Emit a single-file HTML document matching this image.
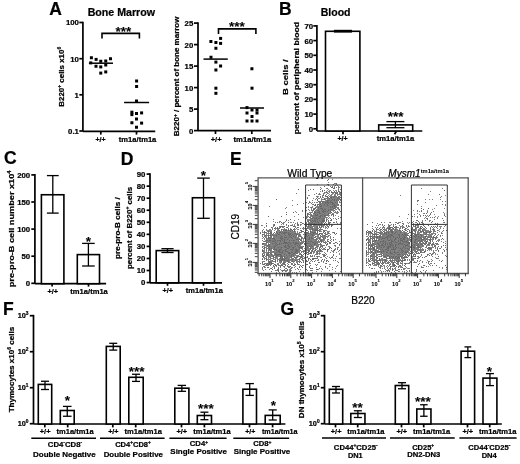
<!DOCTYPE html>
<html><head><meta charset="utf-8"><style>
html,body{margin:0;padding:0;background:#fff;}
svg{display:block;font-family:'Liberation Sans', Arial, sans-serif;}
text{stroke:#000;stroke-width:0.22px;}
</style></head><body>
<svg width="520" height="464" viewBox="0 0 520 464">
<rect width="520" height="464" fill="#fff"/>
<text x="49.20" y="14.75" font-size="17.5" font-weight="bold" text-anchor="start">A</text>
<text x="278.90" y="14.50" font-size="17.5" font-weight="bold" text-anchor="start">B</text>
<text x="4.00" y="164.40" font-size="17.5" font-weight="bold" text-anchor="start">C</text>
<text x="120.80" y="164.75" font-size="17.5" font-weight="bold" text-anchor="start">D</text>
<text x="230.10" y="164.75" font-size="17.5" font-weight="bold" text-anchor="start">E</text>
<text x="2.90" y="315.25" font-size="17.5" font-weight="bold" text-anchor="start">F</text>
<text x="280.50" y="315.00" font-size="17.5" font-weight="bold" text-anchor="start">G</text>
<text x="121.35" y="16.10" font-size="10.2" font-weight="bold" text-anchor="middle" textLength="67.40" lengthAdjust="spacingAndGlyphs">Bone Marrow</text>
<line x1="82.90" y1="21.65" x2="82.90" y2="131.30" stroke="#000" stroke-width="1.7"/>
<line x1="79.30" y1="22.50" x2="82.90" y2="22.50" stroke="#000" stroke-width="1.7"/>
<text x="78.90" y="25.40" font-size="7.8" font-weight="bold" text-anchor="end">100</text>
<line x1="79.30" y1="58.70" x2="82.90" y2="58.70" stroke="#000" stroke-width="1.7"/>
<text x="78.90" y="61.60" font-size="7.8" font-weight="bold" text-anchor="end">10</text>
<line x1="79.30" y1="94.80" x2="82.90" y2="94.80" stroke="#000" stroke-width="1.7"/>
<text x="78.90" y="97.70" font-size="7.8" font-weight="bold" text-anchor="end">1</text>
<line x1="79.30" y1="131.00" x2="82.90" y2="131.00" stroke="#000" stroke-width="1.7"/>
<text x="78.90" y="133.90" font-size="7.8" font-weight="bold" text-anchor="end">0.1</text>
<line x1="82.90" y1="131.30" x2="155.20" y2="131.30" stroke="#000" stroke-width="1.7"/>
<line x1="100.80" y1="131.30" x2="100.80" y2="134.60" stroke="#000" stroke-width="1.7"/>
<line x1="136.50" y1="131.30" x2="136.50" y2="134.60" stroke="#000" stroke-width="1.7"/>
<text x="100.55" y="141.50" font-size="7.3" font-weight="bold" text-anchor="middle" textLength="10.20" lengthAdjust="spacingAndGlyphs">+/+</text>
<text x="137.60" y="141.50" font-size="7.3" font-weight="bold" text-anchor="middle" textLength="37.50" lengthAdjust="spacingAndGlyphs">tm1a/tm1a</text>
<path d="M102,38.6 V33.4 H139.4 V38.6" stroke="#000" stroke-width="1.6" fill="none"/>
<text x="123.40" y="36.00" font-size="13.5" font-weight="bold" text-anchor="middle" style="stroke-width:0.1px">***</text>
<rect x="89.90" y="56.25" width="3.0" height="3.0" fill="#000"/>
<rect x="94.60" y="57.90" width="3.0" height="3.0" fill="#000"/>
<rect x="99.25" y="59.75" width="3.0" height="3.0" fill="#000"/>
<rect x="104.25" y="59.50" width="3.0" height="3.0" fill="#000"/>
<rect x="109.00" y="57.25" width="3.0" height="3.0" fill="#000"/>
<rect x="89.25" y="61.40" width="3.0" height="3.0" fill="#000"/>
<rect x="94.50" y="64.75" width="3.0" height="3.0" fill="#000"/>
<rect x="99.25" y="65.40" width="3.0" height="3.0" fill="#000"/>
<rect x="104.25" y="63.50" width="3.0" height="3.0" fill="#000"/>
<rect x="99.25" y="71.60" width="3.0" height="3.0" fill="#000"/>
<rect x="104.25" y="70.40" width="3.0" height="3.0" fill="#000"/>
<rect x="135.10" y="79.50" width="3.0" height="3.0" fill="#000"/>
<rect x="135.10" y="85.00" width="3.0" height="3.0" fill="#000"/>
<rect x="135.00" y="99.50" width="3.0" height="3.0" fill="#000"/>
<rect x="130.40" y="110.70" width="3.0" height="3.0" fill="#000"/>
<rect x="130.40" y="113.10" width="3.0" height="3.0" fill="#000"/>
<rect x="135.00" y="112.00" width="3.0" height="3.0" fill="#000"/>
<rect x="140.10" y="111.40" width="3.0" height="3.0" fill="#000"/>
<rect x="135.00" y="117.50" width="3.0" height="3.0" fill="#000"/>
<rect x="130.40" y="121.25" width="3.0" height="3.0" fill="#000"/>
<rect x="140.10" y="121.60" width="3.0" height="3.0" fill="#000"/>
<rect x="135.00" y="125.75" width="3.0" height="3.0" fill="#000"/>
<line x1="88.90" y1="63.20" x2="113.00" y2="63.20" stroke="#000" stroke-width="1.5"/>
<line x1="124.10" y1="102.50" x2="149.10" y2="102.50" stroke="#000" stroke-width="1.5"/>
<text x="64.00" y="76.75" font-size="8" font-weight="bold" text-anchor="middle" transform="rotate(-90 64.00 76.75)" textLength="59.80" lengthAdjust="spacingAndGlyphs">B220<tspan dy="-2.9" font-size="5">+</tspan><tspan dy="2.9"> cells x10</tspan><tspan dy="-2.9" font-size="5">6</tspan></text>
<line x1="198.00" y1="22.25" x2="198.00" y2="130.70" stroke="#000" stroke-width="1.7"/>
<line x1="194.00" y1="23.10" x2="198.00" y2="23.10" stroke="#000" stroke-width="1.7"/>
<text x="193.30" y="26.00" font-size="7.8" font-weight="bold" text-anchor="end">25</text>
<line x1="194.00" y1="44.60" x2="198.00" y2="44.60" stroke="#000" stroke-width="1.7"/>
<text x="193.30" y="47.50" font-size="7.8" font-weight="bold" text-anchor="end">20</text>
<line x1="194.00" y1="66.10" x2="198.00" y2="66.10" stroke="#000" stroke-width="1.7"/>
<text x="193.30" y="69.00" font-size="7.8" font-weight="bold" text-anchor="end">15</text>
<line x1="194.00" y1="87.60" x2="198.00" y2="87.60" stroke="#000" stroke-width="1.7"/>
<text x="193.30" y="90.50" font-size="7.8" font-weight="bold" text-anchor="end">10</text>
<line x1="194.00" y1="109.10" x2="198.00" y2="109.10" stroke="#000" stroke-width="1.7"/>
<text x="193.30" y="112.00" font-size="7.8" font-weight="bold" text-anchor="end">5</text>
<line x1="194.00" y1="130.60" x2="198.00" y2="130.60" stroke="#000" stroke-width="1.7"/>
<text x="193.30" y="133.50" font-size="7.8" font-weight="bold" text-anchor="end">0</text>
<line x1="198.00" y1="130.70" x2="271.00" y2="130.70" stroke="#000" stroke-width="1.7"/>
<line x1="215.50" y1="130.70" x2="215.50" y2="134.00" stroke="#000" stroke-width="1.7"/>
<line x1="251.80" y1="130.70" x2="251.80" y2="134.00" stroke="#000" stroke-width="1.7"/>
<text x="216.10" y="141.50" font-size="7.3" font-weight="bold" text-anchor="middle" textLength="10.90" lengthAdjust="spacingAndGlyphs">+/+</text>
<text x="252.45" y="141.50" font-size="7.3" font-weight="bold" text-anchor="middle" textLength="37.80" lengthAdjust="spacingAndGlyphs">tm1a/tm1a</text>
<path d="M218.5,33.9 V28.9 H255.9 V33.9" stroke="#000" stroke-width="1.6" fill="none"/>
<text x="236.90" y="31.10" font-size="13.5" font-weight="bold" text-anchor="middle" style="stroke-width:0.1px">***</text>
<rect x="209.40" y="40.00" width="3.0" height="3.0" fill="#000"/>
<rect x="214.40" y="41.00" width="3.0" height="3.0" fill="#000"/>
<rect x="219.10" y="36.90" width="3.0" height="3.0" fill="#000"/>
<rect x="219.10" y="41.90" width="3.0" height="3.0" fill="#000"/>
<rect x="214.40" y="46.75" width="3.0" height="3.0" fill="#000"/>
<rect x="209.50" y="55.75" width="3.0" height="3.0" fill="#000"/>
<rect x="214.40" y="60.60" width="3.0" height="3.0" fill="#000"/>
<rect x="219.10" y="64.50" width="3.0" height="3.0" fill="#000"/>
<rect x="214.40" y="68.50" width="3.0" height="3.0" fill="#000"/>
<rect x="214.40" y="86.70" width="3.0" height="3.0" fill="#000"/>
<rect x="214.40" y="91.80" width="3.0" height="3.0" fill="#000"/>
<rect x="250.40" y="67.25" width="3.0" height="3.0" fill="#000"/>
<rect x="250.50" y="86.70" width="3.0" height="3.0" fill="#000"/>
<rect x="245.50" y="106.10" width="3.0" height="3.0" fill="#000"/>
<rect x="245.50" y="111.50" width="3.0" height="3.0" fill="#000"/>
<rect x="250.50" y="108.50" width="3.0" height="3.0" fill="#000"/>
<rect x="255.50" y="108.50" width="3.0" height="3.0" fill="#000"/>
<rect x="255.50" y="111.50" width="3.0" height="3.0" fill="#000"/>
<rect x="250.50" y="115.00" width="3.0" height="3.0" fill="#000"/>
<rect x="245.50" y="119.50" width="3.0" height="3.0" fill="#000"/>
<rect x="250.50" y="119.50" width="3.0" height="3.0" fill="#000"/>
<rect x="255.50" y="119.50" width="3.0" height="3.0" fill="#000"/>
<line x1="203.50" y1="59.10" x2="227.80" y2="59.10" stroke="#000" stroke-width="1.5"/>
<line x1="240.00" y1="108.00" x2="264.00" y2="108.00" stroke="#000" stroke-width="1.5"/>
<text x="179.50" y="76.35" font-size="8" font-weight="bold" text-anchor="middle" transform="rotate(-90 179.50 76.35)" textLength="119.60" lengthAdjust="spacingAndGlyphs">B220<tspan dy="-2.9" font-size="5">+</tspan><tspan dy="2.9"> / percent of bone marrow</tspan></text>
<text x="335.60" y="15.90" font-size="10.6" font-weight="bold" text-anchor="middle" textLength="29.90" lengthAdjust="spacingAndGlyphs">Blood</text>
<line x1="316.90" y1="25.05" x2="316.90" y2="131.00" stroke="#000" stroke-width="1.7"/>
<line x1="313.30" y1="25.90" x2="316.90" y2="25.90" stroke="#000" stroke-width="1.7"/>
<text x="313.20" y="28.80" font-size="7.8" font-weight="bold" text-anchor="end">70</text>
<line x1="313.30" y1="40.60" x2="316.90" y2="40.60" stroke="#000" stroke-width="1.7"/>
<text x="313.20" y="43.50" font-size="7.8" font-weight="bold" text-anchor="end">60</text>
<line x1="313.30" y1="55.30" x2="316.90" y2="55.30" stroke="#000" stroke-width="1.7"/>
<text x="313.20" y="58.20" font-size="7.8" font-weight="bold" text-anchor="end">50</text>
<line x1="313.30" y1="70.00" x2="316.90" y2="70.00" stroke="#000" stroke-width="1.7"/>
<text x="313.20" y="72.90" font-size="7.8" font-weight="bold" text-anchor="end">40</text>
<line x1="313.30" y1="84.70" x2="316.90" y2="84.70" stroke="#000" stroke-width="1.7"/>
<text x="313.20" y="87.60" font-size="7.8" font-weight="bold" text-anchor="end">30</text>
<line x1="313.30" y1="99.40" x2="316.90" y2="99.40" stroke="#000" stroke-width="1.7"/>
<text x="313.20" y="102.30" font-size="7.8" font-weight="bold" text-anchor="end">20</text>
<line x1="313.30" y1="114.10" x2="316.90" y2="114.10" stroke="#000" stroke-width="1.7"/>
<text x="313.20" y="117.00" font-size="7.8" font-weight="bold" text-anchor="end">10</text>
<line x1="313.30" y1="128.80" x2="316.90" y2="128.80" stroke="#000" stroke-width="1.7"/>
<text x="313.20" y="131.70" font-size="7.8" font-weight="bold" text-anchor="end">0</text>
<line x1="316.90" y1="131.00" x2="422.30" y2="131.00" stroke="#000" stroke-width="1.7"/>
<rect x="325.50" y="31.30" width="34.40" height="99.70" fill="#fff" stroke="#000" stroke-width="1.6"/>
<line x1="333.90" y1="31.20" x2="352.00" y2="31.20" stroke="#000" stroke-width="2.8"/>
<rect x="378.70" y="124.90" width="34.00" height="6.10" fill="#fff" stroke="#000" stroke-width="1.6"/>
<line x1="395.40" y1="121.60" x2="395.40" y2="127.70" stroke="#000" stroke-width="1.3"/>
<line x1="386.40" y1="121.60" x2="404.40" y2="121.60" stroke="#000" stroke-width="1.3"/>
<line x1="386.40" y1="127.70" x2="404.40" y2="127.70" stroke="#000" stroke-width="1.3"/>
<text x="395.60" y="121.40" font-size="13.5" font-weight="bold" text-anchor="middle" style="stroke-width:0.1px">***</text>
<line x1="343.00" y1="131.00" x2="343.00" y2="134.30" stroke="#000" stroke-width="1.7"/>
<line x1="396.50" y1="131.00" x2="394.50" y2="134.30" stroke="#000" stroke-width="1.7"/>
<text x="342.55" y="141.30" font-size="7.3" font-weight="bold" text-anchor="middle" textLength="10.20" lengthAdjust="spacingAndGlyphs">+/+</text>
<text x="395.50" y="141.30" font-size="7.3" font-weight="bold" text-anchor="middle" textLength="37.70" lengthAdjust="spacingAndGlyphs">tm1a/tm1a</text>
<text x="287.90" y="77.20" font-size="8" font-weight="bold" text-anchor="middle" transform="rotate(-90 287.90 77.20)" textLength="35.70" lengthAdjust="spacingAndGlyphs">B cells /</text>
<text x="298.90" y="78.10" font-size="8" font-weight="bold" text-anchor="middle" transform="rotate(-90 298.90 78.10)" textLength="112.30" lengthAdjust="spacingAndGlyphs">percent of peripheral blood</text>
<line x1="34.90" y1="174.05" x2="34.90" y2="283.70" stroke="#000" stroke-width="1.7"/>
<line x1="31.30" y1="174.90" x2="34.90" y2="174.90" stroke="#000" stroke-width="1.7"/>
<text x="30.20" y="177.80" font-size="7.8" font-weight="bold" text-anchor="end">200</text>
<line x1="31.30" y1="202.00" x2="34.90" y2="202.00" stroke="#000" stroke-width="1.7"/>
<text x="30.20" y="204.90" font-size="7.8" font-weight="bold" text-anchor="end">150</text>
<line x1="31.30" y1="229.10" x2="34.90" y2="229.10" stroke="#000" stroke-width="1.7"/>
<text x="30.20" y="232.00" font-size="7.8" font-weight="bold" text-anchor="end">100</text>
<line x1="31.30" y1="256.20" x2="34.90" y2="256.20" stroke="#000" stroke-width="1.7"/>
<text x="30.20" y="259.10" font-size="7.8" font-weight="bold" text-anchor="end">50</text>
<line x1="31.30" y1="283.30" x2="34.90" y2="283.30" stroke="#000" stroke-width="1.7"/>
<text x="30.20" y="286.20" font-size="7.8" font-weight="bold" text-anchor="end">0</text>
<line x1="34.90" y1="283.70" x2="106.10" y2="283.70" stroke="#000" stroke-width="1.7"/>
<rect x="41.40" y="194.75" width="22.50" height="88.95" fill="#fff" stroke="#000" stroke-width="1.6"/>
<line x1="52.80" y1="175.60" x2="52.80" y2="213.10" stroke="#000" stroke-width="1.3"/>
<line x1="46.90" y1="175.60" x2="58.70" y2="175.60" stroke="#000" stroke-width="1.3"/>
<line x1="46.90" y1="213.10" x2="58.70" y2="213.10" stroke="#000" stroke-width="1.3"/>
<rect x="77.30" y="254.60" width="22.20" height="29.10" fill="#fff" stroke="#000" stroke-width="1.6"/>
<line x1="88.40" y1="243.40" x2="88.40" y2="266.00" stroke="#000" stroke-width="1.3"/>
<line x1="82.10" y1="243.40" x2="94.70" y2="243.40" stroke="#000" stroke-width="1.3"/>
<line x1="82.10" y1="266.00" x2="94.70" y2="266.00" stroke="#000" stroke-width="1.3"/>
<text x="88.30" y="246.20" font-size="13.5" font-weight="bold" text-anchor="middle" style="stroke-width:0.1px">*</text>
<line x1="52.10" y1="283.70" x2="52.10" y2="286.60" stroke="#000" stroke-width="1.7"/>
<line x1="88.50" y1="283.70" x2="88.50" y2="286.60" stroke="#000" stroke-width="1.7"/>
<text x="52.75" y="293.80" font-size="7.3" font-weight="bold" text-anchor="middle" textLength="10.60" lengthAdjust="spacingAndGlyphs">+/+</text>
<text x="89.10" y="293.80" font-size="7.3" font-weight="bold" text-anchor="middle" textLength="37.50" lengthAdjust="spacingAndGlyphs">tm1a/tm1a</text>
<text x="14.00" y="228.90" font-size="8" font-weight="bold" text-anchor="middle" transform="rotate(-90 14.00 228.90)" textLength="116.70" lengthAdjust="spacingAndGlyphs">pre-pro-B cell number x10<tspan dy="-2.9" font-size="5">4</tspan></text>
<line x1="150.00" y1="173.25" x2="150.00" y2="282.80" stroke="#000" stroke-width="1.7"/>
<line x1="146.60" y1="174.10" x2="150.00" y2="174.10" stroke="#000" stroke-width="1.7"/>
<text x="145.40" y="177.00" font-size="7.8" font-weight="bold" text-anchor="end">90</text>
<line x1="146.60" y1="186.15" x2="150.00" y2="186.15" stroke="#000" stroke-width="1.7"/>
<text x="145.40" y="189.05" font-size="7.8" font-weight="bold" text-anchor="end">80</text>
<line x1="146.60" y1="198.20" x2="150.00" y2="198.20" stroke="#000" stroke-width="1.7"/>
<text x="145.40" y="201.10" font-size="7.8" font-weight="bold" text-anchor="end">70</text>
<line x1="146.60" y1="210.25" x2="150.00" y2="210.25" stroke="#000" stroke-width="1.7"/>
<text x="145.40" y="213.15" font-size="7.8" font-weight="bold" text-anchor="end">60</text>
<line x1="146.60" y1="222.30" x2="150.00" y2="222.30" stroke="#000" stroke-width="1.7"/>
<text x="145.40" y="225.20" font-size="7.8" font-weight="bold" text-anchor="end">50</text>
<line x1="146.60" y1="234.35" x2="150.00" y2="234.35" stroke="#000" stroke-width="1.7"/>
<text x="145.40" y="237.25" font-size="7.8" font-weight="bold" text-anchor="end">40</text>
<line x1="146.60" y1="246.40" x2="150.00" y2="246.40" stroke="#000" stroke-width="1.7"/>
<text x="145.40" y="249.30" font-size="7.8" font-weight="bold" text-anchor="end">30</text>
<line x1="146.60" y1="258.45" x2="150.00" y2="258.45" stroke="#000" stroke-width="1.7"/>
<text x="145.40" y="261.35" font-size="7.8" font-weight="bold" text-anchor="end">20</text>
<line x1="146.60" y1="270.50" x2="150.00" y2="270.50" stroke="#000" stroke-width="1.7"/>
<text x="145.40" y="273.40" font-size="7.8" font-weight="bold" text-anchor="end">10</text>
<line x1="146.60" y1="282.55" x2="150.00" y2="282.55" stroke="#000" stroke-width="1.7"/>
<text x="145.40" y="285.45" font-size="7.8" font-weight="bold" text-anchor="end">0</text>
<line x1="150.00" y1="282.80" x2="222.00" y2="282.80" stroke="#000" stroke-width="1.7"/>
<rect x="156.20" y="250.60" width="22.50" height="32.20" fill="#fff" stroke="#000" stroke-width="1.6"/>
<line x1="167.50" y1="248.70" x2="167.50" y2="252.50" stroke="#000" stroke-width="1.3"/>
<line x1="161.40" y1="248.70" x2="173.60" y2="248.70" stroke="#000" stroke-width="1.3"/>
<line x1="161.40" y1="252.50" x2="173.60" y2="252.50" stroke="#000" stroke-width="1.3"/>
<rect x="192.40" y="197.75" width="22.10" height="85.05" fill="#fff" stroke="#000" stroke-width="1.6"/>
<line x1="203.50" y1="178.10" x2="203.50" y2="218.30" stroke="#000" stroke-width="1.3"/>
<line x1="197.20" y1="178.10" x2="209.80" y2="178.10" stroke="#000" stroke-width="1.3"/>
<line x1="197.20" y1="218.30" x2="209.80" y2="218.30" stroke="#000" stroke-width="1.3"/>
<text x="203.50" y="180.10" font-size="13.5" font-weight="bold" text-anchor="middle" style="stroke-width:0.1px">*</text>
<line x1="167.50" y1="282.80" x2="167.50" y2="285.80" stroke="#000" stroke-width="1.7"/>
<line x1="203.50" y1="282.80" x2="203.50" y2="285.80" stroke="#000" stroke-width="1.7"/>
<text x="167.75" y="293.00" font-size="7.3" font-weight="bold" text-anchor="middle" textLength="10.60" lengthAdjust="spacingAndGlyphs">+/+</text>
<text x="204.35" y="293.00" font-size="7.3" font-weight="bold" text-anchor="middle" textLength="37.00" lengthAdjust="spacingAndGlyphs">tm1a/tm1a</text>
<text x="120.20" y="228.15" font-size="8" font-weight="bold" text-anchor="middle" transform="rotate(-90 120.20 228.15)" textLength="61.60" lengthAdjust="spacingAndGlyphs">pre-pro-B cells /</text>
<text x="132.00" y="227.95" font-size="8" font-weight="bold" text-anchor="middle" transform="rotate(-90 132.00 227.95)" textLength="82.20" lengthAdjust="spacingAndGlyphs">percent of B220<tspan dy="-2.9" font-size="5">+</tspan><tspan dy="2.9"> cells</tspan></text>
<line x1="33.50" y1="314.85" x2="33.50" y2="424.00" stroke="#000" stroke-width="1.7"/>
<line x1="29.80" y1="315.70" x2="33.50" y2="315.70" stroke="#000" stroke-width="1.7"/>
<text x="28.50" y="317.60" font-size="7.3" font-weight="bold" text-anchor="end">10<tspan dy="-3.0" font-size="4.8">3</tspan></text>
<line x1="29.80" y1="351.70" x2="33.50" y2="351.70" stroke="#000" stroke-width="1.7"/>
<text x="28.50" y="353.60" font-size="7.3" font-weight="bold" text-anchor="end">10<tspan dy="-3.0" font-size="4.8">2</tspan></text>
<line x1="29.80" y1="387.70" x2="33.50" y2="387.70" stroke="#000" stroke-width="1.7"/>
<text x="28.50" y="389.60" font-size="7.3" font-weight="bold" text-anchor="end">10<tspan dy="-3.0" font-size="4.8">1</tspan></text>
<line x1="29.80" y1="423.70" x2="33.50" y2="423.70" stroke="#000" stroke-width="1.7"/>
<text x="28.50" y="425.60" font-size="7.3" font-weight="bold" text-anchor="end">10<tspan dy="-3.0" font-size="4.8">0</tspan></text>
<line x1="33.50" y1="424.00" x2="285.40" y2="424.00" stroke="#000" stroke-width="1.7"/>
<rect x="38.30" y="384.40" width="13.40" height="39.60" fill="#fff" stroke="#000" stroke-width="1.6"/>
<line x1="45.00" y1="381.25" x2="45.00" y2="389.50" stroke="#000" stroke-width="1.3"/>
<line x1="41.00" y1="381.25" x2="49.00" y2="381.25" stroke="#000" stroke-width="1.3"/>
<line x1="41.00" y1="389.50" x2="49.00" y2="389.50" stroke="#000" stroke-width="1.3"/>
<rect x="60.30" y="410.50" width="13.90" height="13.50" fill="#fff" stroke="#000" stroke-width="1.6"/>
<line x1="67.25" y1="406.40" x2="67.25" y2="416.25" stroke="#000" stroke-width="1.3"/>
<line x1="62.95" y1="406.40" x2="71.55" y2="406.40" stroke="#000" stroke-width="1.3"/>
<line x1="62.95" y1="416.25" x2="71.55" y2="416.25" stroke="#000" stroke-width="1.3"/>
<rect x="106.30" y="346.40" width="13.90" height="77.60" fill="#fff" stroke="#000" stroke-width="1.6"/>
<line x1="113.25" y1="343.30" x2="113.25" y2="350.10" stroke="#000" stroke-width="1.3"/>
<line x1="109.25" y1="343.30" x2="117.25" y2="343.30" stroke="#000" stroke-width="1.3"/>
<line x1="109.25" y1="350.10" x2="117.25" y2="350.10" stroke="#000" stroke-width="1.3"/>
<rect x="128.80" y="377.30" width="14.40" height="46.70" fill="#fff" stroke="#000" stroke-width="1.6"/>
<line x1="136.00" y1="374.25" x2="136.00" y2="381.40" stroke="#000" stroke-width="1.3"/>
<line x1="132.00" y1="374.25" x2="140.00" y2="374.25" stroke="#000" stroke-width="1.3"/>
<line x1="132.00" y1="381.40" x2="140.00" y2="381.40" stroke="#000" stroke-width="1.3"/>
<rect x="174.80" y="388.20" width="14.10" height="35.80" fill="#fff" stroke="#000" stroke-width="1.6"/>
<line x1="181.85" y1="385.40" x2="181.85" y2="391.30" stroke="#000" stroke-width="1.3"/>
<line x1="177.65" y1="385.40" x2="186.05" y2="385.40" stroke="#000" stroke-width="1.3"/>
<line x1="177.65" y1="391.30" x2="186.05" y2="391.30" stroke="#000" stroke-width="1.3"/>
<rect x="197.30" y="415.50" width="14.20" height="8.50" fill="#fff" stroke="#000" stroke-width="1.6"/>
<line x1="204.40" y1="412.20" x2="204.40" y2="419.70" stroke="#000" stroke-width="1.3"/>
<line x1="200.40" y1="412.20" x2="208.40" y2="412.20" stroke="#000" stroke-width="1.3"/>
<line x1="200.40" y1="419.70" x2="208.40" y2="419.70" stroke="#000" stroke-width="1.3"/>
<rect x="242.90" y="389.20" width="13.60" height="34.80" fill="#fff" stroke="#000" stroke-width="1.6"/>
<line x1="249.70" y1="383.60" x2="249.70" y2="395.40" stroke="#000" stroke-width="1.3"/>
<line x1="245.50" y1="383.60" x2="253.90" y2="383.60" stroke="#000" stroke-width="1.3"/>
<line x1="245.50" y1="395.40" x2="253.90" y2="395.40" stroke="#000" stroke-width="1.3"/>
<rect x="265.20" y="415.40" width="15.00" height="8.60" fill="#fff" stroke="#000" stroke-width="1.6"/>
<line x1="272.70" y1="409.90" x2="272.70" y2="420.00" stroke="#000" stroke-width="1.3"/>
<line x1="268.65" y1="409.90" x2="276.75" y2="409.90" stroke="#000" stroke-width="1.3"/>
<line x1="268.65" y1="420.00" x2="276.75" y2="420.00" stroke="#000" stroke-width="1.3"/>
<line x1="44.80" y1="424.00" x2="44.80" y2="427.40" stroke="#000" stroke-width="1.7"/>
<line x1="67.70" y1="424.00" x2="67.70" y2="427.40" stroke="#000" stroke-width="1.7"/>
<line x1="112.80" y1="424.00" x2="112.80" y2="427.40" stroke="#000" stroke-width="1.7"/>
<line x1="135.70" y1="424.00" x2="135.70" y2="427.40" stroke="#000" stroke-width="1.7"/>
<line x1="181.50" y1="424.00" x2="181.50" y2="427.40" stroke="#000" stroke-width="1.7"/>
<line x1="204.40" y1="424.00" x2="204.40" y2="427.40" stroke="#000" stroke-width="1.7"/>
<line x1="249.50" y1="424.00" x2="249.50" y2="427.40" stroke="#000" stroke-width="1.7"/>
<line x1="272.60" y1="424.00" x2="272.60" y2="427.40" stroke="#000" stroke-width="1.7"/>
<text x="67.50" y="405.30" font-size="13.5" font-weight="bold" text-anchor="middle" style="stroke-width:0.1px">*</text>
<text x="136.75" y="375.75" font-size="13.5" font-weight="bold" text-anchor="middle" style="stroke-width:0.1px">***</text>
<text x="205.90" y="413.40" font-size="13.5" font-weight="bold" text-anchor="middle" style="stroke-width:0.1px">***</text>
<text x="273.30" y="409.50" font-size="13.5" font-weight="bold" text-anchor="middle" style="stroke-width:0.1px">*</text>
<text x="45.15" y="434.30" font-size="7.3" font-weight="bold" text-anchor="middle" textLength="10.80" lengthAdjust="spacingAndGlyphs">+/+</text>
<text x="113.35" y="434.30" font-size="7.3" font-weight="bold" text-anchor="middle" textLength="10.40" lengthAdjust="spacingAndGlyphs">+/+</text>
<text x="181.85" y="434.30" font-size="7.3" font-weight="bold" text-anchor="middle" textLength="10.80" lengthAdjust="spacingAndGlyphs">+/+</text>
<text x="250.20" y="434.30" font-size="7.3" font-weight="bold" text-anchor="middle" textLength="10.10" lengthAdjust="spacingAndGlyphs">+/+</text>
<text x="75.10" y="434.30" font-size="7.3" font-weight="bold" text-anchor="middle" textLength="37.10" lengthAdjust="spacingAndGlyphs">tm1a/tm1a</text>
<text x="143.20" y="434.30" font-size="7.3" font-weight="bold" text-anchor="middle" textLength="37.30" lengthAdjust="spacingAndGlyphs">tm1a/tm1a</text>
<text x="211.95" y="434.30" font-size="7.3" font-weight="bold" text-anchor="middle" textLength="37.40" lengthAdjust="spacingAndGlyphs">tm1a/tm1a</text>
<text x="279.80" y="434.30" font-size="7.3" font-weight="bold" text-anchor="middle" textLength="35.70" lengthAdjust="spacingAndGlyphs">tm1a/tm1a</text>
<line x1="31.30" y1="438.30" x2="96.00" y2="438.30" stroke="#000" stroke-width="1.6"/>
<line x1="100.00" y1="438.30" x2="164.60" y2="438.30" stroke="#000" stroke-width="1.6"/>
<line x1="169.40" y1="438.30" x2="226.60" y2="438.30" stroke="#000" stroke-width="1.6"/>
<line x1="233.30" y1="438.30" x2="289.20" y2="438.30" stroke="#000" stroke-width="1.6"/>
<text x="65.00" y="447.00" font-size="7.8" font-weight="bold" text-anchor="middle" textLength="34.30" lengthAdjust="spacingAndGlyphs">CD4<tspan dy="-2.9" font-size="5">-</tspan><tspan dy="2.9">CD8</tspan><tspan dy="-2.9" font-size="5">-</tspan></text>
<text x="64.35" y="457.00" font-size="7.8" font-weight="bold" text-anchor="middle" textLength="62.60" lengthAdjust="spacingAndGlyphs">Double Negative</text>
<text x="133.00" y="447.00" font-size="7.8" font-weight="bold" text-anchor="middle" textLength="35.70" lengthAdjust="spacingAndGlyphs">CD4<tspan dy="-2.9" font-size="5">+</tspan><tspan dy="2.9">CD8</tspan><tspan dy="-2.9" font-size="5">+</tspan></text>
<text x="133.30" y="457.00" font-size="7.8" font-weight="bold" text-anchor="middle" textLength="59.30" lengthAdjust="spacingAndGlyphs">Double Positive</text>
<text x="198.95" y="446.40" font-size="7.8" font-weight="bold" text-anchor="middle" textLength="18.20" lengthAdjust="spacingAndGlyphs">CD4<tspan dy="-2.9" font-size="5">+</tspan></text>
<text x="198.65" y="454.40" font-size="7.8" font-weight="bold" text-anchor="middle" textLength="56.60" lengthAdjust="spacingAndGlyphs">Single Positive</text>
<text x="262.25" y="446.40" font-size="7.8" font-weight="bold" text-anchor="middle" textLength="18.20" lengthAdjust="spacingAndGlyphs">CD8<tspan dy="-2.9" font-size="5">+</tspan></text>
<text x="261.95" y="454.40" font-size="7.8" font-weight="bold" text-anchor="middle" textLength="56.60" lengthAdjust="spacingAndGlyphs">Single Positive</text>
<text x="14.00" y="369.60" font-size="8" font-weight="bold" text-anchor="middle" transform="rotate(-90 14.00 369.60)" textLength="85.50" lengthAdjust="spacingAndGlyphs">Thymocytes x10<tspan dy="-2.9" font-size="5">6</tspan><tspan dy="2.9"> cells</tspan></text>
<line x1="324.50" y1="314.85" x2="324.50" y2="424.00" stroke="#000" stroke-width="1.7"/>
<line x1="320.80" y1="315.70" x2="324.50" y2="315.70" stroke="#000" stroke-width="1.7"/>
<text x="319.60" y="317.60" font-size="7.3" font-weight="bold" text-anchor="end">10<tspan dy="-3.0" font-size="4.8">3</tspan></text>
<line x1="320.80" y1="351.70" x2="324.50" y2="351.70" stroke="#000" stroke-width="1.7"/>
<text x="319.60" y="353.60" font-size="7.3" font-weight="bold" text-anchor="end">10<tspan dy="-3.0" font-size="4.8">2</tspan></text>
<line x1="320.80" y1="387.70" x2="324.50" y2="387.70" stroke="#000" stroke-width="1.7"/>
<text x="319.60" y="389.60" font-size="7.3" font-weight="bold" text-anchor="end">10<tspan dy="-3.0" font-size="4.8">1</tspan></text>
<line x1="320.80" y1="423.70" x2="324.50" y2="423.70" stroke="#000" stroke-width="1.7"/>
<text x="319.60" y="425.60" font-size="7.3" font-weight="bold" text-anchor="end">10<tspan dy="-3.0" font-size="4.8">0</tspan></text>
<line x1="324.50" y1="424.00" x2="501.80" y2="424.00" stroke="#000" stroke-width="1.7"/>
<rect x="329.30" y="389.30" width="13.40" height="34.70" fill="#fff" stroke="#000" stroke-width="1.6"/>
<line x1="336.00" y1="386.50" x2="336.00" y2="393.00" stroke="#000" stroke-width="1.3"/>
<line x1="332.00" y1="386.50" x2="340.00" y2="386.50" stroke="#000" stroke-width="1.3"/>
<line x1="332.00" y1="393.00" x2="340.00" y2="393.00" stroke="#000" stroke-width="1.3"/>
<rect x="350.80" y="413.50" width="14.15" height="10.50" fill="#fff" stroke="#000" stroke-width="1.6"/>
<line x1="357.88" y1="410.75" x2="357.88" y2="417.50" stroke="#000" stroke-width="1.3"/>
<line x1="353.88" y1="410.75" x2="361.88" y2="410.75" stroke="#000" stroke-width="1.3"/>
<line x1="353.88" y1="417.50" x2="361.88" y2="417.50" stroke="#000" stroke-width="1.3"/>
<rect x="395.30" y="385.50" width="13.40" height="38.50" fill="#fff" stroke="#000" stroke-width="1.6"/>
<line x1="402.00" y1="382.70" x2="402.00" y2="388.75" stroke="#000" stroke-width="1.3"/>
<line x1="398.00" y1="382.70" x2="406.00" y2="382.70" stroke="#000" stroke-width="1.3"/>
<line x1="398.00" y1="388.75" x2="406.00" y2="388.75" stroke="#000" stroke-width="1.3"/>
<rect x="416.80" y="409.00" width="14.15" height="15.00" fill="#fff" stroke="#000" stroke-width="1.6"/>
<line x1="423.88" y1="404.75" x2="423.88" y2="416.25" stroke="#000" stroke-width="1.3"/>
<line x1="420.12" y1="404.75" x2="427.62" y2="404.75" stroke="#000" stroke-width="1.3"/>
<line x1="420.12" y1="416.25" x2="427.62" y2="416.25" stroke="#000" stroke-width="1.3"/>
<rect x="461.10" y="351.20" width="13.50" height="72.80" fill="#fff" stroke="#000" stroke-width="1.6"/>
<line x1="467.85" y1="346.90" x2="467.85" y2="357.60" stroke="#000" stroke-width="1.3"/>
<line x1="464.45" y1="346.90" x2="471.25" y2="346.90" stroke="#000" stroke-width="1.3"/>
<line x1="464.45" y1="357.60" x2="471.25" y2="357.60" stroke="#000" stroke-width="1.3"/>
<rect x="483.00" y="378.10" width="13.90" height="45.90" fill="#fff" stroke="#000" stroke-width="1.6"/>
<line x1="489.95" y1="373.60" x2="489.95" y2="385.60" stroke="#000" stroke-width="1.3"/>
<line x1="485.95" y1="373.60" x2="493.95" y2="373.60" stroke="#000" stroke-width="1.3"/>
<line x1="485.95" y1="385.60" x2="493.95" y2="385.60" stroke="#000" stroke-width="1.3"/>
<line x1="335.50" y1="424.00" x2="335.50" y2="427.40" stroke="#000" stroke-width="1.7"/>
<line x1="357.70" y1="424.00" x2="357.70" y2="427.40" stroke="#000" stroke-width="1.7"/>
<line x1="401.50" y1="424.00" x2="401.50" y2="427.40" stroke="#000" stroke-width="1.7"/>
<line x1="423.70" y1="424.00" x2="423.70" y2="427.40" stroke="#000" stroke-width="1.7"/>
<line x1="467.50" y1="424.00" x2="467.50" y2="427.40" stroke="#000" stroke-width="1.7"/>
<line x1="489.70" y1="424.00" x2="489.70" y2="427.40" stroke="#000" stroke-width="1.7"/>
<text x="357.40" y="412.00" font-size="13.5" font-weight="bold" text-anchor="middle" style="stroke-width:0.1px">**</text>
<text x="423.00" y="406.00" font-size="13.5" font-weight="bold" text-anchor="middle" style="stroke-width:0.1px">***</text>
<text x="489.50" y="375.50" font-size="13.5" font-weight="bold" text-anchor="middle" style="stroke-width:0.1px">*</text>
<text x="336.15" y="434.30" font-size="7.3" font-weight="bold" text-anchor="middle" textLength="10.60" lengthAdjust="spacingAndGlyphs">+/+</text>
<text x="401.85" y="434.30" font-size="7.3" font-weight="bold" text-anchor="middle" textLength="10.80" lengthAdjust="spacingAndGlyphs">+/+</text>
<text x="467.85" y="434.30" font-size="7.3" font-weight="bold" text-anchor="middle" textLength="10.80" lengthAdjust="spacingAndGlyphs">+/+</text>
<text x="365.90" y="434.30" font-size="7.3" font-weight="bold" text-anchor="middle" textLength="37.30" lengthAdjust="spacingAndGlyphs">tm1a/tm1a</text>
<text x="431.60" y="434.30" font-size="7.3" font-weight="bold" text-anchor="middle" textLength="37.30" lengthAdjust="spacingAndGlyphs">tm1a/tm1a</text>
<text x="497.75" y="434.30" font-size="7.3" font-weight="bold" text-anchor="middle" textLength="37.60" lengthAdjust="spacingAndGlyphs">tm1a/tm1a</text>
<line x1="322.00" y1="438.00" x2="386.00" y2="438.00" stroke="#000" stroke-width="1.6"/>
<line x1="390.00" y1="438.00" x2="454.70" y2="438.00" stroke="#000" stroke-width="1.6"/>
<line x1="459.40" y1="438.00" x2="516.60" y2="438.00" stroke="#000" stroke-width="1.6"/>
<text x="355.70" y="449.60" font-size="7.8" font-weight="bold" text-anchor="middle" textLength="43.70" lengthAdjust="spacingAndGlyphs">CD44<tspan dy="-2.9" font-size="5">+</tspan><tspan dy="2.9">CD25</tspan><tspan dy="-2.9" font-size="5">-</tspan></text>
<text x="355.35" y="458.40" font-size="7.8" font-weight="bold" text-anchor="middle" textLength="14.80" lengthAdjust="spacingAndGlyphs">DN1</text>
<text x="423.15" y="449.90" font-size="7.8" font-weight="bold" text-anchor="middle" textLength="22.00" lengthAdjust="spacingAndGlyphs">CD25<tspan dy="-2.9" font-size="5">+</tspan></text>
<text x="423.75" y="457.00" font-size="7.8" font-weight="bold" text-anchor="middle" textLength="33.00" lengthAdjust="spacingAndGlyphs">DN2-DN3</text>
<text x="489.25" y="449.60" font-size="7.8" font-weight="bold" text-anchor="middle" textLength="42.00" lengthAdjust="spacingAndGlyphs">CD44<tspan dy="-2.9" font-size="5">-</tspan><tspan dy="2.9">CD25</tspan><tspan dy="-2.9" font-size="5">-</tspan></text>
<text x="489.20" y="458.40" font-size="7.8" font-weight="bold" text-anchor="middle" textLength="15.10" lengthAdjust="spacingAndGlyphs">DN4</text>
<text x="304.00" y="369.75" font-size="8" font-weight="bold" text-anchor="middle" transform="rotate(-90 304.00 369.75)" textLength="96.80" lengthAdjust="spacingAndGlyphs">DN thymocytes x10<tspan dy="-2.9" font-size="5">5</tspan><tspan dy="2.9"> cells</tspan></text>
<g>
<path d="M328 179h1v1h-1zM336 183h1v1h-1zM328 184h1v1h-1zM333 184h1v1h-1zM335 185h1v1h-1zM324 186h1v1h-1zM332 186h1v1h-1zM338 186h1v1h-1zM331 187h1v1h-1zM332 187h1v1h-1zM334 187h1v1h-1zM327 188h1v1h-1zM333 188h1v1h-1zM334 188h1v1h-1zM298 189h1v1h-1zM313 189h1v1h-1zM320 189h1v1h-1zM338 189h1v1h-1zM322 190h1v1h-1zM324 190h1v1h-1zM322 191h1v1h-1zM334 191h1v1h-1zM338 191h1v1h-1zM305 192h1v1h-1zM326 192h1v1h-1zM331 192h1v1h-1zM332 192h1v1h-1zM335 192h1v1h-1zM337 192h1v1h-1zM340 192h1v1h-1zM316 193h1v1h-1zM319 193h1v1h-1zM335 193h1v1h-1zM336 193h1v1h-1zM337 194h1v1h-1zM323 195h1v1h-1zM325 195h1v1h-1zM320 196h1v1h-1zM326 196h1v1h-1zM327 196h1v1h-1zM334 196h1v1h-1zM339 196h1v1h-1zM317 197h1v1h-1zM327 197h1v1h-1zM330 197h1v1h-1zM331 197h1v1h-1zM333 197h1v1h-1zM338 197h1v1h-1zM340 197h1v1h-1zM307 198h1v1h-1zM316 198h1v1h-1zM324 198h1v1h-1zM329 198h1v1h-1zM331 198h1v1h-1zM337 198h1v1h-1zM339 198h1v1h-1zM276 199h1v1h-1zM317 199h1v1h-1zM324 199h1v1h-1zM332 199h1v1h-1zM334 199h1v1h-1zM337 199h1v1h-1zM340 199h1v1h-1zM317 200h1v1h-1zM327 200h1v1h-1zM328 200h1v1h-1zM331 200h1v1h-1zM334 200h1v1h-1zM336 200h1v1h-1zM338 200h1v1h-1zM318 201h1v1h-1zM322 201h1v1h-1zM323 201h1v1h-1zM327 201h1v1h-1zM330 201h1v1h-1zM309 202h1v1h-1zM319 202h1v1h-1zM320 202h1v1h-1zM322 202h1v1h-1zM325 202h1v1h-1zM326 202h1v1h-1zM327 202h1v1h-1zM328 202h1v1h-1zM330 202h1v1h-1zM331 202h1v1h-1zM332 202h1v1h-1zM335 202h1v1h-1zM337 202h1v1h-1zM325 203h1v1h-1zM328 203h1v1h-1zM332 203h1v1h-1zM333 203h1v1h-1zM297 204h1v1h-1zM313 204h1v1h-1zM315 204h1v1h-1zM317 204h1v1h-1zM318 204h1v1h-1zM320 204h1v1h-1zM324 204h1v1h-1zM327 204h1v1h-1zM332 204h1v1h-1zM334 204h1v1h-1zM338 204h1v1h-1zM314 205h1v1h-1zM315 205h1v1h-1zM319 205h1v1h-1zM321 205h1v1h-1zM324 205h1v1h-1zM327 205h1v1h-1zM333 205h1v1h-1zM334 205h1v1h-1zM335 205h1v1h-1zM320 206h1v1h-1zM321 206h1v1h-1zM332 206h1v1h-1zM334 206h1v1h-1zM306 207h1v1h-1zM311 207h1v1h-1zM315 207h1v1h-1zM318 207h1v1h-1zM330 207h1v1h-1zM332 207h1v1h-1zM335 207h1v1h-1zM314 208h1v1h-1zM315 208h1v1h-1zM320 208h1v1h-1zM321 208h1v1h-1zM322 208h1v1h-1zM333 208h1v1h-1zM334 208h1v1h-1zM313 209h1v1h-1zM314 209h1v1h-1zM322 209h1v1h-1zM324 209h1v1h-1zM325 209h1v1h-1zM328 209h1v1h-1zM330 209h1v1h-1zM331 209h1v1h-1zM339 209h1v1h-1zM305 210h1v1h-1zM313 210h1v1h-1zM317 210h1v1h-1zM318 210h1v1h-1zM323 210h1v1h-1zM328 210h1v1h-1zM334 210h1v1h-1zM314 211h1v1h-1zM319 211h1v1h-1zM322 211h1v1h-1zM323 211h1v1h-1zM324 211h1v1h-1zM325 211h1v1h-1zM327 211h1v1h-1zM330 211h1v1h-1zM340 211h1v1h-1zM286 212h1v1h-1zM293 212h1v1h-1zM314 212h1v1h-1zM315 212h1v1h-1zM317 212h1v1h-1zM318 212h1v1h-1zM319 212h1v1h-1zM323 212h1v1h-1zM331 212h1v1h-1zM307 213h1v1h-1zM314 213h1v1h-1zM319 213h1v1h-1zM320 213h1v1h-1zM324 213h1v1h-1zM328 213h1v1h-1zM286 214h1v1h-1zM307 214h1v1h-1zM315 214h1v1h-1zM317 214h1v1h-1zM322 214h1v1h-1zM328 214h1v1h-1zM332 214h1v1h-1zM333 214h1v1h-1zM307 215h1v1h-1zM311 215h1v1h-1zM315 215h1v1h-1zM316 215h1v1h-1zM317 215h1v1h-1zM320 215h1v1h-1zM321 215h1v1h-1zM324 215h1v1h-1zM325 215h1v1h-1zM327 215h1v1h-1zM333 215h1v1h-1zM268 216h1v1h-1zM281 216h1v1h-1zM319 216h1v1h-1zM320 216h1v1h-1zM322 216h1v1h-1zM324 216h1v1h-1zM306 217h1v1h-1zM309 217h1v1h-1zM310 217h1v1h-1zM313 217h1v1h-1zM316 217h1v1h-1zM320 217h1v1h-1zM311 218h1v1h-1zM312 218h1v1h-1zM314 218h1v1h-1zM315 218h1v1h-1zM316 218h1v1h-1zM318 218h1v1h-1zM319 218h1v1h-1zM323 218h1v1h-1zM324 218h1v1h-1zM330 218h1v1h-1zM338 218h1v1h-1zM290 219h1v1h-1zM307 219h1v1h-1zM317 219h1v1h-1zM322 219h1v1h-1zM331 219h1v1h-1zM336 219h1v1h-1zM286 220h1v1h-1zM310 220h1v1h-1zM312 220h1v1h-1zM314 220h1v1h-1zM315 220h1v1h-1zM319 220h1v1h-1zM322 220h1v1h-1zM323 220h1v1h-1zM324 220h1v1h-1zM326 220h1v1h-1zM328 220h1v1h-1zM331 220h1v1h-1zM308 221h1v1h-1zM311 221h1v1h-1zM313 221h1v1h-1zM315 221h1v1h-1zM317 221h1v1h-1zM322 221h1v1h-1zM323 221h1v1h-1zM277 222h1v1h-1zM281 222h1v1h-1zM288 222h1v1h-1zM312 222h1v1h-1zM318 222h1v1h-1zM321 222h1v1h-1zM325 222h1v1h-1zM328 222h1v1h-1zM329 222h1v1h-1zM330 222h1v1h-1zM333 222h1v1h-1zM266 223h1v1h-1zM297 223h1v1h-1zM302 223h1v1h-1zM309 223h1v1h-1zM311 223h1v1h-1zM314 223h1v1h-1zM321 223h1v1h-1zM324 223h1v1h-1zM328 223h1v1h-1zM329 223h1v1h-1zM274 224h1v1h-1zM286 224h1v1h-1zM297 224h1v1h-1zM304 224h1v1h-1zM308 224h1v1h-1zM313 224h1v1h-1zM314 224h1v1h-1zM315 224h1v1h-1zM319 224h1v1h-1zM324 224h1v1h-1zM266 225h1v1h-1zM274 225h1v1h-1zM288 225h1v1h-1zM291 225h1v1h-1zM298 225h1v1h-1zM306 225h1v1h-1zM310 225h1v1h-1zM321 225h1v1h-1zM331 225h1v1h-1zM280 226h1v1h-1zM281 226h1v1h-1zM282 226h1v1h-1zM284 226h1v1h-1zM293 226h1v1h-1zM294 226h1v1h-1zM308 226h1v1h-1zM317 226h1v1h-1zM319 226h1v1h-1zM321 226h1v1h-1zM328 226h1v1h-1zM331 226h1v1h-1zM271 227h1v1h-1zM275 227h1v1h-1zM277 227h1v1h-1zM280 227h1v1h-1zM287 227h1v1h-1zM297 227h1v1h-1zM303 227h1v1h-1zM310 227h1v1h-1zM317 227h1v1h-1zM319 227h1v1h-1zM321 227h1v1h-1zM274 228h1v1h-1zM277 228h1v1h-1zM279 228h1v1h-1zM306 228h1v1h-1zM307 228h1v1h-1zM312 228h1v1h-1zM317 228h1v1h-1zM281 229h1v1h-1zM286 229h1v1h-1zM288 229h1v1h-1zM290 229h1v1h-1zM291 229h1v1h-1zM293 229h1v1h-1zM312 229h1v1h-1zM315 229h1v1h-1zM317 229h1v1h-1zM319 229h1v1h-1zM321 229h1v1h-1zM279 230h1v1h-1zM283 230h1v1h-1zM285 230h1v1h-1zM286 230h1v1h-1zM288 230h1v1h-1zM292 230h1v1h-1zM294 230h1v1h-1zM301 230h1v1h-1zM306 230h1v1h-1zM314 230h1v1h-1zM315 230h1v1h-1zM316 230h1v1h-1zM317 230h1v1h-1zM318 230h1v1h-1zM323 230h1v1h-1zM264 231h1v1h-1zM268 231h1v1h-1zM276 231h1v1h-1zM290 231h1v1h-1zM294 231h1v1h-1zM301 231h1v1h-1zM302 231h1v1h-1zM303 231h1v1h-1zM310 231h1v1h-1zM317 231h1v1h-1zM319 231h1v1h-1zM324 231h1v1h-1zM264 232h1v1h-1zM265 232h1v1h-1zM270 232h1v1h-1zM271 232h1v1h-1zM274 232h1v1h-1zM276 232h1v1h-1zM279 232h1v1h-1zM280 232h1v1h-1zM282 232h1v1h-1zM284 232h1v1h-1zM285 232h1v1h-1zM286 232h1v1h-1zM288 232h1v1h-1zM299 232h1v1h-1zM304 232h1v1h-1zM306 232h1v1h-1zM307 232h1v1h-1zM310 232h1v1h-1zM312 232h1v1h-1zM313 232h1v1h-1zM314 232h1v1h-1zM315 232h1v1h-1zM317 232h1v1h-1zM323 232h1v1h-1zM333 232h1v1h-1zM260 233h1v1h-1zM270 233h1v1h-1zM271 233h1v1h-1zM277 233h1v1h-1zM281 233h1v1h-1zM283 233h1v1h-1zM284 233h1v1h-1zM288 233h1v1h-1zM290 233h1v1h-1zM294 233h1v1h-1zM295 233h1v1h-1zM306 233h1v1h-1zM308 233h1v1h-1zM310 233h1v1h-1zM313 233h1v1h-1zM316 233h1v1h-1zM319 233h1v1h-1zM320 233h1v1h-1zM328 233h1v1h-1zM334 233h1v1h-1zM336 233h1v1h-1zM262 234h1v1h-1zM272 234h1v1h-1zM278 234h1v1h-1zM279 234h1v1h-1zM284 234h1v1h-1zM288 234h1v1h-1zM289 234h1v1h-1zM290 234h1v1h-1zM292 234h1v1h-1zM296 234h1v1h-1zM297 234h1v1h-1zM299 234h1v1h-1zM305 234h1v1h-1zM306 234h1v1h-1zM311 234h1v1h-1zM312 234h1v1h-1zM318 234h1v1h-1zM319 234h1v1h-1zM326 234h1v1h-1zM265 235h1v1h-1zM268 235h1v1h-1zM270 235h1v1h-1zM273 235h1v1h-1zM276 235h1v1h-1zM280 235h1v1h-1zM285 235h1v1h-1zM289 235h1v1h-1zM291 235h1v1h-1zM294 235h1v1h-1zM296 235h1v1h-1zM299 235h1v1h-1zM306 235h1v1h-1zM308 235h1v1h-1zM312 235h1v1h-1zM320 235h1v1h-1zM324 235h1v1h-1zM268 236h1v1h-1zM271 236h1v1h-1zM276 236h1v1h-1zM281 236h1v1h-1zM282 236h1v1h-1zM290 236h1v1h-1zM293 236h1v1h-1zM298 236h1v1h-1zM300 236h1v1h-1zM307 236h1v1h-1zM315 236h1v1h-1zM321 236h1v1h-1zM263 237h1v1h-1zM268 237h1v1h-1zM270 237h1v1h-1zM280 237h1v1h-1zM284 237h1v1h-1zM285 237h1v1h-1zM286 237h1v1h-1zM289 237h1v1h-1zM291 237h1v1h-1zM295 237h1v1h-1zM301 237h1v1h-1zM304 237h1v1h-1zM309 237h1v1h-1zM311 237h1v1h-1zM314 237h1v1h-1zM333 237h1v1h-1zM266 238h1v1h-1zM268 238h1v1h-1zM270 238h1v1h-1zM272 238h1v1h-1zM273 238h1v1h-1zM274 238h1v1h-1zM280 238h1v1h-1zM281 238h1v1h-1zM282 238h1v1h-1zM292 238h1v1h-1zM301 238h1v1h-1zM304 238h1v1h-1zM305 238h1v1h-1zM309 238h1v1h-1zM311 238h1v1h-1zM312 238h1v1h-1zM316 238h1v1h-1zM319 238h1v1h-1zM323 238h1v1h-1zM274 239h1v1h-1zM281 239h1v1h-1zM284 239h1v1h-1zM287 239h1v1h-1zM296 239h1v1h-1zM297 239h1v1h-1zM299 239h1v1h-1zM308 239h1v1h-1zM309 239h1v1h-1zM316 239h1v1h-1zM266 240h1v1h-1zM267 240h1v1h-1zM269 240h1v1h-1zM270 240h1v1h-1zM275 240h1v1h-1zM277 240h1v1h-1zM279 240h1v1h-1zM280 240h1v1h-1zM282 240h1v1h-1zM284 240h1v1h-1zM289 240h1v1h-1zM291 240h1v1h-1zM293 240h1v1h-1zM294 240h1v1h-1zM298 240h1v1h-1zM300 240h1v1h-1zM301 240h1v1h-1zM318 240h1v1h-1zM320 240h1v1h-1zM321 240h1v1h-1zM330 240h1v1h-1zM333 240h1v1h-1zM264 241h1v1h-1zM272 241h1v1h-1zM273 241h1v1h-1zM274 241h1v1h-1zM280 241h1v1h-1zM284 241h1v1h-1zM306 241h1v1h-1zM308 241h1v1h-1zM310 241h1v1h-1zM311 241h1v1h-1zM315 241h1v1h-1zM321 241h1v1h-1zM327 241h1v1h-1zM328 241h1v1h-1zM266 242h1v1h-1zM275 242h1v1h-1zM284 242h1v1h-1zM285 242h1v1h-1zM286 242h1v1h-1zM288 242h1v1h-1zM289 242h1v1h-1zM293 242h1v1h-1zM295 242h1v1h-1zM296 242h1v1h-1zM312 242h1v1h-1zM313 242h1v1h-1zM324 242h1v1h-1zM329 242h1v1h-1zM330 242h1v1h-1zM335 242h1v1h-1zM262 243h1v1h-1zM263 243h1v1h-1zM272 243h1v1h-1zM274 243h1v1h-1zM276 243h1v1h-1zM279 243h1v1h-1zM281 243h1v1h-1zM283 243h1v1h-1zM285 243h1v1h-1zM286 243h1v1h-1zM287 243h1v1h-1zM290 243h1v1h-1zM295 243h1v1h-1zM296 243h1v1h-1zM297 243h1v1h-1zM298 243h1v1h-1zM300 243h1v1h-1zM302 243h1v1h-1zM304 243h1v1h-1zM306 243h1v1h-1zM307 243h1v1h-1zM308 243h1v1h-1zM314 243h1v1h-1zM315 243h1v1h-1zM317 243h1v1h-1zM320 243h1v1h-1zM325 243h1v1h-1zM327 243h1v1h-1zM337 243h1v1h-1zM340 243h1v1h-1zM262 244h1v1h-1zM268 244h1v1h-1zM269 244h1v1h-1zM275 244h1v1h-1zM277 244h1v1h-1zM279 244h1v1h-1zM288 244h1v1h-1zM294 244h1v1h-1zM295 244h1v1h-1zM305 244h1v1h-1zM310 244h1v1h-1zM314 244h1v1h-1zM318 244h1v1h-1zM320 244h1v1h-1zM327 244h1v1h-1zM339 244h1v1h-1zM267 245h1v1h-1zM268 245h1v1h-1zM276 245h1v1h-1zM285 245h1v1h-1zM287 245h1v1h-1zM288 245h1v1h-1zM291 245h1v1h-1zM297 245h1v1h-1zM299 245h1v1h-1zM306 245h1v1h-1zM309 245h1v1h-1zM311 245h1v1h-1zM323 245h1v1h-1zM334 245h1v1h-1zM269 246h1v1h-1zM274 246h1v1h-1zM275 246h1v1h-1zM284 246h1v1h-1zM285 246h1v1h-1zM288 246h1v1h-1zM289 246h1v1h-1zM295 246h1v1h-1zM298 246h1v1h-1zM303 246h1v1h-1zM307 246h1v1h-1zM309 246h1v1h-1zM310 246h1v1h-1zM312 246h1v1h-1zM317 246h1v1h-1zM320 246h1v1h-1zM322 246h1v1h-1zM262 247h1v1h-1zM264 247h1v1h-1zM268 247h1v1h-1zM274 247h1v1h-1zM278 247h1v1h-1zM281 247h1v1h-1zM285 247h1v1h-1zM286 247h1v1h-1zM289 247h1v1h-1zM292 247h1v1h-1zM293 247h1v1h-1zM299 247h1v1h-1zM300 247h1v1h-1zM301 247h1v1h-1zM302 247h1v1h-1zM307 247h1v1h-1zM315 247h1v1h-1zM330 247h1v1h-1zM264 248h1v1h-1zM269 248h1v1h-1zM271 248h1v1h-1zM274 248h1v1h-1zM287 248h1v1h-1zM288 248h1v1h-1zM293 248h1v1h-1zM299 248h1v1h-1zM301 248h1v1h-1zM310 248h1v1h-1zM313 248h1v1h-1zM319 248h1v1h-1zM329 248h1v1h-1zM331 248h1v1h-1zM269 249h1v1h-1zM273 249h1v1h-1zM274 249h1v1h-1zM275 249h1v1h-1zM276 249h1v1h-1zM279 249h1v1h-1zM280 249h1v1h-1zM281 249h1v1h-1zM285 249h1v1h-1zM286 249h1v1h-1zM290 249h1v1h-1zM291 249h1v1h-1zM292 249h1v1h-1zM295 249h1v1h-1zM296 249h1v1h-1zM305 249h1v1h-1zM306 249h1v1h-1zM312 249h1v1h-1zM319 249h1v1h-1zM320 249h1v1h-1zM325 249h1v1h-1zM327 249h1v1h-1zM328 249h1v1h-1zM337 249h1v1h-1zM262 250h1v1h-1zM266 250h1v1h-1zM268 250h1v1h-1zM270 250h1v1h-1zM276 250h1v1h-1zM278 250h1v1h-1zM279 250h1v1h-1zM283 250h1v1h-1zM285 250h1v1h-1zM292 250h1v1h-1zM296 250h1v1h-1zM297 250h1v1h-1zM300 250h1v1h-1zM308 250h1v1h-1zM309 250h1v1h-1zM312 250h1v1h-1zM315 250h1v1h-1zM320 250h1v1h-1zM327 250h1v1h-1zM334 250h1v1h-1zM339 250h1v1h-1zM262 251h1v1h-1zM273 251h1v1h-1zM278 251h1v1h-1zM279 251h1v1h-1zM282 251h1v1h-1zM285 251h1v1h-1zM286 251h1v1h-1zM287 251h1v1h-1zM295 251h1v1h-1zM296 251h1v1h-1zM297 251h1v1h-1zM303 251h1v1h-1zM308 251h1v1h-1zM309 251h1v1h-1zM320 251h1v1h-1zM322 251h1v1h-1zM327 251h1v1h-1zM268 252h1v1h-1zM269 252h1v1h-1zM276 252h1v1h-1zM279 252h1v1h-1zM280 252h1v1h-1zM282 252h1v1h-1zM288 252h1v1h-1zM289 252h1v1h-1zM291 252h1v1h-1zM292 252h1v1h-1zM295 252h1v1h-1zM301 252h1v1h-1zM307 252h1v1h-1zM308 252h1v1h-1zM310 252h1v1h-1zM311 252h1v1h-1zM317 252h1v1h-1zM268 253h1v1h-1zM270 253h1v1h-1zM274 253h1v1h-1zM275 253h1v1h-1zM281 253h1v1h-1zM288 253h1v1h-1zM289 253h1v1h-1zM290 253h1v1h-1zM293 253h1v1h-1zM294 253h1v1h-1zM296 253h1v1h-1zM297 253h1v1h-1zM304 253h1v1h-1zM305 253h1v1h-1zM306 253h1v1h-1zM309 253h1v1h-1zM311 253h1v1h-1zM262 254h1v1h-1zM266 254h1v1h-1zM267 254h1v1h-1zM271 254h1v1h-1zM275 254h1v1h-1zM276 254h1v1h-1zM277 254h1v1h-1zM278 254h1v1h-1zM279 254h1v1h-1zM280 254h1v1h-1zM284 254h1v1h-1zM292 254h1v1h-1zM299 254h1v1h-1zM301 254h1v1h-1zM303 254h1v1h-1zM307 254h1v1h-1zM263 255h1v1h-1zM266 255h1v1h-1zM267 255h1v1h-1zM268 255h1v1h-1zM273 255h1v1h-1zM276 255h1v1h-1zM277 255h1v1h-1zM280 255h1v1h-1zM281 255h1v1h-1zM286 255h1v1h-1zM289 255h1v1h-1zM291 255h1v1h-1zM293 255h1v1h-1zM298 255h1v1h-1zM301 255h1v1h-1zM302 255h1v1h-1zM310 255h1v1h-1zM324 255h1v1h-1zM333 255h1v1h-1zM262 256h1v1h-1zM263 256h1v1h-1zM273 256h1v1h-1zM276 256h1v1h-1zM280 256h1v1h-1zM281 256h1v1h-1zM282 256h1v1h-1zM284 256h1v1h-1zM291 256h1v1h-1zM297 256h1v1h-1zM299 256h1v1h-1zM301 256h1v1h-1zM307 256h1v1h-1zM317 256h1v1h-1zM324 256h1v1h-1zM270 257h1v1h-1zM273 257h1v1h-1zM280 257h1v1h-1zM282 257h1v1h-1zM284 257h1v1h-1zM287 257h1v1h-1zM291 257h1v1h-1zM294 257h1v1h-1zM295 257h1v1h-1zM296 257h1v1h-1zM300 257h1v1h-1zM301 257h1v1h-1zM307 257h1v1h-1zM331 257h1v1h-1zM332 257h1v1h-1zM266 258h1v1h-1zM280 258h1v1h-1zM282 258h1v1h-1zM285 258h1v1h-1zM286 258h1v1h-1zM293 258h1v1h-1zM302 258h1v1h-1zM308 258h1v1h-1zM312 258h1v1h-1zM313 258h1v1h-1zM314 258h1v1h-1zM315 258h1v1h-1zM316 258h1v1h-1zM326 258h1v1h-1zM262 259h1v1h-1zM266 259h1v1h-1zM281 259h1v1h-1zM282 259h1v1h-1zM283 259h1v1h-1zM284 259h1v1h-1zM288 259h1v1h-1zM292 259h1v1h-1zM299 259h1v1h-1zM301 259h1v1h-1zM305 259h1v1h-1zM310 259h1v1h-1zM312 259h1v1h-1zM322 259h1v1h-1zM272 260h1v1h-1zM275 260h1v1h-1zM279 260h1v1h-1zM280 260h1v1h-1zM281 260h1v1h-1zM284 260h1v1h-1zM285 260h1v1h-1zM287 260h1v1h-1zM295 260h1v1h-1zM306 260h1v1h-1zM311 260h1v1h-1zM321 260h1v1h-1zM327 260h1v1h-1zM335 260h1v1h-1zM268 261h1v1h-1zM269 261h1v1h-1zM275 261h1v1h-1zM277 261h1v1h-1zM281 261h1v1h-1zM287 261h1v1h-1zM288 261h1v1h-1zM292 261h1v1h-1zM300 261h1v1h-1zM306 261h1v1h-1zM307 261h1v1h-1zM314 261h1v1h-1zM323 261h1v1h-1zM326 261h1v1h-1zM328 261h1v1h-1zM262 262h1v1h-1zM269 262h1v1h-1zM270 262h1v1h-1zM271 262h1v1h-1zM283 262h1v1h-1zM284 262h1v1h-1zM288 262h1v1h-1zM299 262h1v1h-1zM301 262h1v1h-1zM303 262h1v1h-1zM309 262h1v1h-1zM318 262h1v1h-1zM338 262h1v1h-1zM267 263h1v1h-1zM269 263h1v1h-1zM271 263h1v1h-1zM272 263h1v1h-1zM283 263h1v1h-1zM291 263h1v1h-1zM297 263h1v1h-1zM309 263h1v1h-1zM326 263h1v1h-1zM263 264h1v1h-1zM264 264h1v1h-1zM266 264h1v1h-1zM268 264h1v1h-1zM269 264h1v1h-1zM274 264h1v1h-1zM284 264h1v1h-1zM288 264h1v1h-1zM295 264h1v1h-1zM298 264h1v1h-1zM306 264h1v1h-1zM307 264h1v1h-1zM317 264h1v1h-1zM273 265h1v1h-1zM275 265h1v1h-1zM276 265h1v1h-1zM281 265h1v1h-1zM282 265h1v1h-1zM285 265h1v1h-1zM293 265h1v1h-1zM294 265h1v1h-1zM316 265h1v1h-1zM264 266h1v1h-1zM280 266h1v1h-1zM284 266h1v1h-1zM290 266h1v1h-1zM301 266h1v1h-1zM325 266h1v1h-1zM267 267h1v1h-1zM268 267h1v1h-1zM289 267h1v1h-1zM299 267h1v1h-1zM302 267h1v1h-1zM309 267h1v1h-1zM271 268h1v1h-1zM274 268h1v1h-1zM278 268h1v1h-1zM286 268h1v1h-1zM297 268h1v1h-1zM310 268h1v1h-1zM312 268h1v1h-1zM319 268h1v1h-1zM327 268h1v1h-1zM272 269h1v1h-1zM287 269h1v1h-1zM298 269h1v1h-1zM306 269h1v1h-1zM316 269h1v1h-1zM317 269h1v1h-1zM275 270h1v1h-1zM278 270h1v1h-1zM283 270h1v1h-1zM311 270h1v1h-1zM271 271h1v1h-1zM278 271h1v1h-1zM282 271h1v1h-1zM290 271h1v1h-1zM296 272h1v1h-1zM444 190h1v1h-1zM439 194h1v1h-1zM418 200h1v1h-1zM421 208h1v1h-1zM428 208h1v1h-1zM423 209h1v1h-1zM421 211h1v1h-1zM433 211h1v1h-1zM431 212h1v1h-1zM426 213h1v1h-1zM408 214h1v1h-1zM430 214h1v1h-1zM423 215h1v1h-1zM425 215h1v1h-1zM429 215h1v1h-1zM444 215h1v1h-1zM412 216h1v1h-1zM426 216h1v1h-1zM434 217h1v1h-1zM427 218h1v1h-1zM416 220h1v1h-1zM417 220h1v1h-1zM425 220h1v1h-1zM443 220h1v1h-1zM418 221h1v1h-1zM432 221h1v1h-1zM372 222h1v1h-1zM381 222h1v1h-1zM390 222h1v1h-1zM421 222h1v1h-1zM422 222h1v1h-1zM431 222h1v1h-1zM444 222h1v1h-1zM397 223h1v1h-1zM417 223h1v1h-1zM419 223h1v1h-1zM435 223h1v1h-1zM437 223h1v1h-1zM367 224h1v1h-1zM382 224h1v1h-1zM393 224h1v1h-1zM395 224h1v1h-1zM413 224h1v1h-1zM418 224h1v1h-1zM422 224h1v1h-1zM430 224h1v1h-1zM434 224h1v1h-1zM436 224h1v1h-1zM378 225h1v1h-1zM384 225h1v1h-1zM389 225h1v1h-1zM402 225h1v1h-1zM406 225h1v1h-1zM413 225h1v1h-1zM415 225h1v1h-1zM423 225h1v1h-1zM428 225h1v1h-1zM445 225h1v1h-1zM372 226h1v1h-1zM383 226h1v1h-1zM389 226h1v1h-1zM393 226h1v1h-1zM408 226h1v1h-1zM415 226h1v1h-1zM421 226h1v1h-1zM424 226h1v1h-1zM431 226h1v1h-1zM433 226h1v1h-1zM437 226h1v1h-1zM389 227h1v1h-1zM390 227h1v1h-1zM391 227h1v1h-1zM394 227h1v1h-1zM396 227h1v1h-1zM402 227h1v1h-1zM412 227h1v1h-1zM417 227h1v1h-1zM420 227h1v1h-1zM422 227h1v1h-1zM425 227h1v1h-1zM436 227h1v1h-1zM379 228h1v1h-1zM388 228h1v1h-1zM389 228h1v1h-1zM393 228h1v1h-1zM405 228h1v1h-1zM412 228h1v1h-1zM415 228h1v1h-1zM420 228h1v1h-1zM421 228h1v1h-1zM430 228h1v1h-1zM437 228h1v1h-1zM373 229h1v1h-1zM376 229h1v1h-1zM380 229h1v1h-1zM381 229h1v1h-1zM383 229h1v1h-1zM389 229h1v1h-1zM391 229h1v1h-1zM395 229h1v1h-1zM404 229h1v1h-1zM408 229h1v1h-1zM412 229h1v1h-1zM414 229h1v1h-1zM422 229h1v1h-1zM433 229h1v1h-1zM386 230h1v1h-1zM388 230h1v1h-1zM390 230h1v1h-1zM391 230h1v1h-1zM399 230h1v1h-1zM400 230h1v1h-1zM402 230h1v1h-1zM405 230h1v1h-1zM409 230h1v1h-1zM413 230h1v1h-1zM414 230h1v1h-1zM418 230h1v1h-1zM422 230h1v1h-1zM437 230h1v1h-1zM443 230h1v1h-1zM446 230h1v1h-1zM366 231h1v1h-1zM368 231h1v1h-1zM369 231h1v1h-1zM370 231h1v1h-1zM372 231h1v1h-1zM375 231h1v1h-1zM383 231h1v1h-1zM391 231h1v1h-1zM392 231h1v1h-1zM396 231h1v1h-1zM407 231h1v1h-1zM412 231h1v1h-1zM415 231h1v1h-1zM420 231h1v1h-1zM421 231h1v1h-1zM423 231h1v1h-1zM429 231h1v1h-1zM367 232h1v1h-1zM370 232h1v1h-1zM371 232h1v1h-1zM374 232h1v1h-1zM378 232h1v1h-1zM382 232h1v1h-1zM384 232h1v1h-1zM386 232h1v1h-1zM388 232h1v1h-1zM391 232h1v1h-1zM392 232h1v1h-1zM395 232h1v1h-1zM400 232h1v1h-1zM409 232h1v1h-1zM410 232h1v1h-1zM412 232h1v1h-1zM415 232h1v1h-1zM423 232h1v1h-1zM424 232h1v1h-1zM426 232h1v1h-1zM429 232h1v1h-1zM430 232h1v1h-1zM372 233h1v1h-1zM380 233h1v1h-1zM384 233h1v1h-1zM386 233h1v1h-1zM388 233h1v1h-1zM392 233h1v1h-1zM394 233h1v1h-1zM404 233h1v1h-1zM408 233h1v1h-1zM412 233h1v1h-1zM413 233h1v1h-1zM426 233h1v1h-1zM441 233h1v1h-1zM366 234h1v1h-1zM368 234h1v1h-1zM373 234h1v1h-1zM374 234h1v1h-1zM376 234h1v1h-1zM377 234h1v1h-1zM383 234h1v1h-1zM386 234h1v1h-1zM390 234h1v1h-1zM391 234h1v1h-1zM398 234h1v1h-1zM399 234h1v1h-1zM402 234h1v1h-1zM404 234h1v1h-1zM405 234h1v1h-1zM406 234h1v1h-1zM412 234h1v1h-1zM414 234h1v1h-1zM415 234h1v1h-1zM417 234h1v1h-1zM418 234h1v1h-1zM420 234h1v1h-1zM425 234h1v1h-1zM435 234h1v1h-1zM374 235h1v1h-1zM380 235h1v1h-1zM388 235h1v1h-1zM389 235h1v1h-1zM391 235h1v1h-1zM392 235h1v1h-1zM399 235h1v1h-1zM403 235h1v1h-1zM405 235h1v1h-1zM407 235h1v1h-1zM408 235h1v1h-1zM410 235h1v1h-1zM415 235h1v1h-1zM416 235h1v1h-1zM421 235h1v1h-1zM440 235h1v1h-1zM370 236h1v1h-1zM371 236h1v1h-1zM374 236h1v1h-1zM376 236h1v1h-1zM377 236h1v1h-1zM379 236h1v1h-1zM387 236h1v1h-1zM388 236h1v1h-1zM390 236h1v1h-1zM393 236h1v1h-1zM399 236h1v1h-1zM404 236h1v1h-1zM409 236h1v1h-1zM414 236h1v1h-1zM416 236h1v1h-1zM418 236h1v1h-1zM421 236h1v1h-1zM425 236h1v1h-1zM426 236h1v1h-1zM431 236h1v1h-1zM433 236h1v1h-1zM436 236h1v1h-1zM370 237h1v1h-1zM372 237h1v1h-1zM376 237h1v1h-1zM377 237h1v1h-1zM379 237h1v1h-1zM380 237h1v1h-1zM385 237h1v1h-1zM386 237h1v1h-1zM387 237h1v1h-1zM390 237h1v1h-1zM393 237h1v1h-1zM395 237h1v1h-1zM397 237h1v1h-1zM399 237h1v1h-1zM402 237h1v1h-1zM404 237h1v1h-1zM405 237h1v1h-1zM410 237h1v1h-1zM415 237h1v1h-1zM418 237h1v1h-1zM420 237h1v1h-1zM423 237h1v1h-1zM425 237h1v1h-1zM428 237h1v1h-1zM433 237h1v1h-1zM434 237h1v1h-1zM370 238h1v1h-1zM373 238h1v1h-1zM374 238h1v1h-1zM382 238h1v1h-1zM383 238h1v1h-1zM384 238h1v1h-1zM387 238h1v1h-1zM395 238h1v1h-1zM398 238h1v1h-1zM400 238h1v1h-1zM401 238h1v1h-1zM403 238h1v1h-1zM404 238h1v1h-1zM407 238h1v1h-1zM411 238h1v1h-1zM412 238h1v1h-1zM417 238h1v1h-1zM420 238h1v1h-1zM421 238h1v1h-1zM424 238h1v1h-1zM430 238h1v1h-1zM435 238h1v1h-1zM442 238h1v1h-1zM366 239h1v1h-1zM367 239h1v1h-1zM372 239h1v1h-1zM374 239h1v1h-1zM379 239h1v1h-1zM381 239h1v1h-1zM387 239h1v1h-1zM390 239h1v1h-1zM394 239h1v1h-1zM395 239h1v1h-1zM400 239h1v1h-1zM403 239h1v1h-1zM404 239h1v1h-1zM410 239h1v1h-1zM411 239h1v1h-1zM415 239h1v1h-1zM416 239h1v1h-1zM421 239h1v1h-1zM422 239h1v1h-1zM423 239h1v1h-1zM426 239h1v1h-1zM429 239h1v1h-1zM430 239h1v1h-1zM366 240h1v1h-1zM368 240h1v1h-1zM374 240h1v1h-1zM375 240h1v1h-1zM376 240h1v1h-1zM378 240h1v1h-1zM383 240h1v1h-1zM388 240h1v1h-1zM389 240h1v1h-1zM391 240h1v1h-1zM394 240h1v1h-1zM398 240h1v1h-1zM400 240h1v1h-1zM401 240h1v1h-1zM402 240h1v1h-1zM407 240h1v1h-1zM415 240h1v1h-1zM418 240h1v1h-1zM419 240h1v1h-1zM421 240h1v1h-1zM425 240h1v1h-1zM429 240h1v1h-1zM430 240h1v1h-1zM372 241h1v1h-1zM373 241h1v1h-1zM375 241h1v1h-1zM380 241h1v1h-1zM382 241h1v1h-1zM383 241h1v1h-1zM385 241h1v1h-1zM391 241h1v1h-1zM392 241h1v1h-1zM393 241h1v1h-1zM398 241h1v1h-1zM402 241h1v1h-1zM404 241h1v1h-1zM405 241h1v1h-1zM406 241h1v1h-1zM414 241h1v1h-1zM417 241h1v1h-1zM420 241h1v1h-1zM421 241h1v1h-1zM422 241h1v1h-1zM426 241h1v1h-1zM427 241h1v1h-1zM430 241h1v1h-1zM436 241h1v1h-1zM368 242h1v1h-1zM370 242h1v1h-1zM380 242h1v1h-1zM385 242h1v1h-1zM390 242h1v1h-1zM391 242h1v1h-1zM395 242h1v1h-1zM396 242h1v1h-1zM400 242h1v1h-1zM403 242h1v1h-1zM406 242h1v1h-1zM407 242h1v1h-1zM408 242h1v1h-1zM409 242h1v1h-1zM414 242h1v1h-1zM415 242h1v1h-1zM419 242h1v1h-1zM425 242h1v1h-1zM426 242h1v1h-1zM433 242h1v1h-1zM368 243h1v1h-1zM370 243h1v1h-1zM372 243h1v1h-1zM373 243h1v1h-1zM377 243h1v1h-1zM378 243h1v1h-1zM383 243h1v1h-1zM385 243h1v1h-1zM387 243h1v1h-1zM389 243h1v1h-1zM391 243h1v1h-1zM398 243h1v1h-1zM399 243h1v1h-1zM400 243h1v1h-1zM402 243h1v1h-1zM408 243h1v1h-1zM409 243h1v1h-1zM411 243h1v1h-1zM416 243h1v1h-1zM421 243h1v1h-1zM423 243h1v1h-1zM424 243h1v1h-1zM426 243h1v1h-1zM429 243h1v1h-1zM430 243h1v1h-1zM435 243h1v1h-1zM437 243h1v1h-1zM445 243h1v1h-1zM371 244h1v1h-1zM375 244h1v1h-1zM378 244h1v1h-1zM382 244h1v1h-1zM385 244h1v1h-1zM387 244h1v1h-1zM389 244h1v1h-1zM390 244h1v1h-1zM392 244h1v1h-1zM395 244h1v1h-1zM398 244h1v1h-1zM401 244h1v1h-1zM402 244h1v1h-1zM404 244h1v1h-1zM407 244h1v1h-1zM411 244h1v1h-1zM414 244h1v1h-1zM418 244h1v1h-1zM420 244h1v1h-1zM421 244h1v1h-1zM425 244h1v1h-1zM428 244h1v1h-1zM432 244h1v1h-1zM433 244h1v1h-1zM368 245h1v1h-1zM369 245h1v1h-1zM371 245h1v1h-1zM372 245h1v1h-1zM379 245h1v1h-1zM381 245h1v1h-1zM382 245h1v1h-1zM383 245h1v1h-1zM385 245h1v1h-1zM390 245h1v1h-1zM391 245h1v1h-1zM393 245h1v1h-1zM395 245h1v1h-1zM405 245h1v1h-1zM406 245h1v1h-1zM407 245h1v1h-1zM411 245h1v1h-1zM412 245h1v1h-1zM414 245h1v1h-1zM416 245h1v1h-1zM417 245h1v1h-1zM422 245h1v1h-1zM435 245h1v1h-1zM443 245h1v1h-1zM445 245h1v1h-1zM368 246h1v1h-1zM370 246h1v1h-1zM372 246h1v1h-1zM376 246h1v1h-1zM379 246h1v1h-1zM384 246h1v1h-1zM387 246h1v1h-1zM388 246h1v1h-1zM389 246h1v1h-1zM390 246h1v1h-1zM392 246h1v1h-1zM395 246h1v1h-1zM403 246h1v1h-1zM405 246h1v1h-1zM408 246h1v1h-1zM413 246h1v1h-1zM417 246h1v1h-1zM418 246h1v1h-1zM426 246h1v1h-1zM434 246h1v1h-1zM438 246h1v1h-1zM441 246h1v1h-1zM368 247h1v1h-1zM370 247h1v1h-1zM372 247h1v1h-1zM373 247h1v1h-1zM374 247h1v1h-1zM377 247h1v1h-1zM381 247h1v1h-1zM383 247h1v1h-1zM387 247h1v1h-1zM388 247h1v1h-1zM390 247h1v1h-1zM393 247h1v1h-1zM396 247h1v1h-1zM398 247h1v1h-1zM403 247h1v1h-1zM410 247h1v1h-1zM413 247h1v1h-1zM414 247h1v1h-1zM418 247h1v1h-1zM419 247h1v1h-1zM428 247h1v1h-1zM429 247h1v1h-1zM368 248h1v1h-1zM369 248h1v1h-1zM373 248h1v1h-1zM374 248h1v1h-1zM377 248h1v1h-1zM387 248h1v1h-1zM388 248h1v1h-1zM393 248h1v1h-1zM395 248h1v1h-1zM400 248h1v1h-1zM402 248h1v1h-1zM405 248h1v1h-1zM407 248h1v1h-1zM409 248h1v1h-1zM414 248h1v1h-1zM427 248h1v1h-1zM429 248h1v1h-1zM430 248h1v1h-1zM431 248h1v1h-1zM437 248h1v1h-1zM370 249h1v1h-1zM373 249h1v1h-1zM374 249h1v1h-1zM380 249h1v1h-1zM382 249h1v1h-1zM385 249h1v1h-1zM386 249h1v1h-1zM391 249h1v1h-1zM392 249h1v1h-1zM393 249h1v1h-1zM394 249h1v1h-1zM395 249h1v1h-1zM401 249h1v1h-1zM408 249h1v1h-1zM411 249h1v1h-1zM419 249h1v1h-1zM437 249h1v1h-1zM370 250h1v1h-1zM376 250h1v1h-1zM383 250h1v1h-1zM387 250h1v1h-1zM388 250h1v1h-1zM399 250h1v1h-1zM402 250h1v1h-1zM411 250h1v1h-1zM438 250h1v1h-1zM444 250h1v1h-1zM366 251h1v1h-1zM371 251h1v1h-1zM375 251h1v1h-1zM377 251h1v1h-1zM378 251h1v1h-1zM379 251h1v1h-1zM380 251h1v1h-1zM381 251h1v1h-1zM383 251h1v1h-1zM390 251h1v1h-1zM394 251h1v1h-1zM401 251h1v1h-1zM403 251h1v1h-1zM405 251h1v1h-1zM407 251h1v1h-1zM416 251h1v1h-1zM420 251h1v1h-1zM424 251h1v1h-1zM425 251h1v1h-1zM366 252h1v1h-1zM371 252h1v1h-1zM373 252h1v1h-1zM375 252h1v1h-1zM377 252h1v1h-1zM381 252h1v1h-1zM386 252h1v1h-1zM387 252h1v1h-1zM390 252h1v1h-1zM394 252h1v1h-1zM395 252h1v1h-1zM397 252h1v1h-1zM398 252h1v1h-1zM402 252h1v1h-1zM405 252h1v1h-1zM406 252h1v1h-1zM412 252h1v1h-1zM420 252h1v1h-1zM424 252h1v1h-1zM434 252h1v1h-1zM366 253h1v1h-1zM373 253h1v1h-1zM390 253h1v1h-1zM391 253h1v1h-1zM392 253h1v1h-1zM410 253h1v1h-1zM412 253h1v1h-1zM416 253h1v1h-1zM419 253h1v1h-1zM374 254h1v1h-1zM379 254h1v1h-1zM381 254h1v1h-1zM383 254h1v1h-1zM386 254h1v1h-1zM394 254h1v1h-1zM397 254h1v1h-1zM398 254h1v1h-1zM399 254h1v1h-1zM404 254h1v1h-1zM413 254h1v1h-1zM415 254h1v1h-1zM427 254h1v1h-1zM431 254h1v1h-1zM366 255h1v1h-1zM370 255h1v1h-1zM376 255h1v1h-1zM387 255h1v1h-1zM388 255h1v1h-1zM403 255h1v1h-1zM407 255h1v1h-1zM409 255h1v1h-1zM413 255h1v1h-1zM429 255h1v1h-1zM370 256h1v1h-1zM371 256h1v1h-1zM375 256h1v1h-1zM379 256h1v1h-1zM381 256h1v1h-1zM384 256h1v1h-1zM385 256h1v1h-1zM389 256h1v1h-1zM391 256h1v1h-1zM393 256h1v1h-1zM395 256h1v1h-1zM396 256h1v1h-1zM398 256h1v1h-1zM400 256h1v1h-1zM402 256h1v1h-1zM411 256h1v1h-1zM414 256h1v1h-1zM415 256h1v1h-1zM426 256h1v1h-1zM438 256h1v1h-1zM446 256h1v1h-1zM374 257h1v1h-1zM376 257h1v1h-1zM377 257h1v1h-1zM386 257h1v1h-1zM389 257h1v1h-1zM390 257h1v1h-1zM392 257h1v1h-1zM393 257h1v1h-1zM395 257h1v1h-1zM397 257h1v1h-1zM398 257h1v1h-1zM399 257h1v1h-1zM401 257h1v1h-1zM403 257h1v1h-1zM404 257h1v1h-1zM405 257h1v1h-1zM406 257h1v1h-1zM407 257h1v1h-1zM411 257h1v1h-1zM371 258h1v1h-1zM379 258h1v1h-1zM387 258h1v1h-1zM389 258h1v1h-1zM394 258h1v1h-1zM396 258h1v1h-1zM397 258h1v1h-1zM399 258h1v1h-1zM413 258h1v1h-1zM415 258h1v1h-1zM368 259h1v1h-1zM370 259h1v1h-1zM379 259h1v1h-1zM384 259h1v1h-1zM385 259h1v1h-1zM405 259h1v1h-1zM412 259h1v1h-1zM413 259h1v1h-1zM366 260h1v1h-1zM369 260h1v1h-1zM372 260h1v1h-1zM374 260h1v1h-1zM376 260h1v1h-1zM377 260h1v1h-1zM378 260h1v1h-1zM379 260h1v1h-1zM380 260h1v1h-1zM385 260h1v1h-1zM390 260h1v1h-1zM398 260h1v1h-1zM400 260h1v1h-1zM402 260h1v1h-1zM403 260h1v1h-1zM404 260h1v1h-1zM417 260h1v1h-1zM420 260h1v1h-1zM369 261h1v1h-1zM374 261h1v1h-1zM377 261h1v1h-1zM382 261h1v1h-1zM386 261h1v1h-1zM396 261h1v1h-1zM397 261h1v1h-1zM398 261h1v1h-1zM401 261h1v1h-1zM402 261h1v1h-1zM410 261h1v1h-1zM428 261h1v1h-1zM441 261h1v1h-1zM374 262h1v1h-1zM375 262h1v1h-1zM376 262h1v1h-1zM378 262h1v1h-1zM380 262h1v1h-1zM382 262h1v1h-1zM387 262h1v1h-1zM389 262h1v1h-1zM393 262h1v1h-1zM411 262h1v1h-1zM415 262h1v1h-1zM372 263h1v1h-1zM373 263h1v1h-1zM377 263h1v1h-1zM378 263h1v1h-1zM379 263h1v1h-1zM381 263h1v1h-1zM383 263h1v1h-1zM388 263h1v1h-1zM393 263h1v1h-1zM396 263h1v1h-1zM401 263h1v1h-1zM404 263h1v1h-1zM405 263h1v1h-1zM408 263h1v1h-1zM419 263h1v1h-1zM428 263h1v1h-1zM434 263h1v1h-1zM369 264h1v1h-1zM370 264h1v1h-1zM378 264h1v1h-1zM382 264h1v1h-1zM390 264h1v1h-1zM393 264h1v1h-1zM394 264h1v1h-1zM398 264h1v1h-1zM405 264h1v1h-1zM418 264h1v1h-1zM429 264h1v1h-1zM376 265h1v1h-1zM380 265h1v1h-1zM389 265h1v1h-1zM393 265h1v1h-1zM394 265h1v1h-1zM395 265h1v1h-1zM400 265h1v1h-1zM404 265h1v1h-1zM424 265h1v1h-1zM432 265h1v1h-1zM436 265h1v1h-1zM445 265h1v1h-1zM390 266h1v1h-1zM394 266h1v1h-1zM396 266h1v1h-1zM398 266h1v1h-1zM405 266h1v1h-1zM417 266h1v1h-1zM426 266h1v1h-1zM379 267h1v1h-1zM380 267h1v1h-1zM390 267h1v1h-1zM398 267h1v1h-1zM402 267h1v1h-1zM446 267h1v1h-1zM372 268h1v1h-1zM392 268h1v1h-1zM388 269h1v1h-1zM392 269h1v1h-1zM398 269h1v1h-1zM401 269h1v1h-1zM416 269h1v1h-1zM387 270h1v1h-1zM409 270h1v1h-1zM378 271h1v1h-1zM389 271h1v1h-1zM394 271h1v1h-1zM398 271h1v1h-1zM420 271h1v1h-1zM376 272h1v1h-1zM391 272h1v1h-1zM395 272h1v1h-1zM421 272h1v1h-1zM425 272h1v1h-1z" fill="#666666"/>
<path d="M332 179h1v1h-1zM327 180h1v1h-1zM327 184h1v1h-1zM328 185h1v1h-1zM336 187h1v1h-1zM339 187h1v1h-1zM321 188h1v1h-1zM310 189h1v1h-1zM340 189h1v1h-1zM308 190h1v1h-1zM330 190h1v1h-1zM331 191h1v1h-1zM336 191h1v1h-1zM324 192h1v1h-1zM329 192h1v1h-1zM333 192h1v1h-1zM339 192h1v1h-1zM296 193h1v1h-1zM324 193h1v1h-1zM327 193h1v1h-1zM328 193h1v1h-1zM333 193h1v1h-1zM337 193h1v1h-1zM339 193h1v1h-1zM314 194h1v1h-1zM318 194h1v1h-1zM319 194h1v1h-1zM323 194h1v1h-1zM326 194h1v1h-1zM331 194h1v1h-1zM340 194h1v1h-1zM330 195h1v1h-1zM334 195h1v1h-1zM316 196h1v1h-1zM317 196h1v1h-1zM322 196h1v1h-1zM325 196h1v1h-1zM329 196h1v1h-1zM330 196h1v1h-1zM331 196h1v1h-1zM333 196h1v1h-1zM335 196h1v1h-1zM336 196h1v1h-1zM338 196h1v1h-1zM307 197h1v1h-1zM320 197h1v1h-1zM322 197h1v1h-1zM334 197h1v1h-1zM335 197h1v1h-1zM336 197h1v1h-1zM337 197h1v1h-1zM313 198h1v1h-1zM318 198h1v1h-1zM321 198h1v1h-1zM325 198h1v1h-1zM326 198h1v1h-1zM327 198h1v1h-1zM330 198h1v1h-1zM334 198h1v1h-1zM338 198h1v1h-1zM321 199h1v1h-1zM323 199h1v1h-1zM325 199h1v1h-1zM327 199h1v1h-1zM329 199h1v1h-1zM333 199h1v1h-1zM335 199h1v1h-1zM336 199h1v1h-1zM339 199h1v1h-1zM312 200h1v1h-1zM326 200h1v1h-1zM329 200h1v1h-1zM330 200h1v1h-1zM333 200h1v1h-1zM309 201h1v1h-1zM319 201h1v1h-1zM320 201h1v1h-1zM321 201h1v1h-1zM324 201h1v1h-1zM326 201h1v1h-1zM328 201h1v1h-1zM334 201h1v1h-1zM336 201h1v1h-1zM306 202h1v1h-1zM314 202h1v1h-1zM317 202h1v1h-1zM323 202h1v1h-1zM329 202h1v1h-1zM333 202h1v1h-1zM303 203h1v1h-1zM308 203h1v1h-1zM311 203h1v1h-1zM320 203h1v1h-1zM321 203h1v1h-1zM322 203h1v1h-1zM323 203h1v1h-1zM326 203h1v1h-1zM327 203h1v1h-1zM330 203h1v1h-1zM334 203h1v1h-1zM336 203h1v1h-1zM337 203h1v1h-1zM312 204h1v1h-1zM319 204h1v1h-1zM322 204h1v1h-1zM326 204h1v1h-1zM329 204h1v1h-1zM330 204h1v1h-1zM331 204h1v1h-1zM336 204h1v1h-1zM292 205h1v1h-1zM317 205h1v1h-1zM320 205h1v1h-1zM328 205h1v1h-1zM336 205h1v1h-1zM337 205h1v1h-1zM338 205h1v1h-1zM340 205h1v1h-1zM308 206h1v1h-1zM312 206h1v1h-1zM317 206h1v1h-1zM319 206h1v1h-1zM323 206h1v1h-1zM325 206h1v1h-1zM326 206h1v1h-1zM327 206h1v1h-1zM328 206h1v1h-1zM329 206h1v1h-1zM330 206h1v1h-1zM331 206h1v1h-1zM333 206h1v1h-1zM335 206h1v1h-1zM336 206h1v1h-1zM320 207h1v1h-1zM322 207h1v1h-1zM323 207h1v1h-1zM328 207h1v1h-1zM331 207h1v1h-1zM334 207h1v1h-1zM285 208h1v1h-1zM318 208h1v1h-1zM324 208h1v1h-1zM325 208h1v1h-1zM326 208h1v1h-1zM330 208h1v1h-1zM337 208h1v1h-1zM338 208h1v1h-1zM308 209h1v1h-1zM311 209h1v1h-1zM318 209h1v1h-1zM319 209h1v1h-1zM321 209h1v1h-1zM323 209h1v1h-1zM332 209h1v1h-1zM302 210h1v1h-1zM306 210h1v1h-1zM311 210h1v1h-1zM312 210h1v1h-1zM315 210h1v1h-1zM316 210h1v1h-1zM321 210h1v1h-1zM325 210h1v1h-1zM326 210h1v1h-1zM302 211h1v1h-1zM305 211h1v1h-1zM315 211h1v1h-1zM318 211h1v1h-1zM321 211h1v1h-1zM329 211h1v1h-1zM335 211h1v1h-1zM337 211h1v1h-1zM309 212h1v1h-1zM310 212h1v1h-1zM311 212h1v1h-1zM316 212h1v1h-1zM322 212h1v1h-1zM326 212h1v1h-1zM334 212h1v1h-1zM335 212h1v1h-1zM310 213h1v1h-1zM313 213h1v1h-1zM315 213h1v1h-1zM316 213h1v1h-1zM325 213h1v1h-1zM329 213h1v1h-1zM333 213h1v1h-1zM337 213h1v1h-1zM298 214h1v1h-1zM309 214h1v1h-1zM311 214h1v1h-1zM318 214h1v1h-1zM323 214h1v1h-1zM325 214h1v1h-1zM327 214h1v1h-1zM312 215h1v1h-1zM313 215h1v1h-1zM314 215h1v1h-1zM322 215h1v1h-1zM323 215h1v1h-1zM326 215h1v1h-1zM331 215h1v1h-1zM308 216h1v1h-1zM312 216h1v1h-1zM313 216h1v1h-1zM315 216h1v1h-1zM317 216h1v1h-1zM318 216h1v1h-1zM325 216h1v1h-1zM312 217h1v1h-1zM314 217h1v1h-1zM315 217h1v1h-1zM317 217h1v1h-1zM319 217h1v1h-1zM326 217h1v1h-1zM340 217h1v1h-1zM306 218h1v1h-1zM310 218h1v1h-1zM317 218h1v1h-1zM320 218h1v1h-1zM321 218h1v1h-1zM322 218h1v1h-1zM328 218h1v1h-1zM314 219h1v1h-1zM315 219h1v1h-1zM316 219h1v1h-1zM321 219h1v1h-1zM323 219h1v1h-1zM324 219h1v1h-1zM326 219h1v1h-1zM294 220h1v1h-1zM308 220h1v1h-1zM309 220h1v1h-1zM313 220h1v1h-1zM317 220h1v1h-1zM321 220h1v1h-1zM330 220h1v1h-1zM279 221h1v1h-1zM307 221h1v1h-1zM310 221h1v1h-1zM314 221h1v1h-1zM316 221h1v1h-1zM320 221h1v1h-1zM321 221h1v1h-1zM324 221h1v1h-1zM326 221h1v1h-1zM328 221h1v1h-1zM275 222h1v1h-1zM279 222h1v1h-1zM293 222h1v1h-1zM300 222h1v1h-1zM301 222h1v1h-1zM308 222h1v1h-1zM309 222h1v1h-1zM310 222h1v1h-1zM315 222h1v1h-1zM316 222h1v1h-1zM317 222h1v1h-1zM336 222h1v1h-1zM282 223h1v1h-1zM283 223h1v1h-1zM295 223h1v1h-1zM305 223h1v1h-1zM306 223h1v1h-1zM308 223h1v1h-1zM312 223h1v1h-1zM315 223h1v1h-1zM318 223h1v1h-1zM337 223h1v1h-1zM340 223h1v1h-1zM298 224h1v1h-1zM300 224h1v1h-1zM312 224h1v1h-1zM318 224h1v1h-1zM261 225h1v1h-1zM262 225h1v1h-1zM273 225h1v1h-1zM290 225h1v1h-1zM294 225h1v1h-1zM297 225h1v1h-1zM308 225h1v1h-1zM311 225h1v1h-1zM314 225h1v1h-1zM323 225h1v1h-1zM327 225h1v1h-1zM329 225h1v1h-1zM273 226h1v1h-1zM279 226h1v1h-1zM283 226h1v1h-1zM288 226h1v1h-1zM309 226h1v1h-1zM310 226h1v1h-1zM311 226h1v1h-1zM312 226h1v1h-1zM314 226h1v1h-1zM316 226h1v1h-1zM323 226h1v1h-1zM325 226h1v1h-1zM264 227h1v1h-1zM282 227h1v1h-1zM286 227h1v1h-1zM295 227h1v1h-1zM298 227h1v1h-1zM307 227h1v1h-1zM311 227h1v1h-1zM312 227h1v1h-1zM316 227h1v1h-1zM326 227h1v1h-1zM328 227h1v1h-1zM272 228h1v1h-1zM275 228h1v1h-1zM288 228h1v1h-1zM294 228h1v1h-1zM296 228h1v1h-1zM300 228h1v1h-1zM308 228h1v1h-1zM311 228h1v1h-1zM315 228h1v1h-1zM316 228h1v1h-1zM320 228h1v1h-1zM337 228h1v1h-1zM340 228h1v1h-1zM263 229h1v1h-1zM266 229h1v1h-1zM272 229h1v1h-1zM275 229h1v1h-1zM277 229h1v1h-1zM278 229h1v1h-1zM284 229h1v1h-1zM297 229h1v1h-1zM298 229h1v1h-1zM303 229h1v1h-1zM306 229h1v1h-1zM309 229h1v1h-1zM311 229h1v1h-1zM314 229h1v1h-1zM316 229h1v1h-1zM320 229h1v1h-1zM262 230h1v1h-1zM267 230h1v1h-1zM268 230h1v1h-1zM269 230h1v1h-1zM277 230h1v1h-1zM278 230h1v1h-1zM281 230h1v1h-1zM284 230h1v1h-1zM289 230h1v1h-1zM291 230h1v1h-1zM300 230h1v1h-1zM307 230h1v1h-1zM310 230h1v1h-1zM312 230h1v1h-1zM313 230h1v1h-1zM324 230h1v1h-1zM325 230h1v1h-1zM270 231h1v1h-1zM271 231h1v1h-1zM281 231h1v1h-1zM282 231h1v1h-1zM284 231h1v1h-1zM285 231h1v1h-1zM287 231h1v1h-1zM308 231h1v1h-1zM327 231h1v1h-1zM260 232h1v1h-1zM266 232h1v1h-1zM277 232h1v1h-1zM283 232h1v1h-1zM287 232h1v1h-1zM289 232h1v1h-1zM291 232h1v1h-1zM292 232h1v1h-1zM297 232h1v1h-1zM300 232h1v1h-1zM311 232h1v1h-1zM325 232h1v1h-1zM328 232h1v1h-1zM334 232h1v1h-1zM264 233h1v1h-1zM267 233h1v1h-1zM268 233h1v1h-1zM279 233h1v1h-1zM282 233h1v1h-1zM285 233h1v1h-1zM286 233h1v1h-1zM287 233h1v1h-1zM289 233h1v1h-1zM291 233h1v1h-1zM293 233h1v1h-1zM307 233h1v1h-1zM314 233h1v1h-1zM315 233h1v1h-1zM317 233h1v1h-1zM321 233h1v1h-1zM322 233h1v1h-1zM324 233h1v1h-1zM325 233h1v1h-1zM263 234h1v1h-1zM264 234h1v1h-1zM270 234h1v1h-1zM271 234h1v1h-1zM276 234h1v1h-1zM293 234h1v1h-1zM295 234h1v1h-1zM303 234h1v1h-1zM309 234h1v1h-1zM313 234h1v1h-1zM314 234h1v1h-1zM315 234h1v1h-1zM322 234h1v1h-1zM325 234h1v1h-1zM264 235h1v1h-1zM266 235h1v1h-1zM271 235h1v1h-1zM272 235h1v1h-1zM274 235h1v1h-1zM275 235h1v1h-1zM277 235h1v1h-1zM282 235h1v1h-1zM287 235h1v1h-1zM288 235h1v1h-1zM293 235h1v1h-1zM298 235h1v1h-1zM300 235h1v1h-1zM310 235h1v1h-1zM313 235h1v1h-1zM314 235h1v1h-1zM317 235h1v1h-1zM322 235h1v1h-1zM328 235h1v1h-1zM262 236h1v1h-1zM264 236h1v1h-1zM274 236h1v1h-1zM278 236h1v1h-1zM284 236h1v1h-1zM286 236h1v1h-1zM288 236h1v1h-1zM289 236h1v1h-1zM292 236h1v1h-1zM294 236h1v1h-1zM295 236h1v1h-1zM304 236h1v1h-1zM306 236h1v1h-1zM309 236h1v1h-1zM311 236h1v1h-1zM312 236h1v1h-1zM317 236h1v1h-1zM320 236h1v1h-1zM323 236h1v1h-1zM324 236h1v1h-1zM325 236h1v1h-1zM326 236h1v1h-1zM327 236h1v1h-1zM330 236h1v1h-1zM269 237h1v1h-1zM271 237h1v1h-1zM273 237h1v1h-1zM274 237h1v1h-1zM278 237h1v1h-1zM279 237h1v1h-1zM281 237h1v1h-1zM282 237h1v1h-1zM287 237h1v1h-1zM288 237h1v1h-1zM290 237h1v1h-1zM294 237h1v1h-1zM315 237h1v1h-1zM319 237h1v1h-1zM320 237h1v1h-1zM322 237h1v1h-1zM323 237h1v1h-1zM324 237h1v1h-1zM325 237h1v1h-1zM330 237h1v1h-1zM262 238h1v1h-1zM264 238h1v1h-1zM267 238h1v1h-1zM269 238h1v1h-1zM271 238h1v1h-1zM276 238h1v1h-1zM278 238h1v1h-1zM284 238h1v1h-1zM285 238h1v1h-1zM287 238h1v1h-1zM288 238h1v1h-1zM295 238h1v1h-1zM297 238h1v1h-1zM298 238h1v1h-1zM307 238h1v1h-1zM308 238h1v1h-1zM313 238h1v1h-1zM325 238h1v1h-1zM330 238h1v1h-1zM269 239h1v1h-1zM270 239h1v1h-1zM272 239h1v1h-1zM275 239h1v1h-1zM282 239h1v1h-1zM283 239h1v1h-1zM285 239h1v1h-1zM288 239h1v1h-1zM291 239h1v1h-1zM294 239h1v1h-1zM298 239h1v1h-1zM300 239h1v1h-1zM301 239h1v1h-1zM305 239h1v1h-1zM306 239h1v1h-1zM311 239h1v1h-1zM313 239h1v1h-1zM314 239h1v1h-1zM315 239h1v1h-1zM319 239h1v1h-1zM320 239h1v1h-1zM321 239h1v1h-1zM323 239h1v1h-1zM324 239h1v1h-1zM327 239h1v1h-1zM328 239h1v1h-1zM331 239h1v1h-1zM333 239h1v1h-1zM268 240h1v1h-1zM271 240h1v1h-1zM272 240h1v1h-1zM273 240h1v1h-1zM274 240h1v1h-1zM278 240h1v1h-1zM286 240h1v1h-1zM307 240h1v1h-1zM310 240h1v1h-1zM311 240h1v1h-1zM315 240h1v1h-1zM316 240h1v1h-1zM266 241h1v1h-1zM268 241h1v1h-1zM269 241h1v1h-1zM270 241h1v1h-1zM275 241h1v1h-1zM277 241h1v1h-1zM278 241h1v1h-1zM283 241h1v1h-1zM285 241h1v1h-1zM289 241h1v1h-1zM292 241h1v1h-1zM293 241h1v1h-1zM296 241h1v1h-1zM298 241h1v1h-1zM303 241h1v1h-1zM304 241h1v1h-1zM309 241h1v1h-1zM312 241h1v1h-1zM314 241h1v1h-1zM316 241h1v1h-1zM318 241h1v1h-1zM320 241h1v1h-1zM323 241h1v1h-1zM339 241h1v1h-1zM267 242h1v1h-1zM269 242h1v1h-1zM270 242h1v1h-1zM271 242h1v1h-1zM276 242h1v1h-1zM279 242h1v1h-1zM280 242h1v1h-1zM281 242h1v1h-1zM283 242h1v1h-1zM287 242h1v1h-1zM291 242h1v1h-1zM292 242h1v1h-1zM294 242h1v1h-1zM298 242h1v1h-1zM300 242h1v1h-1zM301 242h1v1h-1zM302 242h1v1h-1zM303 242h1v1h-1zM309 242h1v1h-1zM310 242h1v1h-1zM314 242h1v1h-1zM315 242h1v1h-1zM316 242h1v1h-1zM317 242h1v1h-1zM318 242h1v1h-1zM319 242h1v1h-1zM325 242h1v1h-1zM326 242h1v1h-1zM265 243h1v1h-1zM266 243h1v1h-1zM270 243h1v1h-1zM273 243h1v1h-1zM282 243h1v1h-1zM284 243h1v1h-1zM289 243h1v1h-1zM291 243h1v1h-1zM292 243h1v1h-1zM293 243h1v1h-1zM294 243h1v1h-1zM299 243h1v1h-1zM309 243h1v1h-1zM310 243h1v1h-1zM312 243h1v1h-1zM316 243h1v1h-1zM329 243h1v1h-1zM330 243h1v1h-1zM333 243h1v1h-1zM334 243h1v1h-1zM263 244h1v1h-1zM272 244h1v1h-1zM273 244h1v1h-1zM278 244h1v1h-1zM280 244h1v1h-1zM281 244h1v1h-1zM283 244h1v1h-1zM285 244h1v1h-1zM289 244h1v1h-1zM290 244h1v1h-1zM292 244h1v1h-1zM296 244h1v1h-1zM297 244h1v1h-1zM298 244h1v1h-1zM304 244h1v1h-1zM311 244h1v1h-1zM312 244h1v1h-1zM313 244h1v1h-1zM315 244h1v1h-1zM326 244h1v1h-1zM265 245h1v1h-1zM266 245h1v1h-1zM269 245h1v1h-1zM270 245h1v1h-1zM273 245h1v1h-1zM275 245h1v1h-1zM277 245h1v1h-1zM281 245h1v1h-1zM283 245h1v1h-1zM286 245h1v1h-1zM290 245h1v1h-1zM292 245h1v1h-1zM294 245h1v1h-1zM307 245h1v1h-1zM313 245h1v1h-1zM314 245h1v1h-1zM316 245h1v1h-1zM321 245h1v1h-1zM324 245h1v1h-1zM326 245h1v1h-1zM335 245h1v1h-1zM267 246h1v1h-1zM268 246h1v1h-1zM270 246h1v1h-1zM271 246h1v1h-1zM272 246h1v1h-1zM273 246h1v1h-1zM277 246h1v1h-1zM279 246h1v1h-1zM280 246h1v1h-1zM283 246h1v1h-1zM287 246h1v1h-1zM290 246h1v1h-1zM291 246h1v1h-1zM293 246h1v1h-1zM294 246h1v1h-1zM299 246h1v1h-1zM300 246h1v1h-1zM301 246h1v1h-1zM311 246h1v1h-1zM313 246h1v1h-1zM316 246h1v1h-1zM321 246h1v1h-1zM335 246h1v1h-1zM265 247h1v1h-1zM269 247h1v1h-1zM270 247h1v1h-1zM271 247h1v1h-1zM273 247h1v1h-1zM277 247h1v1h-1zM279 247h1v1h-1zM280 247h1v1h-1zM282 247h1v1h-1zM284 247h1v1h-1zM288 247h1v1h-1zM290 247h1v1h-1zM294 247h1v1h-1zM298 247h1v1h-1zM308 247h1v1h-1zM310 247h1v1h-1zM311 247h1v1h-1zM320 247h1v1h-1zM338 247h1v1h-1zM266 248h1v1h-1zM267 248h1v1h-1zM268 248h1v1h-1zM270 248h1v1h-1zM276 248h1v1h-1zM277 248h1v1h-1zM278 248h1v1h-1zM280 248h1v1h-1zM281 248h1v1h-1zM286 248h1v1h-1zM289 248h1v1h-1zM292 248h1v1h-1zM295 248h1v1h-1zM296 248h1v1h-1zM306 248h1v1h-1zM307 248h1v1h-1zM311 248h1v1h-1zM315 248h1v1h-1zM324 248h1v1h-1zM335 248h1v1h-1zM337 248h1v1h-1zM266 249h1v1h-1zM270 249h1v1h-1zM271 249h1v1h-1zM293 249h1v1h-1zM297 249h1v1h-1zM298 249h1v1h-1zM299 249h1v1h-1zM302 249h1v1h-1zM310 249h1v1h-1zM313 249h1v1h-1zM315 249h1v1h-1zM316 249h1v1h-1zM323 249h1v1h-1zM334 249h1v1h-1zM335 249h1v1h-1zM263 250h1v1h-1zM264 250h1v1h-1zM271 250h1v1h-1zM277 250h1v1h-1zM280 250h1v1h-1zM282 250h1v1h-1zM284 250h1v1h-1zM288 250h1v1h-1zM289 250h1v1h-1zM294 250h1v1h-1zM295 250h1v1h-1zM298 250h1v1h-1zM299 250h1v1h-1zM303 250h1v1h-1zM304 250h1v1h-1zM305 250h1v1h-1zM306 250h1v1h-1zM314 250h1v1h-1zM319 250h1v1h-1zM331 250h1v1h-1zM333 250h1v1h-1zM263 251h1v1h-1zM264 251h1v1h-1zM271 251h1v1h-1zM274 251h1v1h-1zM276 251h1v1h-1zM277 251h1v1h-1zM280 251h1v1h-1zM281 251h1v1h-1zM291 251h1v1h-1zM293 251h1v1h-1zM294 251h1v1h-1zM298 251h1v1h-1zM299 251h1v1h-1zM301 251h1v1h-1zM302 251h1v1h-1zM311 251h1v1h-1zM314 251h1v1h-1zM316 251h1v1h-1zM317 251h1v1h-1zM318 251h1v1h-1zM321 251h1v1h-1zM333 251h1v1h-1zM267 252h1v1h-1zM270 252h1v1h-1zM271 252h1v1h-1zM273 252h1v1h-1zM275 252h1v1h-1zM277 252h1v1h-1zM278 252h1v1h-1zM281 252h1v1h-1zM283 252h1v1h-1zM287 252h1v1h-1zM294 252h1v1h-1zM296 252h1v1h-1zM297 252h1v1h-1zM299 252h1v1h-1zM313 252h1v1h-1zM330 252h1v1h-1zM333 252h1v1h-1zM336 252h1v1h-1zM267 253h1v1h-1zM271 253h1v1h-1zM279 253h1v1h-1zM283 253h1v1h-1zM284 253h1v1h-1zM285 253h1v1h-1zM300 253h1v1h-1zM308 253h1v1h-1zM310 253h1v1h-1zM316 253h1v1h-1zM317 253h1v1h-1zM319 253h1v1h-1zM325 253h1v1h-1zM264 254h1v1h-1zM268 254h1v1h-1zM270 254h1v1h-1zM274 254h1v1h-1zM281 254h1v1h-1zM286 254h1v1h-1zM289 254h1v1h-1zM290 254h1v1h-1zM291 254h1v1h-1zM293 254h1v1h-1zM295 254h1v1h-1zM300 254h1v1h-1zM308 254h1v1h-1zM315 254h1v1h-1zM316 254h1v1h-1zM317 254h1v1h-1zM323 254h1v1h-1zM324 254h1v1h-1zM333 254h1v1h-1zM264 255h1v1h-1zM271 255h1v1h-1zM274 255h1v1h-1zM278 255h1v1h-1zM283 255h1v1h-1zM288 255h1v1h-1zM312 255h1v1h-1zM323 255h1v1h-1zM325 255h1v1h-1zM265 256h1v1h-1zM268 256h1v1h-1zM269 256h1v1h-1zM272 256h1v1h-1zM275 256h1v1h-1zM279 256h1v1h-1zM285 256h1v1h-1zM287 256h1v1h-1zM288 256h1v1h-1zM290 256h1v1h-1zM292 256h1v1h-1zM293 256h1v1h-1zM303 256h1v1h-1zM310 256h1v1h-1zM311 256h1v1h-1zM312 256h1v1h-1zM314 256h1v1h-1zM319 256h1v1h-1zM336 256h1v1h-1zM263 257h1v1h-1zM266 257h1v1h-1zM275 257h1v1h-1zM281 257h1v1h-1zM286 257h1v1h-1zM288 257h1v1h-1zM290 257h1v1h-1zM297 257h1v1h-1zM304 257h1v1h-1zM320 257h1v1h-1zM325 257h1v1h-1zM329 257h1v1h-1zM262 258h1v1h-1zM264 258h1v1h-1zM271 258h1v1h-1zM277 258h1v1h-1zM281 258h1v1h-1zM283 258h1v1h-1zM284 258h1v1h-1zM289 258h1v1h-1zM292 258h1v1h-1zM295 258h1v1h-1zM299 258h1v1h-1zM300 258h1v1h-1zM309 258h1v1h-1zM330 258h1v1h-1zM335 258h1v1h-1zM339 258h1v1h-1zM267 259h1v1h-1zM269 259h1v1h-1zM270 259h1v1h-1zM275 259h1v1h-1zM278 259h1v1h-1zM279 259h1v1h-1zM280 259h1v1h-1zM287 259h1v1h-1zM290 259h1v1h-1zM291 259h1v1h-1zM296 259h1v1h-1zM298 259h1v1h-1zM302 259h1v1h-1zM308 259h1v1h-1zM313 259h1v1h-1zM324 259h1v1h-1zM266 260h1v1h-1zM268 260h1v1h-1zM277 260h1v1h-1zM282 260h1v1h-1zM286 260h1v1h-1zM288 260h1v1h-1zM289 260h1v1h-1zM292 260h1v1h-1zM296 260h1v1h-1zM299 260h1v1h-1zM303 260h1v1h-1zM308 260h1v1h-1zM317 260h1v1h-1zM324 260h1v1h-1zM326 260h1v1h-1zM333 260h1v1h-1zM264 261h1v1h-1zM270 261h1v1h-1zM271 261h1v1h-1zM272 261h1v1h-1zM273 261h1v1h-1zM284 261h1v1h-1zM293 261h1v1h-1zM296 261h1v1h-1zM297 261h1v1h-1zM298 261h1v1h-1zM299 261h1v1h-1zM303 261h1v1h-1zM312 261h1v1h-1zM280 262h1v1h-1zM289 262h1v1h-1zM319 262h1v1h-1zM260 263h1v1h-1zM265 263h1v1h-1zM268 263h1v1h-1zM270 263h1v1h-1zM273 263h1v1h-1zM278 263h1v1h-1zM282 263h1v1h-1zM284 263h1v1h-1zM270 264h1v1h-1zM271 264h1v1h-1zM275 264h1v1h-1zM277 264h1v1h-1zM278 264h1v1h-1zM281 264h1v1h-1zM291 264h1v1h-1zM292 264h1v1h-1zM294 264h1v1h-1zM315 264h1v1h-1zM330 264h1v1h-1zM265 265h1v1h-1zM266 265h1v1h-1zM267 265h1v1h-1zM268 265h1v1h-1zM270 265h1v1h-1zM278 265h1v1h-1zM279 265h1v1h-1zM300 265h1v1h-1zM310 265h1v1h-1zM337 265h1v1h-1zM263 266h1v1h-1zM283 266h1v1h-1zM287 266h1v1h-1zM288 266h1v1h-1zM305 266h1v1h-1zM309 266h1v1h-1zM329 266h1v1h-1zM336 266h1v1h-1zM264 267h1v1h-1zM274 267h1v1h-1zM278 267h1v1h-1zM280 267h1v1h-1zM284 267h1v1h-1zM288 267h1v1h-1zM291 267h1v1h-1zM294 267h1v1h-1zM316 267h1v1h-1zM332 267h1v1h-1zM262 268h1v1h-1zM270 268h1v1h-1zM291 268h1v1h-1zM321 268h1v1h-1zM262 269h1v1h-1zM269 269h1v1h-1zM277 269h1v1h-1zM278 269h1v1h-1zM284 269h1v1h-1zM289 269h1v1h-1zM290 269h1v1h-1zM322 269h1v1h-1zM263 270h1v1h-1zM282 270h1v1h-1zM287 270h1v1h-1zM290 270h1v1h-1zM307 270h1v1h-1zM310 270h1v1h-1zM285 271h1v1h-1zM276 272h1v1h-1zM292 272h1v1h-1zM303 272h1v1h-1zM308 272h1v1h-1zM421 188h1v1h-1zM442 188h1v1h-1zM428 194h1v1h-1zM400 195h1v1h-1zM441 196h1v1h-1zM440 197h1v1h-1zM425 199h1v1h-1zM432 199h1v1h-1zM417 200h1v1h-1zM417 201h1v1h-1zM442 201h1v1h-1zM445 201h1v1h-1zM442 204h1v1h-1zM436 205h1v1h-1zM445 205h1v1h-1zM432 209h1v1h-1zM417 210h1v1h-1zM421 210h1v1h-1zM419 211h1v1h-1zM427 211h1v1h-1zM427 212h1v1h-1zM417 213h1v1h-1zM424 213h1v1h-1zM430 213h1v1h-1zM419 214h1v1h-1zM420 215h1v1h-1zM420 216h1v1h-1zM430 217h1v1h-1zM432 217h1v1h-1zM426 218h1v1h-1zM437 218h1v1h-1zM442 218h1v1h-1zM427 219h1v1h-1zM434 219h1v1h-1zM422 220h1v1h-1zM413 221h1v1h-1zM396 222h1v1h-1zM411 222h1v1h-1zM416 222h1v1h-1zM402 223h1v1h-1zM403 223h1v1h-1zM422 223h1v1h-1zM380 224h1v1h-1zM391 224h1v1h-1zM403 224h1v1h-1zM417 224h1v1h-1zM421 224h1v1h-1zM427 224h1v1h-1zM376 225h1v1h-1zM390 225h1v1h-1zM408 225h1v1h-1zM417 225h1v1h-1zM418 225h1v1h-1zM437 225h1v1h-1zM396 226h1v1h-1zM400 226h1v1h-1zM406 226h1v1h-1zM413 226h1v1h-1zM414 226h1v1h-1zM420 226h1v1h-1zM435 226h1v1h-1zM444 226h1v1h-1zM377 227h1v1h-1zM383 227h1v1h-1zM384 227h1v1h-1zM387 227h1v1h-1zM388 227h1v1h-1zM395 227h1v1h-1zM400 227h1v1h-1zM407 227h1v1h-1zM415 227h1v1h-1zM418 227h1v1h-1zM434 227h1v1h-1zM372 228h1v1h-1zM382 228h1v1h-1zM386 228h1v1h-1zM387 228h1v1h-1zM390 228h1v1h-1zM392 228h1v1h-1zM395 228h1v1h-1zM400 228h1v1h-1zM402 228h1v1h-1zM416 228h1v1h-1zM423 228h1v1h-1zM426 228h1v1h-1zM443 228h1v1h-1zM388 229h1v1h-1zM390 229h1v1h-1zM394 229h1v1h-1zM397 229h1v1h-1zM399 229h1v1h-1zM405 229h1v1h-1zM415 229h1v1h-1zM430 229h1v1h-1zM432 229h1v1h-1zM434 229h1v1h-1zM439 229h1v1h-1zM372 230h1v1h-1zM382 230h1v1h-1zM392 230h1v1h-1zM397 230h1v1h-1zM398 230h1v1h-1zM406 230h1v1h-1zM419 230h1v1h-1zM420 230h1v1h-1zM423 230h1v1h-1zM425 230h1v1h-1zM426 230h1v1h-1zM430 230h1v1h-1zM433 230h1v1h-1zM434 230h1v1h-1zM380 231h1v1h-1zM387 231h1v1h-1zM389 231h1v1h-1zM390 231h1v1h-1zM393 231h1v1h-1zM400 231h1v1h-1zM401 231h1v1h-1zM404 231h1v1h-1zM411 231h1v1h-1zM418 231h1v1h-1zM422 231h1v1h-1zM425 231h1v1h-1zM427 231h1v1h-1zM430 231h1v1h-1zM433 231h1v1h-1zM435 231h1v1h-1zM442 231h1v1h-1zM368 232h1v1h-1zM380 232h1v1h-1zM381 232h1v1h-1zM385 232h1v1h-1zM389 232h1v1h-1zM393 232h1v1h-1zM396 232h1v1h-1zM397 232h1v1h-1zM399 232h1v1h-1zM401 232h1v1h-1zM404 232h1v1h-1zM405 232h1v1h-1zM406 232h1v1h-1zM417 232h1v1h-1zM420 232h1v1h-1zM427 232h1v1h-1zM437 232h1v1h-1zM441 232h1v1h-1zM366 233h1v1h-1zM368 233h1v1h-1zM371 233h1v1h-1zM374 233h1v1h-1zM375 233h1v1h-1zM379 233h1v1h-1zM385 233h1v1h-1zM395 233h1v1h-1zM397 233h1v1h-1zM401 233h1v1h-1zM405 233h1v1h-1zM411 233h1v1h-1zM417 233h1v1h-1zM418 233h1v1h-1zM425 233h1v1h-1zM431 233h1v1h-1zM432 233h1v1h-1zM435 233h1v1h-1zM375 234h1v1h-1zM378 234h1v1h-1zM380 234h1v1h-1zM381 234h1v1h-1zM384 234h1v1h-1zM387 234h1v1h-1zM389 234h1v1h-1zM392 234h1v1h-1zM393 234h1v1h-1zM394 234h1v1h-1zM396 234h1v1h-1zM397 234h1v1h-1zM401 234h1v1h-1zM416 234h1v1h-1zM421 234h1v1h-1zM428 234h1v1h-1zM430 234h1v1h-1zM432 234h1v1h-1zM438 234h1v1h-1zM382 235h1v1h-1zM384 235h1v1h-1zM385 235h1v1h-1zM387 235h1v1h-1zM390 235h1v1h-1zM394 235h1v1h-1zM395 235h1v1h-1zM396 235h1v1h-1zM398 235h1v1h-1zM401 235h1v1h-1zM402 235h1v1h-1zM404 235h1v1h-1zM406 235h1v1h-1zM413 235h1v1h-1zM420 235h1v1h-1zM422 235h1v1h-1zM430 235h1v1h-1zM434 235h1v1h-1zM367 236h1v1h-1zM373 236h1v1h-1zM378 236h1v1h-1zM380 236h1v1h-1zM381 236h1v1h-1zM382 236h1v1h-1zM383 236h1v1h-1zM386 236h1v1h-1zM389 236h1v1h-1zM391 236h1v1h-1zM392 236h1v1h-1zM397 236h1v1h-1zM400 236h1v1h-1zM401 236h1v1h-1zM403 236h1v1h-1zM405 236h1v1h-1zM406 236h1v1h-1zM412 236h1v1h-1zM413 236h1v1h-1zM415 236h1v1h-1zM417 236h1v1h-1zM419 236h1v1h-1zM429 236h1v1h-1zM430 236h1v1h-1zM368 237h1v1h-1zM374 237h1v1h-1zM381 237h1v1h-1zM382 237h1v1h-1zM383 237h1v1h-1zM384 237h1v1h-1zM389 237h1v1h-1zM394 237h1v1h-1zM396 237h1v1h-1zM403 237h1v1h-1zM412 237h1v1h-1zM419 237h1v1h-1zM427 237h1v1h-1zM429 237h1v1h-1zM430 237h1v1h-1zM431 237h1v1h-1zM432 237h1v1h-1zM436 237h1v1h-1zM437 237h1v1h-1zM368 238h1v1h-1zM371 238h1v1h-1zM376 238h1v1h-1zM378 238h1v1h-1zM379 238h1v1h-1zM381 238h1v1h-1zM385 238h1v1h-1zM388 238h1v1h-1zM390 238h1v1h-1zM391 238h1v1h-1zM392 238h1v1h-1zM396 238h1v1h-1zM402 238h1v1h-1zM406 238h1v1h-1zM409 238h1v1h-1zM415 238h1v1h-1zM416 238h1v1h-1zM419 238h1v1h-1zM425 238h1v1h-1zM426 238h1v1h-1zM427 238h1v1h-1zM436 238h1v1h-1zM368 239h1v1h-1zM369 239h1v1h-1zM370 239h1v1h-1zM385 239h1v1h-1zM391 239h1v1h-1zM392 239h1v1h-1zM396 239h1v1h-1zM399 239h1v1h-1zM401 239h1v1h-1zM402 239h1v1h-1zM407 239h1v1h-1zM408 239h1v1h-1zM412 239h1v1h-1zM414 239h1v1h-1zM417 239h1v1h-1zM419 239h1v1h-1zM424 239h1v1h-1zM427 239h1v1h-1zM433 239h1v1h-1zM439 239h1v1h-1zM441 239h1v1h-1zM370 240h1v1h-1zM384 240h1v1h-1zM386 240h1v1h-1zM387 240h1v1h-1zM392 240h1v1h-1zM404 240h1v1h-1zM406 240h1v1h-1zM411 240h1v1h-1zM412 240h1v1h-1zM414 240h1v1h-1zM423 240h1v1h-1zM432 240h1v1h-1zM437 240h1v1h-1zM439 240h1v1h-1zM368 241h1v1h-1zM369 241h1v1h-1zM381 241h1v1h-1zM384 241h1v1h-1zM394 241h1v1h-1zM395 241h1v1h-1zM397 241h1v1h-1zM400 241h1v1h-1zM403 241h1v1h-1zM407 241h1v1h-1zM410 241h1v1h-1zM412 241h1v1h-1zM415 241h1v1h-1zM419 241h1v1h-1zM424 241h1v1h-1zM367 242h1v1h-1zM377 242h1v1h-1zM379 242h1v1h-1zM381 242h1v1h-1zM383 242h1v1h-1zM384 242h1v1h-1zM387 242h1v1h-1zM388 242h1v1h-1zM389 242h1v1h-1zM393 242h1v1h-1zM394 242h1v1h-1zM397 242h1v1h-1zM399 242h1v1h-1zM404 242h1v1h-1zM420 242h1v1h-1zM423 242h1v1h-1zM430 242h1v1h-1zM443 242h1v1h-1zM374 243h1v1h-1zM381 243h1v1h-1zM382 243h1v1h-1zM386 243h1v1h-1zM390 243h1v1h-1zM392 243h1v1h-1zM394 243h1v1h-1zM396 243h1v1h-1zM401 243h1v1h-1zM403 243h1v1h-1zM405 243h1v1h-1zM406 243h1v1h-1zM412 243h1v1h-1zM415 243h1v1h-1zM417 243h1v1h-1zM418 243h1v1h-1zM420 243h1v1h-1zM436 243h1v1h-1zM366 244h1v1h-1zM368 244h1v1h-1zM372 244h1v1h-1zM373 244h1v1h-1zM374 244h1v1h-1zM376 244h1v1h-1zM379 244h1v1h-1zM381 244h1v1h-1zM384 244h1v1h-1zM391 244h1v1h-1zM394 244h1v1h-1zM396 244h1v1h-1zM397 244h1v1h-1zM399 244h1v1h-1zM400 244h1v1h-1zM405 244h1v1h-1zM406 244h1v1h-1zM408 244h1v1h-1zM409 244h1v1h-1zM413 244h1v1h-1zM417 244h1v1h-1zM422 244h1v1h-1zM424 244h1v1h-1zM427 244h1v1h-1zM429 244h1v1h-1zM431 244h1v1h-1zM436 244h1v1h-1zM437 244h1v1h-1zM438 244h1v1h-1zM373 245h1v1h-1zM374 245h1v1h-1zM378 245h1v1h-1zM380 245h1v1h-1zM388 245h1v1h-1zM389 245h1v1h-1zM392 245h1v1h-1zM396 245h1v1h-1zM397 245h1v1h-1zM399 245h1v1h-1zM403 245h1v1h-1zM408 245h1v1h-1zM409 245h1v1h-1zM415 245h1v1h-1zM418 245h1v1h-1zM419 245h1v1h-1zM423 245h1v1h-1zM428 245h1v1h-1zM429 245h1v1h-1zM432 245h1v1h-1zM434 245h1v1h-1zM371 246h1v1h-1zM374 246h1v1h-1zM375 246h1v1h-1zM378 246h1v1h-1zM380 246h1v1h-1zM381 246h1v1h-1zM383 246h1v1h-1zM386 246h1v1h-1zM393 246h1v1h-1zM394 246h1v1h-1zM397 246h1v1h-1zM399 246h1v1h-1zM400 246h1v1h-1zM407 246h1v1h-1zM409 246h1v1h-1zM410 246h1v1h-1zM411 246h1v1h-1zM414 246h1v1h-1zM419 246h1v1h-1zM420 246h1v1h-1zM422 246h1v1h-1zM435 246h1v1h-1zM378 247h1v1h-1zM379 247h1v1h-1zM380 247h1v1h-1zM384 247h1v1h-1zM386 247h1v1h-1zM389 247h1v1h-1zM391 247h1v1h-1zM392 247h1v1h-1zM394 247h1v1h-1zM395 247h1v1h-1zM400 247h1v1h-1zM402 247h1v1h-1zM404 247h1v1h-1zM405 247h1v1h-1zM406 247h1v1h-1zM409 247h1v1h-1zM411 247h1v1h-1zM412 247h1v1h-1zM415 247h1v1h-1zM416 247h1v1h-1zM417 247h1v1h-1zM420 247h1v1h-1zM435 247h1v1h-1zM445 247h1v1h-1zM366 248h1v1h-1zM370 248h1v1h-1zM371 248h1v1h-1zM372 248h1v1h-1zM376 248h1v1h-1zM379 248h1v1h-1zM381 248h1v1h-1zM382 248h1v1h-1zM386 248h1v1h-1zM391 248h1v1h-1zM396 248h1v1h-1zM398 248h1v1h-1zM399 248h1v1h-1zM401 248h1v1h-1zM404 248h1v1h-1zM406 248h1v1h-1zM408 248h1v1h-1zM411 248h1v1h-1zM415 248h1v1h-1zM416 248h1v1h-1zM418 248h1v1h-1zM420 248h1v1h-1zM428 248h1v1h-1zM435 248h1v1h-1zM439 248h1v1h-1zM440 248h1v1h-1zM387 249h1v1h-1zM388 249h1v1h-1zM389 249h1v1h-1zM400 249h1v1h-1zM402 249h1v1h-1zM404 249h1v1h-1zM409 249h1v1h-1zM412 249h1v1h-1zM413 249h1v1h-1zM414 249h1v1h-1zM416 249h1v1h-1zM417 249h1v1h-1zM418 249h1v1h-1zM420 249h1v1h-1zM421 249h1v1h-1zM422 249h1v1h-1zM423 249h1v1h-1zM430 249h1v1h-1zM446 249h1v1h-1zM366 250h1v1h-1zM373 250h1v1h-1zM374 250h1v1h-1zM375 250h1v1h-1zM377 250h1v1h-1zM378 250h1v1h-1zM382 250h1v1h-1zM384 250h1v1h-1zM385 250h1v1h-1zM390 250h1v1h-1zM393 250h1v1h-1zM394 250h1v1h-1zM401 250h1v1h-1zM403 250h1v1h-1zM405 250h1v1h-1zM406 250h1v1h-1zM407 250h1v1h-1zM409 250h1v1h-1zM412 250h1v1h-1zM414 250h1v1h-1zM415 250h1v1h-1zM417 250h1v1h-1zM418 250h1v1h-1zM420 250h1v1h-1zM421 250h1v1h-1zM425 250h1v1h-1zM427 250h1v1h-1zM433 250h1v1h-1zM368 251h1v1h-1zM372 251h1v1h-1zM382 251h1v1h-1zM384 251h1v1h-1zM385 251h1v1h-1zM386 251h1v1h-1zM387 251h1v1h-1zM392 251h1v1h-1zM398 251h1v1h-1zM402 251h1v1h-1zM406 251h1v1h-1zM412 251h1v1h-1zM414 251h1v1h-1zM415 251h1v1h-1zM417 251h1v1h-1zM421 251h1v1h-1zM438 251h1v1h-1zM444 251h1v1h-1zM369 252h1v1h-1zM370 252h1v1h-1zM378 252h1v1h-1zM383 252h1v1h-1zM384 252h1v1h-1zM389 252h1v1h-1zM391 252h1v1h-1zM393 252h1v1h-1zM396 252h1v1h-1zM400 252h1v1h-1zM404 252h1v1h-1zM407 252h1v1h-1zM413 252h1v1h-1zM415 252h1v1h-1zM416 252h1v1h-1zM418 252h1v1h-1zM421 252h1v1h-1zM423 252h1v1h-1zM370 253h1v1h-1zM372 253h1v1h-1zM374 253h1v1h-1zM382 253h1v1h-1zM383 253h1v1h-1zM385 253h1v1h-1zM388 253h1v1h-1zM389 253h1v1h-1zM395 253h1v1h-1zM396 253h1v1h-1zM399 253h1v1h-1zM401 253h1v1h-1zM402 253h1v1h-1zM405 253h1v1h-1zM406 253h1v1h-1zM417 253h1v1h-1zM418 253h1v1h-1zM432 253h1v1h-1zM433 253h1v1h-1zM367 254h1v1h-1zM372 254h1v1h-1zM373 254h1v1h-1zM376 254h1v1h-1zM378 254h1v1h-1zM380 254h1v1h-1zM384 254h1v1h-1zM389 254h1v1h-1zM391 254h1v1h-1zM392 254h1v1h-1zM393 254h1v1h-1zM400 254h1v1h-1zM401 254h1v1h-1zM402 254h1v1h-1zM403 254h1v1h-1zM405 254h1v1h-1zM407 254h1v1h-1zM414 254h1v1h-1zM421 254h1v1h-1zM428 254h1v1h-1zM437 254h1v1h-1zM371 255h1v1h-1zM372 255h1v1h-1zM373 255h1v1h-1zM374 255h1v1h-1zM383 255h1v1h-1zM385 255h1v1h-1zM386 255h1v1h-1zM390 255h1v1h-1zM394 255h1v1h-1zM397 255h1v1h-1zM398 255h1v1h-1zM399 255h1v1h-1zM402 255h1v1h-1zM405 255h1v1h-1zM408 255h1v1h-1zM427 255h1v1h-1zM445 255h1v1h-1zM368 256h1v1h-1zM372 256h1v1h-1zM373 256h1v1h-1zM380 256h1v1h-1zM383 256h1v1h-1zM390 256h1v1h-1zM392 256h1v1h-1zM399 256h1v1h-1zM401 256h1v1h-1zM404 256h1v1h-1zM406 256h1v1h-1zM408 256h1v1h-1zM413 256h1v1h-1zM417 256h1v1h-1zM418 256h1v1h-1zM420 256h1v1h-1zM425 256h1v1h-1zM432 256h1v1h-1zM372 257h1v1h-1zM384 257h1v1h-1zM385 257h1v1h-1zM418 257h1v1h-1zM419 257h1v1h-1zM422 257h1v1h-1zM424 257h1v1h-1zM366 258h1v1h-1zM372 258h1v1h-1zM374 258h1v1h-1zM376 258h1v1h-1zM377 258h1v1h-1zM381 258h1v1h-1zM382 258h1v1h-1zM386 258h1v1h-1zM388 258h1v1h-1zM391 258h1v1h-1zM392 258h1v1h-1zM393 258h1v1h-1zM398 258h1v1h-1zM402 258h1v1h-1zM403 258h1v1h-1zM404 258h1v1h-1zM417 258h1v1h-1zM436 258h1v1h-1zM437 258h1v1h-1zM372 259h1v1h-1zM374 259h1v1h-1zM382 259h1v1h-1zM390 259h1v1h-1zM392 259h1v1h-1zM394 259h1v1h-1zM395 259h1v1h-1zM397 259h1v1h-1zM398 259h1v1h-1zM400 259h1v1h-1zM404 259h1v1h-1zM409 259h1v1h-1zM371 260h1v1h-1zM382 260h1v1h-1zM383 260h1v1h-1zM384 260h1v1h-1zM386 260h1v1h-1zM389 260h1v1h-1zM392 260h1v1h-1zM393 260h1v1h-1zM394 260h1v1h-1zM396 260h1v1h-1zM397 260h1v1h-1zM399 260h1v1h-1zM405 260h1v1h-1zM432 260h1v1h-1zM370 261h1v1h-1zM373 261h1v1h-1zM376 261h1v1h-1zM380 261h1v1h-1zM384 261h1v1h-1zM390 261h1v1h-1zM391 261h1v1h-1zM392 261h1v1h-1zM419 261h1v1h-1zM422 261h1v1h-1zM429 261h1v1h-1zM431 261h1v1h-1zM366 262h1v1h-1zM367 262h1v1h-1zM372 262h1v1h-1zM383 262h1v1h-1zM385 262h1v1h-1zM388 262h1v1h-1zM391 262h1v1h-1zM392 262h1v1h-1zM397 262h1v1h-1zM398 262h1v1h-1zM422 262h1v1h-1zM428 262h1v1h-1zM366 263h1v1h-1zM368 263h1v1h-1zM385 263h1v1h-1zM397 263h1v1h-1zM398 263h1v1h-1zM400 263h1v1h-1zM406 263h1v1h-1zM409 263h1v1h-1zM430 263h1v1h-1zM431 263h1v1h-1zM376 264h1v1h-1zM377 264h1v1h-1zM392 264h1v1h-1zM366 265h1v1h-1zM381 265h1v1h-1zM383 265h1v1h-1zM387 265h1v1h-1zM399 265h1v1h-1zM423 265h1v1h-1zM378 266h1v1h-1zM381 266h1v1h-1zM391 266h1v1h-1zM400 266h1v1h-1zM369 267h1v1h-1zM387 267h1v1h-1zM395 267h1v1h-1zM401 267h1v1h-1zM421 267h1v1h-1zM422 267h1v1h-1zM371 268h1v1h-1zM380 268h1v1h-1zM382 268h1v1h-1zM384 268h1v1h-1zM389 268h1v1h-1zM390 268h1v1h-1zM394 268h1v1h-1zM395 268h1v1h-1zM403 268h1v1h-1zM404 268h1v1h-1zM408 268h1v1h-1zM442 268h1v1h-1zM390 269h1v1h-1zM395 269h1v1h-1zM399 269h1v1h-1zM403 269h1v1h-1zM386 270h1v1h-1zM389 270h1v1h-1zM392 270h1v1h-1zM395 270h1v1h-1zM396 270h1v1h-1zM397 270h1v1h-1zM406 270h1v1h-1zM423 270h1v1h-1zM426 270h1v1h-1zM376 271h1v1h-1zM399 271h1v1h-1zM404 271h1v1h-1zM409 271h1v1h-1zM416 271h1v1h-1zM381 272h1v1h-1zM404 272h1v1h-1zM406 272h1v1h-1zM415 272h1v1h-1z" fill="#7a7a7a"/>
<path d="M328 182h1v1h-1zM334 183h1v1h-1zM335 183h1v1h-1zM317 184h1v1h-1zM336 184h1v1h-1zM337 185h1v1h-1zM330 186h1v1h-1zM334 186h1v1h-1zM320 187h1v1h-1zM338 187h1v1h-1zM326 188h1v1h-1zM338 188h1v1h-1zM328 189h1v1h-1zM327 190h1v1h-1zM329 190h1v1h-1zM333 190h1v1h-1zM335 190h1v1h-1zM336 190h1v1h-1zM338 190h1v1h-1zM320 191h1v1h-1zM326 191h1v1h-1zM328 191h1v1h-1zM329 191h1v1h-1zM339 191h1v1h-1zM325 192h1v1h-1zM327 192h1v1h-1zM334 192h1v1h-1zM336 192h1v1h-1zM323 193h1v1h-1zM332 193h1v1h-1zM340 193h1v1h-1zM320 194h1v1h-1zM329 194h1v1h-1zM332 194h1v1h-1zM334 194h1v1h-1zM335 194h1v1h-1zM338 194h1v1h-1zM339 194h1v1h-1zM308 195h1v1h-1zM309 195h1v1h-1zM322 195h1v1h-1zM328 195h1v1h-1zM331 195h1v1h-1zM335 195h1v1h-1zM337 195h1v1h-1zM340 195h1v1h-1zM318 196h1v1h-1zM332 196h1v1h-1zM323 197h1v1h-1zM328 197h1v1h-1zM332 197h1v1h-1zM339 197h1v1h-1zM319 198h1v1h-1zM328 198h1v1h-1zM332 198h1v1h-1zM333 198h1v1h-1zM335 198h1v1h-1zM336 198h1v1h-1zM315 199h1v1h-1zM322 199h1v1h-1zM328 199h1v1h-1zM330 199h1v1h-1zM331 199h1v1h-1zM338 199h1v1h-1zM292 200h1v1h-1zM321 200h1v1h-1zM325 200h1v1h-1zM332 200h1v1h-1zM335 200h1v1h-1zM337 200h1v1h-1zM340 200h1v1h-1zM325 201h1v1h-1zM329 201h1v1h-1zM331 201h1v1h-1zM332 201h1v1h-1zM333 201h1v1h-1zM335 201h1v1h-1zM337 201h1v1h-1zM339 201h1v1h-1zM310 202h1v1h-1zM312 202h1v1h-1zM316 202h1v1h-1zM324 202h1v1h-1zM334 202h1v1h-1zM336 202h1v1h-1zM339 202h1v1h-1zM340 202h1v1h-1zM319 203h1v1h-1zM324 203h1v1h-1zM329 203h1v1h-1zM331 203h1v1h-1zM335 203h1v1h-1zM321 204h1v1h-1zM323 204h1v1h-1zM325 204h1v1h-1zM328 204h1v1h-1zM333 204h1v1h-1zM335 204h1v1h-1zM337 204h1v1h-1zM322 205h1v1h-1zM323 205h1v1h-1zM325 205h1v1h-1zM326 205h1v1h-1zM329 205h1v1h-1zM330 205h1v1h-1zM331 205h1v1h-1zM332 205h1v1h-1zM269 206h1v1h-1zM316 206h1v1h-1zM318 206h1v1h-1zM322 206h1v1h-1zM324 206h1v1h-1zM286 207h1v1h-1zM308 207h1v1h-1zM310 207h1v1h-1zM312 207h1v1h-1zM316 207h1v1h-1zM317 207h1v1h-1zM319 207h1v1h-1zM321 207h1v1h-1zM324 207h1v1h-1zM325 207h1v1h-1zM326 207h1v1h-1zM327 207h1v1h-1zM329 207h1v1h-1zM333 207h1v1h-1zM336 207h1v1h-1zM337 207h1v1h-1zM338 207h1v1h-1zM305 208h1v1h-1zM311 208h1v1h-1zM313 208h1v1h-1zM317 208h1v1h-1zM319 208h1v1h-1zM323 208h1v1h-1zM327 208h1v1h-1zM328 208h1v1h-1zM329 208h1v1h-1zM331 208h1v1h-1zM332 208h1v1h-1zM335 208h1v1h-1zM316 209h1v1h-1zM317 209h1v1h-1zM320 209h1v1h-1zM326 209h1v1h-1zM327 209h1v1h-1zM329 209h1v1h-1zM333 209h1v1h-1zM335 209h1v1h-1zM336 209h1v1h-1zM338 209h1v1h-1zM309 210h1v1h-1zM319 210h1v1h-1zM320 210h1v1h-1zM322 210h1v1h-1zM324 210h1v1h-1zM327 210h1v1h-1zM329 210h1v1h-1zM330 210h1v1h-1zM331 210h1v1h-1zM332 210h1v1h-1zM333 210h1v1h-1zM339 210h1v1h-1zM295 211h1v1h-1zM312 211h1v1h-1zM316 211h1v1h-1zM317 211h1v1h-1zM320 211h1v1h-1zM326 211h1v1h-1zM328 211h1v1h-1zM333 211h1v1h-1zM296 212h1v1h-1zM312 212h1v1h-1zM320 212h1v1h-1zM321 212h1v1h-1zM324 212h1v1h-1zM325 212h1v1h-1zM327 212h1v1h-1zM328 212h1v1h-1zM329 212h1v1h-1zM330 212h1v1h-1zM336 212h1v1h-1zM337 212h1v1h-1zM338 212h1v1h-1zM308 213h1v1h-1zM317 213h1v1h-1zM318 213h1v1h-1zM321 213h1v1h-1zM322 213h1v1h-1zM323 213h1v1h-1zM326 213h1v1h-1zM327 213h1v1h-1zM330 213h1v1h-1zM332 213h1v1h-1zM336 213h1v1h-1zM308 214h1v1h-1zM310 214h1v1h-1zM313 214h1v1h-1zM314 214h1v1h-1zM316 214h1v1h-1zM319 214h1v1h-1zM320 214h1v1h-1zM321 214h1v1h-1zM324 214h1v1h-1zM326 214h1v1h-1zM331 214h1v1h-1zM305 215h1v1h-1zM310 215h1v1h-1zM318 215h1v1h-1zM319 215h1v1h-1zM328 215h1v1h-1zM329 215h1v1h-1zM335 215h1v1h-1zM294 216h1v1h-1zM306 216h1v1h-1zM307 216h1v1h-1zM310 216h1v1h-1zM311 216h1v1h-1zM314 216h1v1h-1zM316 216h1v1h-1zM321 216h1v1h-1zM323 216h1v1h-1zM328 216h1v1h-1zM333 216h1v1h-1zM338 216h1v1h-1zM303 217h1v1h-1zM307 217h1v1h-1zM318 217h1v1h-1zM321 217h1v1h-1zM322 217h1v1h-1zM323 217h1v1h-1zM324 217h1v1h-1zM325 217h1v1h-1zM327 217h1v1h-1zM329 217h1v1h-1zM305 218h1v1h-1zM313 218h1v1h-1zM326 218h1v1h-1zM333 218h1v1h-1zM335 218h1v1h-1zM273 219h1v1h-1zM286 219h1v1h-1zM298 219h1v1h-1zM308 219h1v1h-1zM309 219h1v1h-1zM310 219h1v1h-1zM311 219h1v1h-1zM312 219h1v1h-1zM313 219h1v1h-1zM318 219h1v1h-1zM319 219h1v1h-1zM320 219h1v1h-1zM327 219h1v1h-1zM288 220h1v1h-1zM307 220h1v1h-1zM311 220h1v1h-1zM316 220h1v1h-1zM318 220h1v1h-1zM320 220h1v1h-1zM273 221h1v1h-1zM280 221h1v1h-1zM285 221h1v1h-1zM312 221h1v1h-1zM318 221h1v1h-1zM319 221h1v1h-1zM336 221h1v1h-1zM283 222h1v1h-1zM284 222h1v1h-1zM290 222h1v1h-1zM291 222h1v1h-1zM297 222h1v1h-1zM306 222h1v1h-1zM311 222h1v1h-1zM313 222h1v1h-1zM314 222h1v1h-1zM319 222h1v1h-1zM320 222h1v1h-1zM322 222h1v1h-1zM323 222h1v1h-1zM334 222h1v1h-1zM340 222h1v1h-1zM303 223h1v1h-1zM310 223h1v1h-1zM313 223h1v1h-1zM316 223h1v1h-1zM317 223h1v1h-1zM319 223h1v1h-1zM320 223h1v1h-1zM322 223h1v1h-1zM326 223h1v1h-1zM273 224h1v1h-1zM281 224h1v1h-1zM283 224h1v1h-1zM292 224h1v1h-1zM294 224h1v1h-1zM301 224h1v1h-1zM311 224h1v1h-1zM316 224h1v1h-1zM317 224h1v1h-1zM320 224h1v1h-1zM325 224h1v1h-1zM286 225h1v1h-1zM292 225h1v1h-1zM300 225h1v1h-1zM309 225h1v1h-1zM313 225h1v1h-1zM315 225h1v1h-1zM316 225h1v1h-1zM317 225h1v1h-1zM318 225h1v1h-1zM319 225h1v1h-1zM320 225h1v1h-1zM322 225h1v1h-1zM324 225h1v1h-1zM326 225h1v1h-1zM332 225h1v1h-1zM266 226h1v1h-1zM295 226h1v1h-1zM306 226h1v1h-1zM307 226h1v1h-1zM313 226h1v1h-1zM315 226h1v1h-1zM322 226h1v1h-1zM327 226h1v1h-1zM272 227h1v1h-1zM279 227h1v1h-1zM283 227h1v1h-1zM308 227h1v1h-1zM309 227h1v1h-1zM314 227h1v1h-1zM315 227h1v1h-1zM320 227h1v1h-1zM323 227h1v1h-1zM325 227h1v1h-1zM276 228h1v1h-1zM278 228h1v1h-1zM284 228h1v1h-1zM290 228h1v1h-1zM302 228h1v1h-1zM303 228h1v1h-1zM304 228h1v1h-1zM309 228h1v1h-1zM310 228h1v1h-1zM313 228h1v1h-1zM314 228h1v1h-1zM318 228h1v1h-1zM325 228h1v1h-1zM327 228h1v1h-1zM269 229h1v1h-1zM270 229h1v1h-1zM282 229h1v1h-1zM283 229h1v1h-1zM285 229h1v1h-1zM294 229h1v1h-1zM295 229h1v1h-1zM310 229h1v1h-1zM313 229h1v1h-1zM322 229h1v1h-1zM266 230h1v1h-1zM270 230h1v1h-1zM271 230h1v1h-1zM274 230h1v1h-1zM287 230h1v1h-1zM290 230h1v1h-1zM319 230h1v1h-1zM320 230h1v1h-1zM326 230h1v1h-1zM262 231h1v1h-1zM267 231h1v1h-1zM269 231h1v1h-1zM277 231h1v1h-1zM278 231h1v1h-1zM279 231h1v1h-1zM280 231h1v1h-1zM283 231h1v1h-1zM286 231h1v1h-1zM288 231h1v1h-1zM289 231h1v1h-1zM291 231h1v1h-1zM292 231h1v1h-1zM293 231h1v1h-1zM295 231h1v1h-1zM297 231h1v1h-1zM311 231h1v1h-1zM312 231h1v1h-1zM313 231h1v1h-1zM314 231h1v1h-1zM315 231h1v1h-1zM320 231h1v1h-1zM321 231h1v1h-1zM323 231h1v1h-1zM328 231h1v1h-1zM329 231h1v1h-1zM262 232h1v1h-1zM263 232h1v1h-1zM268 232h1v1h-1zM278 232h1v1h-1zM281 232h1v1h-1zM290 232h1v1h-1zM293 232h1v1h-1zM294 232h1v1h-1zM295 232h1v1h-1zM301 232h1v1h-1zM308 232h1v1h-1zM327 232h1v1h-1zM332 232h1v1h-1zM266 233h1v1h-1zM269 233h1v1h-1zM273 233h1v1h-1zM275 233h1v1h-1zM276 233h1v1h-1zM278 233h1v1h-1zM280 233h1v1h-1zM292 233h1v1h-1zM296 233h1v1h-1zM297 233h1v1h-1zM298 233h1v1h-1zM299 233h1v1h-1zM304 233h1v1h-1zM309 233h1v1h-1zM311 233h1v1h-1zM312 233h1v1h-1zM327 233h1v1h-1zM329 233h1v1h-1zM266 234h1v1h-1zM268 234h1v1h-1zM273 234h1v1h-1zM274 234h1v1h-1zM275 234h1v1h-1zM277 234h1v1h-1zM280 234h1v1h-1zM281 234h1v1h-1zM282 234h1v1h-1zM283 234h1v1h-1zM285 234h1v1h-1zM286 234h1v1h-1zM287 234h1v1h-1zM291 234h1v1h-1zM294 234h1v1h-1zM298 234h1v1h-1zM300 234h1v1h-1zM304 234h1v1h-1zM307 234h1v1h-1zM308 234h1v1h-1zM310 234h1v1h-1zM316 234h1v1h-1zM317 234h1v1h-1zM321 234h1v1h-1zM327 234h1v1h-1zM330 234h1v1h-1zM335 234h1v1h-1zM340 234h1v1h-1zM262 235h1v1h-1zM267 235h1v1h-1zM269 235h1v1h-1zM278 235h1v1h-1zM279 235h1v1h-1zM281 235h1v1h-1zM283 235h1v1h-1zM284 235h1v1h-1zM286 235h1v1h-1zM290 235h1v1h-1zM292 235h1v1h-1zM295 235h1v1h-1zM304 235h1v1h-1zM307 235h1v1h-1zM309 235h1v1h-1zM311 235h1v1h-1zM318 235h1v1h-1zM323 235h1v1h-1zM325 235h1v1h-1zM329 235h1v1h-1zM265 236h1v1h-1zM266 236h1v1h-1zM270 236h1v1h-1zM273 236h1v1h-1zM275 236h1v1h-1zM277 236h1v1h-1zM279 236h1v1h-1zM280 236h1v1h-1zM283 236h1v1h-1zM285 236h1v1h-1zM287 236h1v1h-1zM291 236h1v1h-1zM296 236h1v1h-1zM299 236h1v1h-1zM301 236h1v1h-1zM308 236h1v1h-1zM310 236h1v1h-1zM313 236h1v1h-1zM316 236h1v1h-1zM318 236h1v1h-1zM322 236h1v1h-1zM328 236h1v1h-1zM265 237h1v1h-1zM266 237h1v1h-1zM275 237h1v1h-1zM276 237h1v1h-1zM277 237h1v1h-1zM283 237h1v1h-1zM292 237h1v1h-1zM293 237h1v1h-1zM296 237h1v1h-1zM297 237h1v1h-1zM298 237h1v1h-1zM302 237h1v1h-1zM306 237h1v1h-1zM307 237h1v1h-1zM308 237h1v1h-1zM310 237h1v1h-1zM312 237h1v1h-1zM313 237h1v1h-1zM317 237h1v1h-1zM318 237h1v1h-1zM327 237h1v1h-1zM275 238h1v1h-1zM277 238h1v1h-1zM279 238h1v1h-1zM283 238h1v1h-1zM286 238h1v1h-1zM289 238h1v1h-1zM290 238h1v1h-1zM291 238h1v1h-1zM293 238h1v1h-1zM294 238h1v1h-1zM296 238h1v1h-1zM299 238h1v1h-1zM302 238h1v1h-1zM303 238h1v1h-1zM306 238h1v1h-1zM310 238h1v1h-1zM317 238h1v1h-1zM318 238h1v1h-1zM320 238h1v1h-1zM324 238h1v1h-1zM264 239h1v1h-1zM266 239h1v1h-1zM267 239h1v1h-1zM268 239h1v1h-1zM271 239h1v1h-1zM273 239h1v1h-1zM276 239h1v1h-1zM277 239h1v1h-1zM278 239h1v1h-1zM279 239h1v1h-1zM280 239h1v1h-1zM286 239h1v1h-1zM289 239h1v1h-1zM290 239h1v1h-1zM292 239h1v1h-1zM293 239h1v1h-1zM295 239h1v1h-1zM303 239h1v1h-1zM307 239h1v1h-1zM310 239h1v1h-1zM312 239h1v1h-1zM317 239h1v1h-1zM322 239h1v1h-1zM335 239h1v1h-1zM262 240h1v1h-1zM265 240h1v1h-1zM276 240h1v1h-1zM281 240h1v1h-1zM283 240h1v1h-1zM285 240h1v1h-1zM287 240h1v1h-1zM288 240h1v1h-1zM290 240h1v1h-1zM292 240h1v1h-1zM295 240h1v1h-1zM296 240h1v1h-1zM297 240h1v1h-1zM303 240h1v1h-1zM306 240h1v1h-1zM308 240h1v1h-1zM309 240h1v1h-1zM312 240h1v1h-1zM313 240h1v1h-1zM314 240h1v1h-1zM322 240h1v1h-1zM323 240h1v1h-1zM324 240h1v1h-1zM327 240h1v1h-1zM263 241h1v1h-1zM265 241h1v1h-1zM267 241h1v1h-1zM271 241h1v1h-1zM276 241h1v1h-1zM279 241h1v1h-1zM281 241h1v1h-1zM282 241h1v1h-1zM286 241h1v1h-1zM287 241h1v1h-1zM288 241h1v1h-1zM290 241h1v1h-1zM291 241h1v1h-1zM294 241h1v1h-1zM295 241h1v1h-1zM297 241h1v1h-1zM299 241h1v1h-1zM301 241h1v1h-1zM302 241h1v1h-1zM307 241h1v1h-1zM313 241h1v1h-1zM317 241h1v1h-1zM319 241h1v1h-1zM322 241h1v1h-1zM325 241h1v1h-1zM331 241h1v1h-1zM268 242h1v1h-1zM272 242h1v1h-1zM273 242h1v1h-1zM274 242h1v1h-1zM277 242h1v1h-1zM278 242h1v1h-1zM282 242h1v1h-1zM290 242h1v1h-1zM297 242h1v1h-1zM299 242h1v1h-1zM306 242h1v1h-1zM307 242h1v1h-1zM308 242h1v1h-1zM311 242h1v1h-1zM321 242h1v1h-1zM323 242h1v1h-1zM336 242h1v1h-1zM264 243h1v1h-1zM268 243h1v1h-1zM271 243h1v1h-1zM275 243h1v1h-1zM277 243h1v1h-1zM278 243h1v1h-1zM280 243h1v1h-1zM288 243h1v1h-1zM301 243h1v1h-1zM305 243h1v1h-1zM311 243h1v1h-1zM313 243h1v1h-1zM264 244h1v1h-1zM265 244h1v1h-1zM266 244h1v1h-1zM270 244h1v1h-1zM271 244h1v1h-1zM274 244h1v1h-1zM276 244h1v1h-1zM282 244h1v1h-1zM284 244h1v1h-1zM286 244h1v1h-1zM287 244h1v1h-1zM291 244h1v1h-1zM293 244h1v1h-1zM299 244h1v1h-1zM300 244h1v1h-1zM301 244h1v1h-1zM306 244h1v1h-1zM307 244h1v1h-1zM308 244h1v1h-1zM309 244h1v1h-1zM316 244h1v1h-1zM317 244h1v1h-1zM319 244h1v1h-1zM321 244h1v1h-1zM264 245h1v1h-1zM271 245h1v1h-1zM272 245h1v1h-1zM274 245h1v1h-1zM278 245h1v1h-1zM279 245h1v1h-1zM280 245h1v1h-1zM282 245h1v1h-1zM284 245h1v1h-1zM289 245h1v1h-1zM293 245h1v1h-1zM295 245h1v1h-1zM296 245h1v1h-1zM298 245h1v1h-1zM300 245h1v1h-1zM308 245h1v1h-1zM310 245h1v1h-1zM312 245h1v1h-1zM315 245h1v1h-1zM317 245h1v1h-1zM318 245h1v1h-1zM320 245h1v1h-1zM322 245h1v1h-1zM339 245h1v1h-1zM262 246h1v1h-1zM263 246h1v1h-1zM264 246h1v1h-1zM266 246h1v1h-1zM276 246h1v1h-1zM278 246h1v1h-1zM281 246h1v1h-1zM282 246h1v1h-1zM286 246h1v1h-1zM292 246h1v1h-1zM296 246h1v1h-1zM297 246h1v1h-1zM302 246h1v1h-1zM306 246h1v1h-1zM308 246h1v1h-1zM318 246h1v1h-1zM328 246h1v1h-1zM329 246h1v1h-1zM266 247h1v1h-1zM272 247h1v1h-1zM275 247h1v1h-1zM276 247h1v1h-1zM283 247h1v1h-1zM287 247h1v1h-1zM291 247h1v1h-1zM295 247h1v1h-1zM296 247h1v1h-1zM297 247h1v1h-1zM306 247h1v1h-1zM312 247h1v1h-1zM313 247h1v1h-1zM316 247h1v1h-1zM317 247h1v1h-1zM319 247h1v1h-1zM322 247h1v1h-1zM325 247h1v1h-1zM329 247h1v1h-1zM337 247h1v1h-1zM263 248h1v1h-1zM272 248h1v1h-1zM273 248h1v1h-1zM275 248h1v1h-1zM279 248h1v1h-1zM282 248h1v1h-1zM283 248h1v1h-1zM284 248h1v1h-1zM285 248h1v1h-1zM290 248h1v1h-1zM291 248h1v1h-1zM294 248h1v1h-1zM297 248h1v1h-1zM298 248h1v1h-1zM300 248h1v1h-1zM302 248h1v1h-1zM304 248h1v1h-1zM308 248h1v1h-1zM309 248h1v1h-1zM312 248h1v1h-1zM314 248h1v1h-1zM317 248h1v1h-1zM321 248h1v1h-1zM323 248h1v1h-1zM262 249h1v1h-1zM264 249h1v1h-1zM268 249h1v1h-1zM277 249h1v1h-1zM278 249h1v1h-1zM282 249h1v1h-1zM283 249h1v1h-1zM284 249h1v1h-1zM287 249h1v1h-1zM288 249h1v1h-1zM289 249h1v1h-1zM294 249h1v1h-1zM307 249h1v1h-1zM308 249h1v1h-1zM309 249h1v1h-1zM322 249h1v1h-1zM324 249h1v1h-1zM340 249h1v1h-1zM269 250h1v1h-1zM274 250h1v1h-1zM275 250h1v1h-1zM281 250h1v1h-1zM286 250h1v1h-1zM287 250h1v1h-1zM290 250h1v1h-1zM291 250h1v1h-1zM293 250h1v1h-1zM307 250h1v1h-1zM311 250h1v1h-1zM317 250h1v1h-1zM318 250h1v1h-1zM321 250h1v1h-1zM266 251h1v1h-1zM268 251h1v1h-1zM270 251h1v1h-1zM272 251h1v1h-1zM275 251h1v1h-1zM283 251h1v1h-1zM284 251h1v1h-1zM288 251h1v1h-1zM289 251h1v1h-1zM290 251h1v1h-1zM292 251h1v1h-1zM304 251h1v1h-1zM306 251h1v1h-1zM312 251h1v1h-1zM313 251h1v1h-1zM319 251h1v1h-1zM332 251h1v1h-1zM338 251h1v1h-1zM263 252h1v1h-1zM264 252h1v1h-1zM265 252h1v1h-1zM266 252h1v1h-1zM272 252h1v1h-1zM274 252h1v1h-1zM284 252h1v1h-1zM285 252h1v1h-1zM286 252h1v1h-1zM290 252h1v1h-1zM293 252h1v1h-1zM298 252h1v1h-1zM303 252h1v1h-1zM306 252h1v1h-1zM314 252h1v1h-1zM316 252h1v1h-1zM319 252h1v1h-1zM324 252h1v1h-1zM262 253h1v1h-1zM263 253h1v1h-1zM264 253h1v1h-1zM266 253h1v1h-1zM276 253h1v1h-1zM277 253h1v1h-1zM278 253h1v1h-1zM280 253h1v1h-1zM282 253h1v1h-1zM286 253h1v1h-1zM287 253h1v1h-1zM291 253h1v1h-1zM292 253h1v1h-1zM295 253h1v1h-1zM299 253h1v1h-1zM313 253h1v1h-1zM318 253h1v1h-1zM320 253h1v1h-1zM339 253h1v1h-1zM269 254h1v1h-1zM272 254h1v1h-1zM282 254h1v1h-1zM283 254h1v1h-1zM285 254h1v1h-1zM287 254h1v1h-1zM288 254h1v1h-1zM294 254h1v1h-1zM305 254h1v1h-1zM319 254h1v1h-1zM322 254h1v1h-1zM326 254h1v1h-1zM339 254h1v1h-1zM262 255h1v1h-1zM269 255h1v1h-1zM270 255h1v1h-1zM272 255h1v1h-1zM275 255h1v1h-1zM279 255h1v1h-1zM282 255h1v1h-1zM284 255h1v1h-1zM285 255h1v1h-1zM287 255h1v1h-1zM290 255h1v1h-1zM292 255h1v1h-1zM294 255h1v1h-1zM295 255h1v1h-1zM296 255h1v1h-1zM297 255h1v1h-1zM305 255h1v1h-1zM314 255h1v1h-1zM266 256h1v1h-1zM270 256h1v1h-1zM271 256h1v1h-1zM277 256h1v1h-1zM278 256h1v1h-1zM283 256h1v1h-1zM286 256h1v1h-1zM289 256h1v1h-1zM294 256h1v1h-1zM296 256h1v1h-1zM298 256h1v1h-1zM300 256h1v1h-1zM302 256h1v1h-1zM316 256h1v1h-1zM318 256h1v1h-1zM323 256h1v1h-1zM327 256h1v1h-1zM332 256h1v1h-1zM264 257h1v1h-1zM268 257h1v1h-1zM269 257h1v1h-1zM274 257h1v1h-1zM276 257h1v1h-1zM277 257h1v1h-1zM285 257h1v1h-1zM289 257h1v1h-1zM302 257h1v1h-1zM306 257h1v1h-1zM317 257h1v1h-1zM321 257h1v1h-1zM265 258h1v1h-1zM268 258h1v1h-1zM270 258h1v1h-1zM272 258h1v1h-1zM273 258h1v1h-1zM275 258h1v1h-1zM276 258h1v1h-1zM279 258h1v1h-1zM287 258h1v1h-1zM288 258h1v1h-1zM291 258h1v1h-1zM296 258h1v1h-1zM303 258h1v1h-1zM304 258h1v1h-1zM317 258h1v1h-1zM333 258h1v1h-1zM340 258h1v1h-1zM264 259h1v1h-1zM268 259h1v1h-1zM273 259h1v1h-1zM274 259h1v1h-1zM277 259h1v1h-1zM285 259h1v1h-1zM286 259h1v1h-1zM289 259h1v1h-1zM293 259h1v1h-1zM294 259h1v1h-1zM295 259h1v1h-1zM297 259h1v1h-1zM318 259h1v1h-1zM270 260h1v1h-1zM271 260h1v1h-1zM283 260h1v1h-1zM290 260h1v1h-1zM291 260h1v1h-1zM293 260h1v1h-1zM294 260h1v1h-1zM297 260h1v1h-1zM302 260h1v1h-1zM315 260h1v1h-1zM318 260h1v1h-1zM262 261h1v1h-1zM263 261h1v1h-1zM274 261h1v1h-1zM279 261h1v1h-1zM280 261h1v1h-1zM283 261h1v1h-1zM285 261h1v1h-1zM286 261h1v1h-1zM289 261h1v1h-1zM291 261h1v1h-1zM294 261h1v1h-1zM310 261h1v1h-1zM321 261h1v1h-1zM337 261h1v1h-1zM268 262h1v1h-1zM275 262h1v1h-1zM279 262h1v1h-1zM281 262h1v1h-1zM285 262h1v1h-1zM290 262h1v1h-1zM293 262h1v1h-1zM296 262h1v1h-1zM297 262h1v1h-1zM323 262h1v1h-1zM262 263h1v1h-1zM264 263h1v1h-1zM266 263h1v1h-1zM277 263h1v1h-1zM280 263h1v1h-1zM287 263h1v1h-1zM292 263h1v1h-1zM294 263h1v1h-1zM310 263h1v1h-1zM325 263h1v1h-1zM262 264h1v1h-1zM267 264h1v1h-1zM282 264h1v1h-1zM283 264h1v1h-1zM285 264h1v1h-1zM297 264h1v1h-1zM299 264h1v1h-1zM329 264h1v1h-1zM280 265h1v1h-1zM287 265h1v1h-1zM302 265h1v1h-1zM303 265h1v1h-1zM273 266h1v1h-1zM274 266h1v1h-1zM276 266h1v1h-1zM289 266h1v1h-1zM295 266h1v1h-1zM299 266h1v1h-1zM320 266h1v1h-1zM262 267h1v1h-1zM265 267h1v1h-1zM272 267h1v1h-1zM292 267h1v1h-1zM325 267h1v1h-1zM285 268h1v1h-1zM290 268h1v1h-1zM311 268h1v1h-1zM335 268h1v1h-1zM265 269h1v1h-1zM280 269h1v1h-1zM295 269h1v1h-1zM300 269h1v1h-1zM318 269h1v1h-1zM332 269h1v1h-1zM276 270h1v1h-1zM277 270h1v1h-1zM281 270h1v1h-1zM284 270h1v1h-1zM285 270h1v1h-1zM286 270h1v1h-1zM289 270h1v1h-1zM291 270h1v1h-1zM312 270h1v1h-1zM329 270h1v1h-1zM286 271h1v1h-1zM289 271h1v1h-1zM299 271h1v1h-1zM316 271h1v1h-1zM321 271h1v1h-1zM335 271h1v1h-1zM340 271h1v1h-1zM279 272h1v1h-1zM288 272h1v1h-1zM289 272h1v1h-1zM290 272h1v1h-1zM294 272h1v1h-1zM312 272h1v1h-1zM430 191h1v1h-1zM445 195h1v1h-1zM429 199h1v1h-1zM440 199h1v1h-1zM425 202h1v1h-1zM417 204h1v1h-1zM445 204h1v1h-1zM421 206h1v1h-1zM434 208h1v1h-1zM444 208h1v1h-1zM413 210h1v1h-1zM427 210h1v1h-1zM417 211h1v1h-1zM443 212h1v1h-1zM423 213h1v1h-1zM444 213h1v1h-1zM414 214h1v1h-1zM434 214h1v1h-1zM444 214h1v1h-1zM427 215h1v1h-1zM399 216h1v1h-1zM414 216h1v1h-1zM417 216h1v1h-1zM428 216h1v1h-1zM435 216h1v1h-1zM438 216h1v1h-1zM445 216h1v1h-1zM417 217h1v1h-1zM425 217h1v1h-1zM437 217h1v1h-1zM407 218h1v1h-1zM424 218h1v1h-1zM429 220h1v1h-1zM430 220h1v1h-1zM402 221h1v1h-1zM422 221h1v1h-1zM429 221h1v1h-1zM384 222h1v1h-1zM389 222h1v1h-1zM395 222h1v1h-1zM398 222h1v1h-1zM399 222h1v1h-1zM400 222h1v1h-1zM407 222h1v1h-1zM409 222h1v1h-1zM412 222h1v1h-1zM415 222h1v1h-1zM419 222h1v1h-1zM443 222h1v1h-1zM377 223h1v1h-1zM398 223h1v1h-1zM408 223h1v1h-1zM411 223h1v1h-1zM413 223h1v1h-1zM423 223h1v1h-1zM379 224h1v1h-1zM388 224h1v1h-1zM419 224h1v1h-1zM420 224h1v1h-1zM431 224h1v1h-1zM382 225h1v1h-1zM388 225h1v1h-1zM393 225h1v1h-1zM399 225h1v1h-1zM411 225h1v1h-1zM416 225h1v1h-1zM388 226h1v1h-1zM395 226h1v1h-1zM401 226h1v1h-1zM402 226h1v1h-1zM403 226h1v1h-1zM409 226h1v1h-1zM417 226h1v1h-1zM418 226h1v1h-1zM439 226h1v1h-1zM440 226h1v1h-1zM441 226h1v1h-1zM375 227h1v1h-1zM380 227h1v1h-1zM382 227h1v1h-1zM392 227h1v1h-1zM397 227h1v1h-1zM398 227h1v1h-1zM403 227h1v1h-1zM404 227h1v1h-1zM416 227h1v1h-1zM430 227h1v1h-1zM432 227h1v1h-1zM440 227h1v1h-1zM376 228h1v1h-1zM384 228h1v1h-1zM396 228h1v1h-1zM399 228h1v1h-1zM406 228h1v1h-1zM419 228h1v1h-1zM424 228h1v1h-1zM433 228h1v1h-1zM440 228h1v1h-1zM377 229h1v1h-1zM378 229h1v1h-1zM384 229h1v1h-1zM385 229h1v1h-1zM386 229h1v1h-1zM392 229h1v1h-1zM393 229h1v1h-1zM396 229h1v1h-1zM407 229h1v1h-1zM411 229h1v1h-1zM413 229h1v1h-1zM416 229h1v1h-1zM418 229h1v1h-1zM419 229h1v1h-1zM420 229h1v1h-1zM423 229h1v1h-1zM424 229h1v1h-1zM425 229h1v1h-1zM367 230h1v1h-1zM374 230h1v1h-1zM376 230h1v1h-1zM379 230h1v1h-1zM380 230h1v1h-1zM384 230h1v1h-1zM385 230h1v1h-1zM394 230h1v1h-1zM395 230h1v1h-1zM396 230h1v1h-1zM412 230h1v1h-1zM415 230h1v1h-1zM416 230h1v1h-1zM424 230h1v1h-1zM427 230h1v1h-1zM428 230h1v1h-1zM438 230h1v1h-1zM374 231h1v1h-1zM376 231h1v1h-1zM381 231h1v1h-1zM384 231h1v1h-1zM386 231h1v1h-1zM388 231h1v1h-1zM394 231h1v1h-1zM395 231h1v1h-1zM397 231h1v1h-1zM398 231h1v1h-1zM399 231h1v1h-1zM403 231h1v1h-1zM409 231h1v1h-1zM414 231h1v1h-1zM417 231h1v1h-1zM426 231h1v1h-1zM428 231h1v1h-1zM431 231h1v1h-1zM434 231h1v1h-1zM439 231h1v1h-1zM366 232h1v1h-1zM369 232h1v1h-1zM376 232h1v1h-1zM377 232h1v1h-1zM379 232h1v1h-1zM387 232h1v1h-1zM390 232h1v1h-1zM394 232h1v1h-1zM398 232h1v1h-1zM402 232h1v1h-1zM403 232h1v1h-1zM418 232h1v1h-1zM419 232h1v1h-1zM421 232h1v1h-1zM425 232h1v1h-1zM428 232h1v1h-1zM433 232h1v1h-1zM369 233h1v1h-1zM370 233h1v1h-1zM376 233h1v1h-1zM381 233h1v1h-1zM382 233h1v1h-1zM383 233h1v1h-1zM387 233h1v1h-1zM389 233h1v1h-1zM390 233h1v1h-1zM391 233h1v1h-1zM393 233h1v1h-1zM396 233h1v1h-1zM398 233h1v1h-1zM399 233h1v1h-1zM400 233h1v1h-1zM402 233h1v1h-1zM403 233h1v1h-1zM406 233h1v1h-1zM407 233h1v1h-1zM414 233h1v1h-1zM415 233h1v1h-1zM419 233h1v1h-1zM423 233h1v1h-1zM424 233h1v1h-1zM429 233h1v1h-1zM433 233h1v1h-1zM434 233h1v1h-1zM442 233h1v1h-1zM370 234h1v1h-1zM372 234h1v1h-1zM382 234h1v1h-1zM385 234h1v1h-1zM388 234h1v1h-1zM395 234h1v1h-1zM400 234h1v1h-1zM403 234h1v1h-1zM407 234h1v1h-1zM411 234h1v1h-1zM419 234h1v1h-1zM422 234h1v1h-1zM423 234h1v1h-1zM424 234h1v1h-1zM426 234h1v1h-1zM427 234h1v1h-1zM429 234h1v1h-1zM431 234h1v1h-1zM368 235h1v1h-1zM370 235h1v1h-1zM372 235h1v1h-1zM376 235h1v1h-1zM379 235h1v1h-1zM383 235h1v1h-1zM386 235h1v1h-1zM393 235h1v1h-1zM397 235h1v1h-1zM400 235h1v1h-1zM411 235h1v1h-1zM412 235h1v1h-1zM414 235h1v1h-1zM417 235h1v1h-1zM418 235h1v1h-1zM419 235h1v1h-1zM423 235h1v1h-1zM426 235h1v1h-1zM428 235h1v1h-1zM429 235h1v1h-1zM431 235h1v1h-1zM437 235h1v1h-1zM442 235h1v1h-1zM366 236h1v1h-1zM369 236h1v1h-1zM372 236h1v1h-1zM375 236h1v1h-1zM384 236h1v1h-1zM385 236h1v1h-1zM394 236h1v1h-1zM395 236h1v1h-1zM396 236h1v1h-1zM398 236h1v1h-1zM402 236h1v1h-1zM411 236h1v1h-1zM420 236h1v1h-1zM422 236h1v1h-1zM423 236h1v1h-1zM424 236h1v1h-1zM427 236h1v1h-1zM428 236h1v1h-1zM440 236h1v1h-1zM373 237h1v1h-1zM375 237h1v1h-1zM378 237h1v1h-1zM388 237h1v1h-1zM391 237h1v1h-1zM392 237h1v1h-1zM398 237h1v1h-1zM400 237h1v1h-1zM401 237h1v1h-1zM406 237h1v1h-1zM407 237h1v1h-1zM409 237h1v1h-1zM411 237h1v1h-1zM413 237h1v1h-1zM414 237h1v1h-1zM416 237h1v1h-1zM417 237h1v1h-1zM421 237h1v1h-1zM422 237h1v1h-1zM424 237h1v1h-1zM435 237h1v1h-1zM367 238h1v1h-1zM372 238h1v1h-1zM377 238h1v1h-1zM380 238h1v1h-1zM386 238h1v1h-1zM389 238h1v1h-1zM393 238h1v1h-1zM394 238h1v1h-1zM397 238h1v1h-1zM399 238h1v1h-1zM405 238h1v1h-1zM408 238h1v1h-1zM413 238h1v1h-1zM414 238h1v1h-1zM418 238h1v1h-1zM423 238h1v1h-1zM432 238h1v1h-1zM433 238h1v1h-1zM376 239h1v1h-1zM378 239h1v1h-1zM380 239h1v1h-1zM382 239h1v1h-1zM383 239h1v1h-1zM384 239h1v1h-1zM386 239h1v1h-1zM388 239h1v1h-1zM389 239h1v1h-1zM393 239h1v1h-1zM397 239h1v1h-1zM398 239h1v1h-1zM405 239h1v1h-1zM406 239h1v1h-1zM409 239h1v1h-1zM413 239h1v1h-1zM418 239h1v1h-1zM420 239h1v1h-1zM425 239h1v1h-1zM428 239h1v1h-1zM431 239h1v1h-1zM432 239h1v1h-1zM435 239h1v1h-1zM438 239h1v1h-1zM443 239h1v1h-1zM369 240h1v1h-1zM372 240h1v1h-1zM373 240h1v1h-1zM377 240h1v1h-1zM379 240h1v1h-1zM380 240h1v1h-1zM381 240h1v1h-1zM382 240h1v1h-1zM385 240h1v1h-1zM390 240h1v1h-1zM393 240h1v1h-1zM395 240h1v1h-1zM396 240h1v1h-1zM397 240h1v1h-1zM399 240h1v1h-1zM403 240h1v1h-1zM405 240h1v1h-1zM408 240h1v1h-1zM409 240h1v1h-1zM410 240h1v1h-1zM413 240h1v1h-1zM416 240h1v1h-1zM417 240h1v1h-1zM420 240h1v1h-1zM422 240h1v1h-1zM424 240h1v1h-1zM427 240h1v1h-1zM438 240h1v1h-1zM370 241h1v1h-1zM374 241h1v1h-1zM376 241h1v1h-1zM377 241h1v1h-1zM378 241h1v1h-1zM379 241h1v1h-1zM386 241h1v1h-1zM387 241h1v1h-1zM388 241h1v1h-1zM389 241h1v1h-1zM390 241h1v1h-1zM396 241h1v1h-1zM399 241h1v1h-1zM401 241h1v1h-1zM408 241h1v1h-1zM411 241h1v1h-1zM413 241h1v1h-1zM416 241h1v1h-1zM418 241h1v1h-1zM425 241h1v1h-1zM432 241h1v1h-1zM438 241h1v1h-1zM441 241h1v1h-1zM445 241h1v1h-1zM369 242h1v1h-1zM372 242h1v1h-1zM374 242h1v1h-1zM375 242h1v1h-1zM376 242h1v1h-1zM378 242h1v1h-1zM382 242h1v1h-1zM386 242h1v1h-1zM392 242h1v1h-1zM398 242h1v1h-1zM401 242h1v1h-1zM402 242h1v1h-1zM405 242h1v1h-1zM411 242h1v1h-1zM412 242h1v1h-1zM413 242h1v1h-1zM416 242h1v1h-1zM417 242h1v1h-1zM422 242h1v1h-1zM428 242h1v1h-1zM429 242h1v1h-1zM366 243h1v1h-1zM375 243h1v1h-1zM376 243h1v1h-1zM379 243h1v1h-1zM380 243h1v1h-1zM384 243h1v1h-1zM388 243h1v1h-1zM393 243h1v1h-1zM395 243h1v1h-1zM397 243h1v1h-1zM404 243h1v1h-1zM407 243h1v1h-1zM413 243h1v1h-1zM414 243h1v1h-1zM419 243h1v1h-1zM422 243h1v1h-1zM425 243h1v1h-1zM428 243h1v1h-1zM432 243h1v1h-1zM433 243h1v1h-1zM369 244h1v1h-1zM370 244h1v1h-1zM377 244h1v1h-1zM380 244h1v1h-1zM383 244h1v1h-1zM386 244h1v1h-1zM388 244h1v1h-1zM393 244h1v1h-1zM403 244h1v1h-1zM412 244h1v1h-1zM415 244h1v1h-1zM416 244h1v1h-1zM419 244h1v1h-1zM434 244h1v1h-1zM366 245h1v1h-1zM370 245h1v1h-1zM376 245h1v1h-1zM377 245h1v1h-1zM384 245h1v1h-1zM386 245h1v1h-1zM387 245h1v1h-1zM394 245h1v1h-1zM398 245h1v1h-1zM400 245h1v1h-1zM401 245h1v1h-1zM402 245h1v1h-1zM404 245h1v1h-1zM413 245h1v1h-1zM420 245h1v1h-1zM421 245h1v1h-1zM426 245h1v1h-1zM427 245h1v1h-1zM431 245h1v1h-1zM377 246h1v1h-1zM382 246h1v1h-1zM385 246h1v1h-1zM391 246h1v1h-1zM396 246h1v1h-1zM398 246h1v1h-1zM401 246h1v1h-1zM402 246h1v1h-1zM404 246h1v1h-1zM406 246h1v1h-1zM412 246h1v1h-1zM415 246h1v1h-1zM421 246h1v1h-1zM423 246h1v1h-1zM432 246h1v1h-1zM366 247h1v1h-1zM376 247h1v1h-1zM382 247h1v1h-1zM385 247h1v1h-1zM397 247h1v1h-1zM399 247h1v1h-1zM401 247h1v1h-1zM407 247h1v1h-1zM408 247h1v1h-1zM421 247h1v1h-1zM425 247h1v1h-1zM426 247h1v1h-1zM430 247h1v1h-1zM431 247h1v1h-1zM432 247h1v1h-1zM433 247h1v1h-1zM437 247h1v1h-1zM441 247h1v1h-1zM378 248h1v1h-1zM380 248h1v1h-1zM383 248h1v1h-1zM384 248h1v1h-1zM385 248h1v1h-1zM389 248h1v1h-1zM390 248h1v1h-1zM392 248h1v1h-1zM394 248h1v1h-1zM397 248h1v1h-1zM403 248h1v1h-1zM412 248h1v1h-1zM413 248h1v1h-1zM417 248h1v1h-1zM422 248h1v1h-1zM368 249h1v1h-1zM369 249h1v1h-1zM371 249h1v1h-1zM372 249h1v1h-1zM375 249h1v1h-1zM376 249h1v1h-1zM378 249h1v1h-1zM379 249h1v1h-1zM381 249h1v1h-1zM383 249h1v1h-1zM384 249h1v1h-1zM390 249h1v1h-1zM396 249h1v1h-1zM397 249h1v1h-1zM398 249h1v1h-1zM399 249h1v1h-1zM403 249h1v1h-1zM405 249h1v1h-1zM406 249h1v1h-1zM407 249h1v1h-1zM415 249h1v1h-1zM425 249h1v1h-1zM428 249h1v1h-1zM429 249h1v1h-1zM431 249h1v1h-1zM443 249h1v1h-1zM368 250h1v1h-1zM372 250h1v1h-1zM380 250h1v1h-1zM381 250h1v1h-1zM386 250h1v1h-1zM389 250h1v1h-1zM391 250h1v1h-1zM392 250h1v1h-1zM395 250h1v1h-1zM396 250h1v1h-1zM397 250h1v1h-1zM398 250h1v1h-1zM400 250h1v1h-1zM404 250h1v1h-1zM408 250h1v1h-1zM413 250h1v1h-1zM419 250h1v1h-1zM422 250h1v1h-1zM423 250h1v1h-1zM429 250h1v1h-1zM431 250h1v1h-1zM435 250h1v1h-1zM436 250h1v1h-1zM370 251h1v1h-1zM374 251h1v1h-1zM376 251h1v1h-1zM388 251h1v1h-1zM389 251h1v1h-1zM391 251h1v1h-1zM393 251h1v1h-1zM395 251h1v1h-1zM396 251h1v1h-1zM397 251h1v1h-1zM399 251h1v1h-1zM400 251h1v1h-1zM404 251h1v1h-1zM408 251h1v1h-1zM410 251h1v1h-1zM433 251h1v1h-1zM367 252h1v1h-1zM368 252h1v1h-1zM372 252h1v1h-1zM374 252h1v1h-1zM376 252h1v1h-1zM379 252h1v1h-1zM380 252h1v1h-1zM382 252h1v1h-1zM385 252h1v1h-1zM388 252h1v1h-1zM392 252h1v1h-1zM399 252h1v1h-1zM401 252h1v1h-1zM403 252h1v1h-1zM408 252h1v1h-1zM409 252h1v1h-1zM422 252h1v1h-1zM433 252h1v1h-1zM442 252h1v1h-1zM368 253h1v1h-1zM375 253h1v1h-1zM376 253h1v1h-1zM380 253h1v1h-1zM381 253h1v1h-1zM384 253h1v1h-1zM386 253h1v1h-1zM387 253h1v1h-1zM393 253h1v1h-1zM394 253h1v1h-1zM397 253h1v1h-1zM398 253h1v1h-1zM400 253h1v1h-1zM403 253h1v1h-1zM404 253h1v1h-1zM408 253h1v1h-1zM409 253h1v1h-1zM414 253h1v1h-1zM429 253h1v1h-1zM430 253h1v1h-1zM435 253h1v1h-1zM442 253h1v1h-1zM366 254h1v1h-1zM368 254h1v1h-1zM371 254h1v1h-1zM377 254h1v1h-1zM385 254h1v1h-1zM387 254h1v1h-1zM388 254h1v1h-1zM390 254h1v1h-1zM395 254h1v1h-1zM396 254h1v1h-1zM406 254h1v1h-1zM409 254h1v1h-1zM432 254h1v1h-1zM435 254h1v1h-1zM377 255h1v1h-1zM381 255h1v1h-1zM382 255h1v1h-1zM384 255h1v1h-1zM389 255h1v1h-1zM391 255h1v1h-1zM392 255h1v1h-1zM393 255h1v1h-1zM395 255h1v1h-1zM396 255h1v1h-1zM400 255h1v1h-1zM401 255h1v1h-1zM411 255h1v1h-1zM415 255h1v1h-1zM421 255h1v1h-1zM431 255h1v1h-1zM366 256h1v1h-1zM374 256h1v1h-1zM376 256h1v1h-1zM378 256h1v1h-1zM386 256h1v1h-1zM387 256h1v1h-1zM388 256h1v1h-1zM394 256h1v1h-1zM397 256h1v1h-1zM405 256h1v1h-1zM412 256h1v1h-1zM370 257h1v1h-1zM373 257h1v1h-1zM383 257h1v1h-1zM391 257h1v1h-1zM394 257h1v1h-1zM396 257h1v1h-1zM402 257h1v1h-1zM412 257h1v1h-1zM435 257h1v1h-1zM368 258h1v1h-1zM370 258h1v1h-1zM373 258h1v1h-1zM390 258h1v1h-1zM395 258h1v1h-1zM401 258h1v1h-1zM412 258h1v1h-1zM414 258h1v1h-1zM418 258h1v1h-1zM438 258h1v1h-1zM366 259h1v1h-1zM373 259h1v1h-1zM375 259h1v1h-1zM376 259h1v1h-1zM380 259h1v1h-1zM381 259h1v1h-1zM383 259h1v1h-1zM386 259h1v1h-1zM396 259h1v1h-1zM399 259h1v1h-1zM402 259h1v1h-1zM407 259h1v1h-1zM411 259h1v1h-1zM431 259h1v1h-1zM368 260h1v1h-1zM373 260h1v1h-1zM375 260h1v1h-1zM381 260h1v1h-1zM387 260h1v1h-1zM391 260h1v1h-1zM395 260h1v1h-1zM401 260h1v1h-1zM407 260h1v1h-1zM409 260h1v1h-1zM412 260h1v1h-1zM413 260h1v1h-1zM427 260h1v1h-1zM439 260h1v1h-1zM442 260h1v1h-1zM366 261h1v1h-1zM368 261h1v1h-1zM385 261h1v1h-1zM388 261h1v1h-1zM394 261h1v1h-1zM399 261h1v1h-1zM411 261h1v1h-1zM414 261h1v1h-1zM417 261h1v1h-1zM377 262h1v1h-1zM384 262h1v1h-1zM394 262h1v1h-1zM395 262h1v1h-1zM400 262h1v1h-1zM402 262h1v1h-1zM409 262h1v1h-1zM410 262h1v1h-1zM413 262h1v1h-1zM414 262h1v1h-1zM416 262h1v1h-1zM426 262h1v1h-1zM374 263h1v1h-1zM376 263h1v1h-1zM382 263h1v1h-1zM386 263h1v1h-1zM387 263h1v1h-1zM390 263h1v1h-1zM392 263h1v1h-1zM402 263h1v1h-1zM407 263h1v1h-1zM372 264h1v1h-1zM374 264h1v1h-1zM375 264h1v1h-1zM379 264h1v1h-1zM389 264h1v1h-1zM397 264h1v1h-1zM402 264h1v1h-1zM368 265h1v1h-1zM370 265h1v1h-1zM373 265h1v1h-1zM374 265h1v1h-1zM375 265h1v1h-1zM378 265h1v1h-1zM384 265h1v1h-1zM392 265h1v1h-1zM402 265h1v1h-1zM411 265h1v1h-1zM430 265h1v1h-1zM380 266h1v1h-1zM382 266h1v1h-1zM384 266h1v1h-1zM386 266h1v1h-1zM388 266h1v1h-1zM392 266h1v1h-1zM393 266h1v1h-1zM399 266h1v1h-1zM401 266h1v1h-1zM421 266h1v1h-1zM428 266h1v1h-1zM384 267h1v1h-1zM400 267h1v1h-1zM406 267h1v1h-1zM423 267h1v1h-1zM439 267h1v1h-1zM442 267h1v1h-1zM374 268h1v1h-1zM387 268h1v1h-1zM405 268h1v1h-1zM407 268h1v1h-1zM409 268h1v1h-1zM385 269h1v1h-1zM393 269h1v1h-1zM404 269h1v1h-1zM446 269h1v1h-1zM380 270h1v1h-1zM388 270h1v1h-1zM416 270h1v1h-1zM433 270h1v1h-1zM381 271h1v1h-1zM383 271h1v1h-1zM385 271h1v1h-1zM387 271h1v1h-1zM402 271h1v1h-1zM407 271h1v1h-1zM425 271h1v1h-1zM374 272h1v1h-1zM378 272h1v1h-1zM412 272h1v1h-1z" fill="#848484"/>
</g>
<line x1="258.10" y1="177.90" x2="468.20" y2="177.90" stroke="#555" stroke-width="1.3"/>
<line x1="258.10" y1="177.30" x2="258.10" y2="274.00" stroke="#555" stroke-width="1.3"/>
<line x1="362.60" y1="177.30" x2="362.60" y2="274.00" stroke="#555" stroke-width="1.3"/>
<line x1="468.20" y1="177.30" x2="468.20" y2="274.00" stroke="#555" stroke-width="1.3"/>
<line x1="257.40" y1="273.50" x2="468.80" y2="273.50" stroke="#555" stroke-width="1.3"/>
<path d="M305.6,273.5 V185 H341.4 V273.5 M305.6,224.4 H341.4" stroke="#333" stroke-width="1.0" fill="none"/>
<path d="M411.4,273.5 V185 H447.3 V273.5 M411.4,224.4 H447.3" stroke="#333" stroke-width="1.0" fill="none"/>
<line x1="259.12" y1="273.50" x2="259.12" y2="276.30" stroke="#222" stroke-width="0.9"/>
<line x1="261.72" y1="273.50" x2="261.72" y2="276.30" stroke="#222" stroke-width="0.9"/>
<line x1="263.74" y1="273.50" x2="263.74" y2="276.30" stroke="#222" stroke-width="0.9"/>
<line x1="265.39" y1="273.50" x2="265.39" y2="276.30" stroke="#222" stroke-width="0.9"/>
<line x1="266.78" y1="273.50" x2="266.78" y2="276.30" stroke="#222" stroke-width="0.9"/>
<line x1="267.98" y1="273.50" x2="267.98" y2="276.30" stroke="#222" stroke-width="0.9"/>
<line x1="269.05" y1="273.50" x2="269.05" y2="276.30" stroke="#222" stroke-width="0.9"/>
<line x1="270.00" y1="273.50" x2="270.00" y2="278.00" stroke="#222" stroke-width="0.9"/>
<line x1="276.26" y1="273.50" x2="276.26" y2="276.30" stroke="#222" stroke-width="0.9"/>
<line x1="279.92" y1="273.50" x2="279.92" y2="276.30" stroke="#222" stroke-width="0.9"/>
<line x1="282.52" y1="273.50" x2="282.52" y2="276.30" stroke="#222" stroke-width="0.9"/>
<line x1="284.54" y1="273.50" x2="284.54" y2="276.30" stroke="#222" stroke-width="0.9"/>
<line x1="286.19" y1="273.50" x2="286.19" y2="276.30" stroke="#222" stroke-width="0.9"/>
<line x1="287.58" y1="273.50" x2="287.58" y2="276.30" stroke="#222" stroke-width="0.9"/>
<line x1="288.78" y1="273.50" x2="288.78" y2="276.30" stroke="#222" stroke-width="0.9"/>
<line x1="289.85" y1="273.50" x2="289.85" y2="276.30" stroke="#222" stroke-width="0.9"/>
<line x1="290.80" y1="273.50" x2="290.80" y2="278.00" stroke="#222" stroke-width="0.9"/>
<line x1="297.06" y1="273.50" x2="297.06" y2="276.30" stroke="#222" stroke-width="0.9"/>
<line x1="300.72" y1="273.50" x2="300.72" y2="276.30" stroke="#222" stroke-width="0.9"/>
<line x1="303.32" y1="273.50" x2="303.32" y2="276.30" stroke="#222" stroke-width="0.9"/>
<line x1="305.34" y1="273.50" x2="305.34" y2="276.30" stroke="#222" stroke-width="0.9"/>
<line x1="306.99" y1="273.50" x2="306.99" y2="276.30" stroke="#222" stroke-width="0.9"/>
<line x1="308.38" y1="273.50" x2="308.38" y2="276.30" stroke="#222" stroke-width="0.9"/>
<line x1="309.58" y1="273.50" x2="309.58" y2="276.30" stroke="#222" stroke-width="0.9"/>
<line x1="310.65" y1="273.50" x2="310.65" y2="276.30" stroke="#222" stroke-width="0.9"/>
<line x1="311.60" y1="273.50" x2="311.60" y2="278.00" stroke="#222" stroke-width="0.9"/>
<line x1="317.86" y1="273.50" x2="317.86" y2="276.30" stroke="#222" stroke-width="0.9"/>
<line x1="321.52" y1="273.50" x2="321.52" y2="276.30" stroke="#222" stroke-width="0.9"/>
<line x1="324.12" y1="273.50" x2="324.12" y2="276.30" stroke="#222" stroke-width="0.9"/>
<line x1="326.14" y1="273.50" x2="326.14" y2="276.30" stroke="#222" stroke-width="0.9"/>
<line x1="327.79" y1="273.50" x2="327.79" y2="276.30" stroke="#222" stroke-width="0.9"/>
<line x1="329.18" y1="273.50" x2="329.18" y2="276.30" stroke="#222" stroke-width="0.9"/>
<line x1="330.38" y1="273.50" x2="330.38" y2="276.30" stroke="#222" stroke-width="0.9"/>
<line x1="331.45" y1="273.50" x2="331.45" y2="276.30" stroke="#222" stroke-width="0.9"/>
<line x1="332.40" y1="273.50" x2="332.40" y2="278.00" stroke="#222" stroke-width="0.9"/>
<line x1="338.66" y1="273.50" x2="338.66" y2="276.30" stroke="#222" stroke-width="0.9"/>
<line x1="342.32" y1="273.50" x2="342.32" y2="276.30" stroke="#222" stroke-width="0.9"/>
<line x1="344.92" y1="273.50" x2="344.92" y2="276.30" stroke="#222" stroke-width="0.9"/>
<line x1="346.94" y1="273.50" x2="346.94" y2="276.30" stroke="#222" stroke-width="0.9"/>
<line x1="348.59" y1="273.50" x2="348.59" y2="276.30" stroke="#222" stroke-width="0.9"/>
<line x1="349.98" y1="273.50" x2="349.98" y2="276.30" stroke="#222" stroke-width="0.9"/>
<line x1="351.18" y1="273.50" x2="351.18" y2="276.30" stroke="#222" stroke-width="0.9"/>
<line x1="352.25" y1="273.50" x2="352.25" y2="276.30" stroke="#222" stroke-width="0.9"/>
<line x1="353.20" y1="273.50" x2="353.20" y2="278.00" stroke="#222" stroke-width="0.9"/>
<line x1="359.46" y1="273.50" x2="359.46" y2="276.30" stroke="#222" stroke-width="0.9"/>
<line x1="365.12" y1="273.50" x2="365.12" y2="276.30" stroke="#222" stroke-width="0.9"/>
<line x1="367.72" y1="273.50" x2="367.72" y2="276.30" stroke="#222" stroke-width="0.9"/>
<line x1="369.74" y1="273.50" x2="369.74" y2="276.30" stroke="#222" stroke-width="0.9"/>
<line x1="371.39" y1="273.50" x2="371.39" y2="276.30" stroke="#222" stroke-width="0.9"/>
<line x1="372.78" y1="273.50" x2="372.78" y2="276.30" stroke="#222" stroke-width="0.9"/>
<line x1="373.98" y1="273.50" x2="373.98" y2="276.30" stroke="#222" stroke-width="0.9"/>
<line x1="375.05" y1="273.50" x2="375.05" y2="276.30" stroke="#222" stroke-width="0.9"/>
<line x1="376.00" y1="273.50" x2="376.00" y2="278.00" stroke="#222" stroke-width="0.9"/>
<line x1="382.26" y1="273.50" x2="382.26" y2="276.30" stroke="#222" stroke-width="0.9"/>
<line x1="385.92" y1="273.50" x2="385.92" y2="276.30" stroke="#222" stroke-width="0.9"/>
<line x1="388.52" y1="273.50" x2="388.52" y2="276.30" stroke="#222" stroke-width="0.9"/>
<line x1="390.54" y1="273.50" x2="390.54" y2="276.30" stroke="#222" stroke-width="0.9"/>
<line x1="392.19" y1="273.50" x2="392.19" y2="276.30" stroke="#222" stroke-width="0.9"/>
<line x1="393.58" y1="273.50" x2="393.58" y2="276.30" stroke="#222" stroke-width="0.9"/>
<line x1="394.78" y1="273.50" x2="394.78" y2="276.30" stroke="#222" stroke-width="0.9"/>
<line x1="395.85" y1="273.50" x2="395.85" y2="276.30" stroke="#222" stroke-width="0.9"/>
<line x1="396.80" y1="273.50" x2="396.80" y2="278.00" stroke="#222" stroke-width="0.9"/>
<line x1="403.06" y1="273.50" x2="403.06" y2="276.30" stroke="#222" stroke-width="0.9"/>
<line x1="406.72" y1="273.50" x2="406.72" y2="276.30" stroke="#222" stroke-width="0.9"/>
<line x1="409.32" y1="273.50" x2="409.32" y2="276.30" stroke="#222" stroke-width="0.9"/>
<line x1="411.34" y1="273.50" x2="411.34" y2="276.30" stroke="#222" stroke-width="0.9"/>
<line x1="412.99" y1="273.50" x2="412.99" y2="276.30" stroke="#222" stroke-width="0.9"/>
<line x1="414.38" y1="273.50" x2="414.38" y2="276.30" stroke="#222" stroke-width="0.9"/>
<line x1="415.58" y1="273.50" x2="415.58" y2="276.30" stroke="#222" stroke-width="0.9"/>
<line x1="416.65" y1="273.50" x2="416.65" y2="276.30" stroke="#222" stroke-width="0.9"/>
<line x1="417.60" y1="273.50" x2="417.60" y2="278.00" stroke="#222" stroke-width="0.9"/>
<line x1="423.86" y1="273.50" x2="423.86" y2="276.30" stroke="#222" stroke-width="0.9"/>
<line x1="427.52" y1="273.50" x2="427.52" y2="276.30" stroke="#222" stroke-width="0.9"/>
<line x1="430.12" y1="273.50" x2="430.12" y2="276.30" stroke="#222" stroke-width="0.9"/>
<line x1="432.14" y1="273.50" x2="432.14" y2="276.30" stroke="#222" stroke-width="0.9"/>
<line x1="433.79" y1="273.50" x2="433.79" y2="276.30" stroke="#222" stroke-width="0.9"/>
<line x1="435.18" y1="273.50" x2="435.18" y2="276.30" stroke="#222" stroke-width="0.9"/>
<line x1="436.38" y1="273.50" x2="436.38" y2="276.30" stroke="#222" stroke-width="0.9"/>
<line x1="437.45" y1="273.50" x2="437.45" y2="276.30" stroke="#222" stroke-width="0.9"/>
<line x1="438.40" y1="273.50" x2="438.40" y2="278.00" stroke="#222" stroke-width="0.9"/>
<line x1="444.66" y1="273.50" x2="444.66" y2="276.30" stroke="#222" stroke-width="0.9"/>
<line x1="448.32" y1="273.50" x2="448.32" y2="276.30" stroke="#222" stroke-width="0.9"/>
<line x1="450.92" y1="273.50" x2="450.92" y2="276.30" stroke="#222" stroke-width="0.9"/>
<line x1="452.94" y1="273.50" x2="452.94" y2="276.30" stroke="#222" stroke-width="0.9"/>
<line x1="454.59" y1="273.50" x2="454.59" y2="276.30" stroke="#222" stroke-width="0.9"/>
<line x1="455.98" y1="273.50" x2="455.98" y2="276.30" stroke="#222" stroke-width="0.9"/>
<line x1="457.18" y1="273.50" x2="457.18" y2="276.30" stroke="#222" stroke-width="0.9"/>
<line x1="458.25" y1="273.50" x2="458.25" y2="276.30" stroke="#222" stroke-width="0.9"/>
<line x1="459.20" y1="273.50" x2="459.20" y2="278.00" stroke="#222" stroke-width="0.9"/>
<line x1="465.46" y1="273.50" x2="465.46" y2="276.30" stroke="#222" stroke-width="0.9"/>
<text x="269.40" y="285.90" font-size="5.6" font-weight="bold" text-anchor="middle" style="stroke-width:0.05px">10<tspan dy="-3.9" font-size="4.2">1</tspan></text>
<text x="375.60" y="285.90" font-size="5.6" font-weight="bold" text-anchor="middle" style="stroke-width:0.05px">10<tspan dy="-3.9" font-size="4.2">1</tspan></text>
<text x="290.20" y="285.90" font-size="5.6" font-weight="bold" text-anchor="middle" style="stroke-width:0.05px">10<tspan dy="-3.9" font-size="4.2">2</tspan></text>
<text x="396.40" y="285.90" font-size="5.6" font-weight="bold" text-anchor="middle" style="stroke-width:0.05px">10<tspan dy="-3.9" font-size="4.2">2</tspan></text>
<text x="311.00" y="285.90" font-size="5.6" font-weight="bold" text-anchor="middle" style="stroke-width:0.05px">10<tspan dy="-3.9" font-size="4.2">3</tspan></text>
<text x="417.20" y="285.90" font-size="5.6" font-weight="bold" text-anchor="middle" style="stroke-width:0.05px">10<tspan dy="-3.9" font-size="4.2">3</tspan></text>
<text x="331.80" y="285.90" font-size="5.6" font-weight="bold" text-anchor="middle" style="stroke-width:0.05px">10<tspan dy="-3.9" font-size="4.2">4</tspan></text>
<text x="438.00" y="285.90" font-size="5.6" font-weight="bold" text-anchor="middle" style="stroke-width:0.05px">10<tspan dy="-3.9" font-size="4.2">4</tspan></text>
<text x="352.60" y="285.90" font-size="5.6" font-weight="bold" text-anchor="middle" style="stroke-width:0.05px">10<tspan dy="-3.9" font-size="4.2">5</tspan></text>
<text x="458.80" y="285.90" font-size="5.6" font-weight="bold" text-anchor="middle" style="stroke-width:0.05px">10<tspan dy="-3.9" font-size="4.2">5</tspan></text>
<line x1="254.80" y1="272.33" x2="257.60" y2="272.33" stroke="#222" stroke-width="0.9"/>
<line x1="254.80" y1="269.96" x2="257.60" y2="269.96" stroke="#222" stroke-width="0.9"/>
<line x1="254.80" y1="268.12" x2="257.60" y2="268.12" stroke="#222" stroke-width="0.9"/>
<line x1="254.80" y1="266.62" x2="257.60" y2="266.62" stroke="#222" stroke-width="0.9"/>
<line x1="254.80" y1="265.34" x2="257.60" y2="265.34" stroke="#222" stroke-width="0.9"/>
<line x1="254.80" y1="264.24" x2="257.60" y2="264.24" stroke="#222" stroke-width="0.9"/>
<line x1="254.80" y1="263.27" x2="257.60" y2="263.27" stroke="#222" stroke-width="0.9"/>
<line x1="252.60" y1="262.40" x2="257.60" y2="262.40" stroke="#222" stroke-width="0.9"/>
<line x1="254.80" y1="256.68" x2="257.60" y2="256.68" stroke="#222" stroke-width="0.9"/>
<line x1="254.80" y1="253.33" x2="257.60" y2="253.33" stroke="#222" stroke-width="0.9"/>
<line x1="254.80" y1="250.96" x2="257.60" y2="250.96" stroke="#222" stroke-width="0.9"/>
<line x1="254.80" y1="249.12" x2="257.60" y2="249.12" stroke="#222" stroke-width="0.9"/>
<line x1="254.80" y1="247.62" x2="257.60" y2="247.62" stroke="#222" stroke-width="0.9"/>
<line x1="254.80" y1="246.34" x2="257.60" y2="246.34" stroke="#222" stroke-width="0.9"/>
<line x1="254.80" y1="245.24" x2="257.60" y2="245.24" stroke="#222" stroke-width="0.9"/>
<line x1="254.80" y1="244.27" x2="257.60" y2="244.27" stroke="#222" stroke-width="0.9"/>
<line x1="252.60" y1="243.40" x2="257.60" y2="243.40" stroke="#222" stroke-width="0.9"/>
<line x1="254.80" y1="237.68" x2="257.60" y2="237.68" stroke="#222" stroke-width="0.9"/>
<line x1="254.80" y1="234.33" x2="257.60" y2="234.33" stroke="#222" stroke-width="0.9"/>
<line x1="254.80" y1="231.96" x2="257.60" y2="231.96" stroke="#222" stroke-width="0.9"/>
<line x1="254.80" y1="230.12" x2="257.60" y2="230.12" stroke="#222" stroke-width="0.9"/>
<line x1="254.80" y1="228.62" x2="257.60" y2="228.62" stroke="#222" stroke-width="0.9"/>
<line x1="254.80" y1="227.34" x2="257.60" y2="227.34" stroke="#222" stroke-width="0.9"/>
<line x1="254.80" y1="226.24" x2="257.60" y2="226.24" stroke="#222" stroke-width="0.9"/>
<line x1="254.80" y1="225.27" x2="257.60" y2="225.27" stroke="#222" stroke-width="0.9"/>
<line x1="252.60" y1="224.40" x2="257.60" y2="224.40" stroke="#222" stroke-width="0.9"/>
<line x1="254.80" y1="218.68" x2="257.60" y2="218.68" stroke="#222" stroke-width="0.9"/>
<line x1="254.80" y1="215.33" x2="257.60" y2="215.33" stroke="#222" stroke-width="0.9"/>
<line x1="254.80" y1="212.96" x2="257.60" y2="212.96" stroke="#222" stroke-width="0.9"/>
<line x1="254.80" y1="211.12" x2="257.60" y2="211.12" stroke="#222" stroke-width="0.9"/>
<line x1="254.80" y1="209.62" x2="257.60" y2="209.62" stroke="#222" stroke-width="0.9"/>
<line x1="254.80" y1="208.34" x2="257.60" y2="208.34" stroke="#222" stroke-width="0.9"/>
<line x1="254.80" y1="207.24" x2="257.60" y2="207.24" stroke="#222" stroke-width="0.9"/>
<line x1="254.80" y1="206.27" x2="257.60" y2="206.27" stroke="#222" stroke-width="0.9"/>
<line x1="252.60" y1="205.40" x2="257.60" y2="205.40" stroke="#222" stroke-width="0.9"/>
<line x1="254.80" y1="199.68" x2="257.60" y2="199.68" stroke="#222" stroke-width="0.9"/>
<line x1="254.80" y1="196.33" x2="257.60" y2="196.33" stroke="#222" stroke-width="0.9"/>
<line x1="254.80" y1="193.96" x2="257.60" y2="193.96" stroke="#222" stroke-width="0.9"/>
<line x1="254.80" y1="192.12" x2="257.60" y2="192.12" stroke="#222" stroke-width="0.9"/>
<line x1="254.80" y1="190.62" x2="257.60" y2="190.62" stroke="#222" stroke-width="0.9"/>
<line x1="254.80" y1="189.34" x2="257.60" y2="189.34" stroke="#222" stroke-width="0.9"/>
<line x1="254.80" y1="188.24" x2="257.60" y2="188.24" stroke="#222" stroke-width="0.9"/>
<line x1="254.80" y1="187.27" x2="257.60" y2="187.27" stroke="#222" stroke-width="0.9"/>
<line x1="252.60" y1="186.40" x2="257.60" y2="186.40" stroke="#222" stroke-width="0.9"/>
<line x1="254.80" y1="180.68" x2="257.60" y2="180.68" stroke="#222" stroke-width="0.9"/>
<text x="252.20" y="262.30" font-size="5.6" font-weight="bold" text-anchor="middle" transform="rotate(-90 252.20 262.30)" style="stroke-width:0.05px">10<tspan dy="-3.9" font-size="4.2">1</tspan></text>
<text x="252.20" y="243.30" font-size="5.6" font-weight="bold" text-anchor="middle" transform="rotate(-90 252.20 243.30)" style="stroke-width:0.05px">10<tspan dy="-3.9" font-size="4.2">2</tspan></text>
<text x="252.20" y="224.30" font-size="5.6" font-weight="bold" text-anchor="middle" transform="rotate(-90 252.20 224.30)" style="stroke-width:0.05px">10<tspan dy="-3.9" font-size="4.2">3</tspan></text>
<text x="252.20" y="205.30" font-size="5.6" font-weight="bold" text-anchor="middle" transform="rotate(-90 252.20 205.30)" style="stroke-width:0.05px">10<tspan dy="-3.9" font-size="4.2">4</tspan></text>
<text x="252.20" y="186.30" font-size="5.6" font-weight="bold" text-anchor="middle" transform="rotate(-90 252.20 186.30)" style="stroke-width:0.05px">10<tspan dy="-3.9" font-size="4.2">5</tspan></text>
<text x="309.85" y="176.60" font-size="10.2" font-weight="normal" text-anchor="middle" textLength="45.00" lengthAdjust="spacingAndGlyphs">Wild Type</text>
<text x="404.50" y="176.80" font-size="10.2" font-weight="normal" text-anchor="middle" textLength="32.30" lengthAdjust="spacingAndGlyphs" font-style="italic">Mysm1</text>
<text x="434.80" y="173.20" font-size="5.9" font-weight="bold" text-anchor="middle" textLength="28.30" lengthAdjust="spacingAndGlyphs" style="stroke-width:0.05px">tm1a/tm1a</text>
<text x="362.95" y="303.60" font-size="10.2" font-weight="normal" text-anchor="middle" textLength="23.60" lengthAdjust="spacingAndGlyphs">B220</text>
<text x="238.80" y="226.65" font-size="10.2" font-weight="normal" text-anchor="middle" transform="rotate(-90 238.80 226.65)" textLength="25.60" lengthAdjust="spacingAndGlyphs">CD19</text>
</svg>
</body></html>
